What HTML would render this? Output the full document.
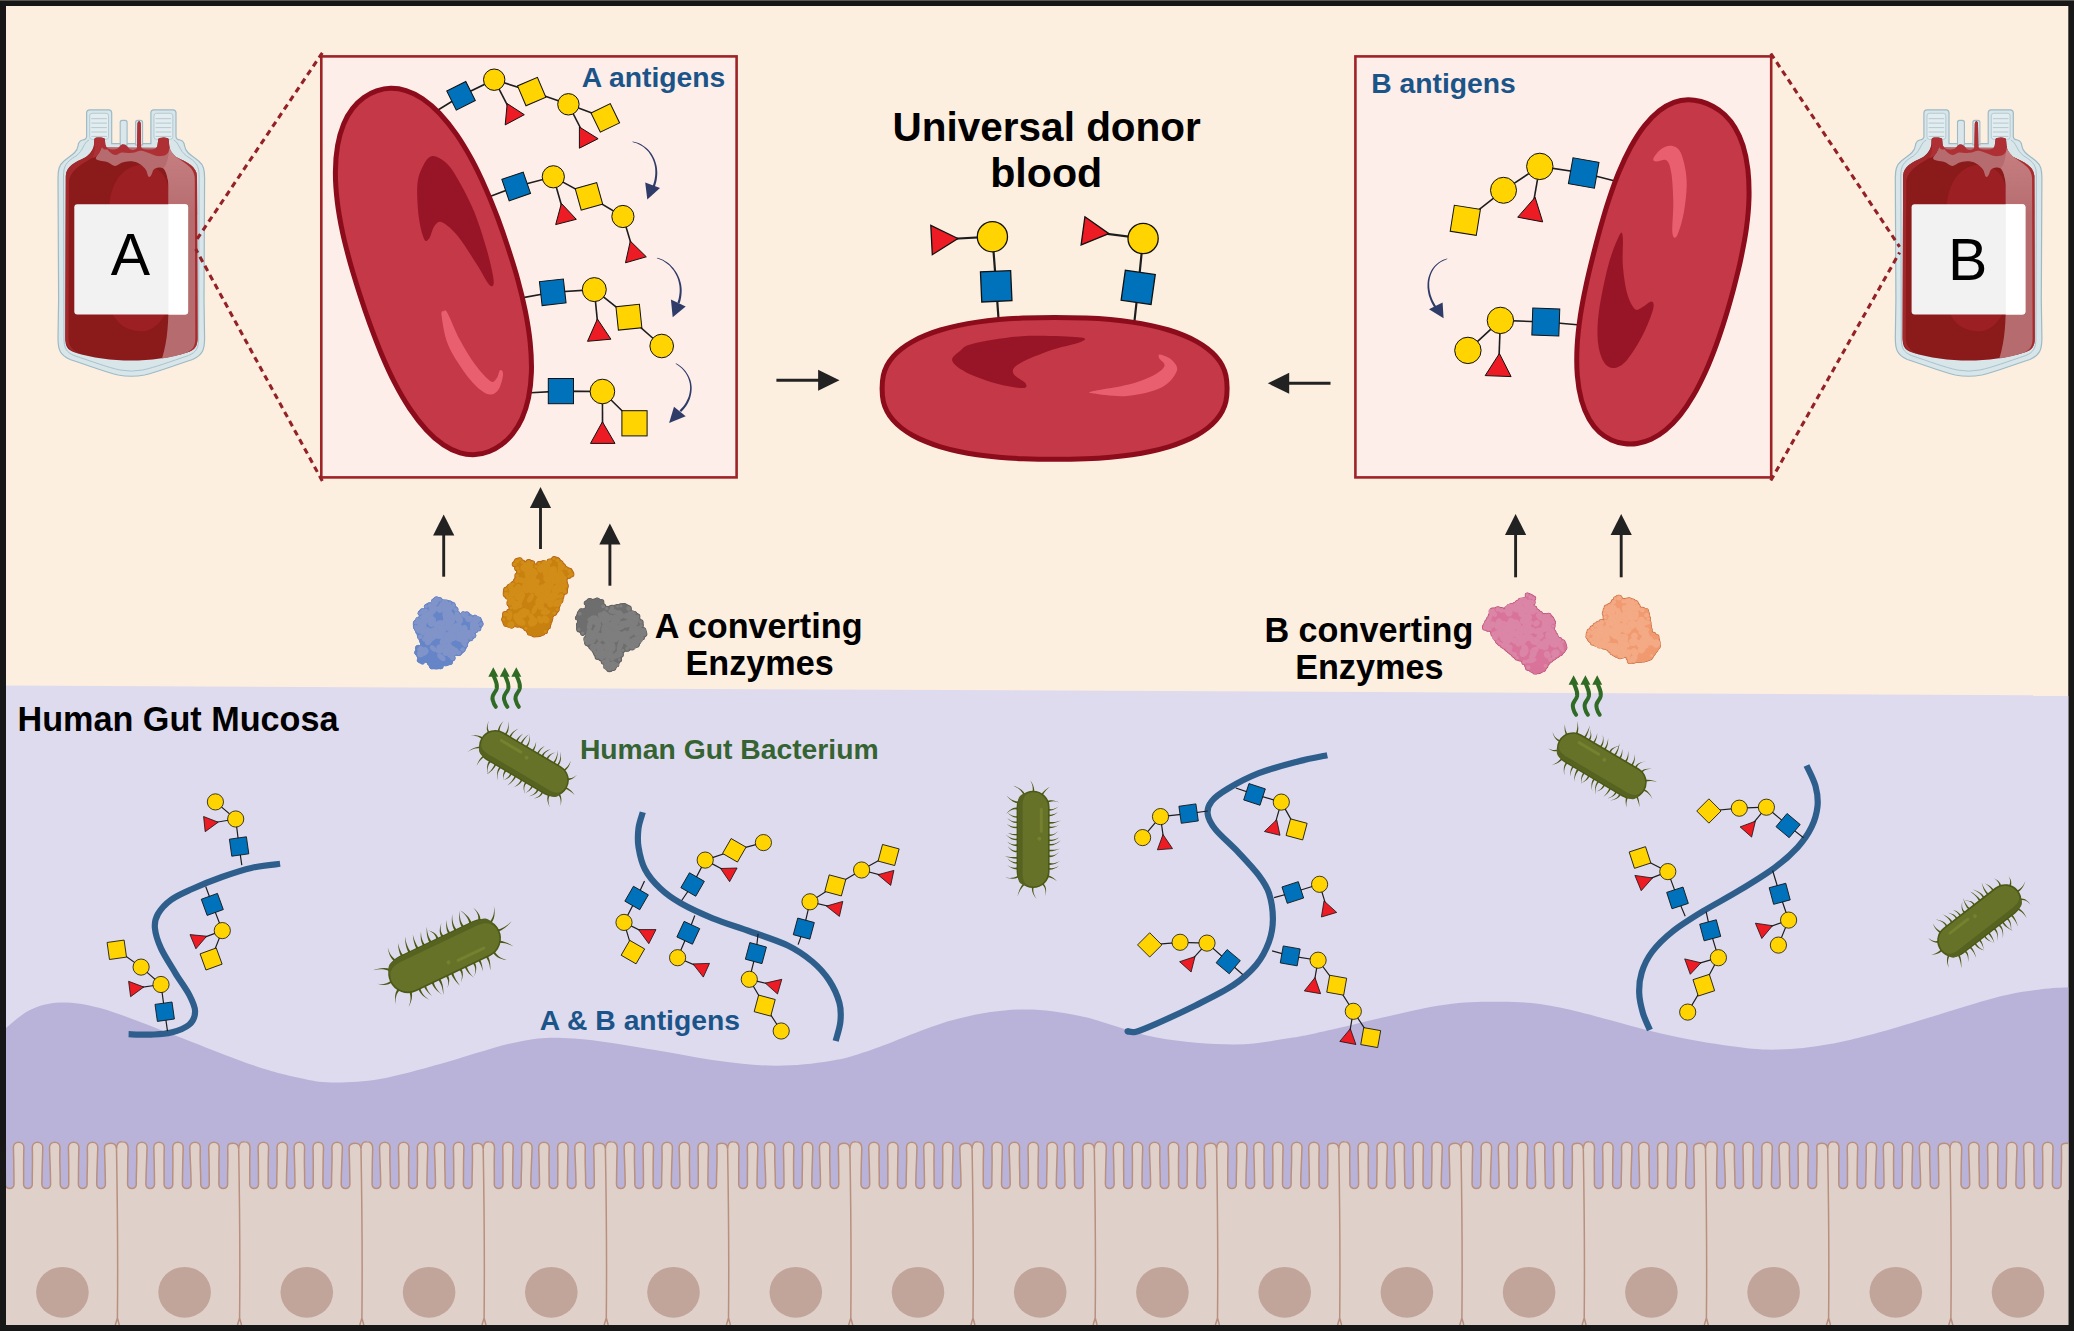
<!DOCTYPE html>
<html lang="en"><head><meta charset="utf-8"><title>Universal donor blood - gut enzymes</title>
<style>html,body{margin:0;padding:0;background:#171717}svg{display:block}text{font-family:"Liberation Sans",sans-serif}</style></head><body>
<svg width="2074" height="1331" viewBox="0 0 2074 1331">
<defs><linearGradient id="shg" gradientUnits="userSpaceOnUse" x1="0" y1="150" x2="0" y2="215"><stop offset="0" stop-color="#C67E80"/><stop offset="0.55" stop-color="#BE7577"/><stop offset="1" stop-color="#B66C6E"/></linearGradient><clipPath id="inner"><rect x="6" y="6" width="2062.3" height="1319"/></clipPath></defs>
<rect x="0" y="0" width="2074" height="1331" fill="#171717"/>
<rect x="0" y="0" width="2074" height="1" fill="#5a5651"/>
<rect x="6" y="6" width="2062.3" height="1319" fill="#FDEFDF"/>
<path d="M6 685.6 L2068.3 695.3 L2068.3 1200 L6 1200Z" fill="#DFDBEE"/>
<path d="M6 1028C10 1025 21 1014.2 30 1010C39 1005.8 48.3 1002.8 60 1002.5C71.7 1002.2 83.7 1003.6 100 1008C116.3 1012.4 132.4 1019.2 157.8 1028.7C183.2 1038.2 228.8 1056.8 252.5 1065C276.2 1073.2 286.9 1075.1 300 1078C313.1 1080.9 318.1 1082.2 331.4 1082.4C344.7 1082.6 361.6 1082.2 380 1079C398.4 1075.8 418.6 1069.8 441.9 1063.5C465.2 1057.2 498 1045.6 520 1041.4C542 1037.2 551.5 1037.1 574 1038.5C596.5 1039.9 630.7 1046.2 655 1050C679.3 1053.8 699.8 1058.4 720 1061C740.2 1063.6 758.2 1065.7 776.5 1065.7C794.8 1065.7 814.2 1063.6 830 1061C845.8 1058.4 850.7 1056.8 871 1050C891.3 1043.2 927.2 1027 952 1020.3C976.8 1013.5 998.2 1010.2 1019.5 1009.5C1040.8 1008.8 1057.2 1011.2 1080 1015.9C1102.8 1020.6 1131 1032.8 1156.6 1037.6C1182.1 1042.4 1211.1 1044.4 1233.3 1044.5C1255.5 1044.6 1273 1040.6 1290 1038C1307 1035.4 1310.9 1034.1 1335.5 1028.7C1360.1 1023.3 1409.9 1010.2 1437.6 1005.7C1465.3 1001.2 1481.1 1001.5 1501.5 1001.8C1521.9 1002.1 1533.2 1002.2 1560 1007.5C1586.8 1012.8 1633.9 1027.4 1662.2 1033.8C1690.5 1040.2 1710.8 1043.4 1730 1046C1749.2 1048.6 1760.4 1049.9 1777.1 1049.6C1793.8 1049.3 1810.8 1047.5 1830 1044C1849.2 1040.5 1864.7 1036.4 1892.1 1028.7C1919.5 1021 1969.6 1004.5 1994.3 998C2019 991.5 2027.7 991.3 2040 989.5C2052.3 987.7 2063.6 987.7 2068.3 987.3 L2068.3 1200 L6 1200Z" fill="#BAB3D9"/>
<g clip-path="url(#inner)">
<path d="M-5.7 1149.2 C-5.6 1143.7 -3.7 1141.6 -0.1 1141.8 C3.4 1141.8 5.4 1143.7 5.4 1148.2 C4.8 1166.2 5.6 1168.4 5.4 1184 C5.1 1189.9 14.3 1189.9 14 1184 C13.8 1168.4 14 1166.2 13.4 1147.6 C13.4 1140.5 23.9 1140.5 23.9 1147.6 C23.3 1166.2 23.8 1168.4 23.6 1184 C23.3 1189.9 32.6 1189.9 32.3 1184 C32.1 1168.4 32.9 1166.2 32.3 1147.6 C32.3 1140.5 42.8 1140.5 42.8 1147.6 C42.2 1166.2 42.1 1168.4 41.9 1184 C41.6 1189.9 50.9 1189.9 50.6 1184 C50.4 1168.4 50.1 1166.2 49.5 1147.6 C49.5 1140.5 60 1140.5 60 1147.6 C59.4 1166.2 60.4 1168.4 60.2 1184 C59.9 1189.9 69.1 1189.9 68.8 1184 C68.6 1168.4 69 1166.2 68.4 1147.6 C68.4 1140.5 78.9 1140.5 78.9 1147.6 C78.3 1166.2 78.6 1168.4 78.4 1184 C78.1 1189.9 87.4 1189.9 87.1 1184 C86.9 1168.4 87.9 1166.2 87.3 1147.6 C87.3 1140.5 97.8 1140.5 97.8 1147.6 C97.2 1166.2 96.9 1168.4 96.7 1184 C96.4 1189.9 105.7 1189.9 105.4 1184 C105.2 1168.4 105.1 1166.2 104.5 1147.6 C104.7 1144.4 106.7 1143.2 110.9 1143.2 C114.5 1143.2 116.4 1144.7 116.5 1149.2 C116.6 1143.7 118.5 1141.6 122.1 1141.8 C126.1 1141.8 128.1 1143.7 128.1 1148.2 C127.5 1166.2 127.8 1168.4 127.6 1184 C127.3 1189.9 136.6 1189.9 136.3 1184 C136.1 1168.4 137.2 1166.2 136.6 1147.6 C136.6 1140.5 147.1 1140.5 147.1 1147.6 C146.5 1166.2 146.1 1168.4 145.9 1184 C145.6 1189.9 154.8 1189.9 154.5 1184 C154.3 1168.4 154.4 1166.2 153.8 1147.6 C153.8 1140.5 164.3 1140.5 164.3 1147.6 C163.7 1166.2 164.3 1168.4 164.1 1184 C163.8 1189.9 173.1 1189.9 172.8 1184 C172.6 1168.4 173.3 1166.2 172.7 1147.6 C172.7 1140.5 183.2 1140.5 183.2 1147.6 C182.6 1166.2 182.6 1168.4 182.4 1184 C182.1 1189.9 191.4 1189.9 191.1 1184 C190.9 1168.4 190.4 1166.2 189.8 1147.6 C189.8 1140.5 200.3 1140.5 200.3 1147.6 C199.7 1166.2 200.9 1168.4 200.7 1184 C200.4 1189.9 209.6 1189.9 209.3 1184 C209.1 1168.4 209.3 1166.2 208.7 1147.6 C208.7 1140.5 219.2 1140.5 219.2 1147.6 C218.6 1166.2 219.1 1168.4 218.9 1184 C218.6 1189.9 227.9 1189.9 227.6 1184 C227.4 1168.4 228.2 1166.2 227.7 1147.6 C227.4 1144.4 229.4 1143.2 233.1 1143.2 C236.7 1143.2 238.6 1144.7 238.7 1149.2 C238.8 1143.7 240.7 1141.6 244.3 1141.8 C248 1141.8 250 1143.7 250 1148.2 C249.4 1166.2 250 1168.4 249.8 1184 C249.5 1189.9 258.8 1189.9 258.5 1184 C258.3 1168.4 258.7 1166.2 258.1 1147.6 C258.1 1140.5 268.6 1140.5 268.6 1147.6 C267.9 1166.2 268.3 1168.4 268.1 1184 C267.8 1189.9 277.1 1189.9 276.8 1184 C276.6 1168.4 277.6 1166.2 277 1147.6 C277 1140.5 287.5 1140.5 287.5 1147.6 C286.9 1166.2 286.6 1168.4 286.4 1184 C286.1 1189.9 295.3 1189.9 295 1184 C294.8 1168.4 294.7 1166.2 294.1 1147.6 C294.1 1140.5 304.6 1140.5 304.6 1147.6 C304 1166.2 304.8 1168.4 304.6 1184 C304.3 1189.9 313.6 1189.9 313.3 1184 C313.1 1168.4 313.6 1166.2 313 1147.6 C313 1140.5 323.5 1140.5 323.5 1147.6 C322.9 1166.2 323.1 1168.4 322.9 1184 C322.6 1189.9 331.9 1189.9 331.6 1184 C331.4 1168.4 332.5 1166.2 331.9 1147.6 C331.9 1140.5 342.4 1140.5 342.4 1147.6 C341.8 1166.2 341.4 1168.4 341.2 1184 C340.9 1189.9 350.2 1189.9 349.9 1184 C349.7 1168.4 349.7 1166.2 349.1 1147.6 C349.2 1144.4 351.2 1143.2 355.4 1143.2 C359 1143.2 360.9 1144.7 361 1149.2 C361.1 1143.7 363 1141.6 366.6 1141.8 C370.7 1141.8 372.7 1143.7 372.7 1148.2 C372.1 1166.2 372.3 1168.4 372.1 1184 C371.8 1189.9 381 1189.9 380.7 1184 C380.5 1168.4 380.1 1166.2 379.5 1147.6 C379.5 1140.5 390 1140.5 390 1147.6 C389.4 1166.2 390.5 1168.4 390.3 1184 C390 1189.9 399.3 1189.9 399 1184 C398.8 1168.4 399 1166.2 398.4 1147.6 C398.4 1140.5 408.9 1140.5 408.9 1147.6 C408.3 1166.2 408.8 1168.4 408.6 1184 C408.3 1189.9 417.6 1189.9 417.3 1184 C417.1 1168.4 417.9 1166.2 417.3 1147.6 C417.3 1140.5 427.8 1140.5 427.8 1147.6 C427.2 1166.2 427.1 1168.4 426.9 1184 C426.6 1189.9 435.8 1189.9 435.5 1184 C435.3 1168.4 435.1 1166.2 434.4 1147.6 C434.4 1140.5 444.9 1140.5 444.9 1147.6 C444.3 1166.2 445.3 1168.4 445.1 1184 C444.8 1189.9 454.1 1189.9 453.8 1184 C453.6 1168.4 454 1166.2 453.4 1147.6 C453.4 1140.5 463.9 1140.5 463.9 1147.6 C463.3 1166.2 463.6 1168.4 463.4 1184 C463.1 1189.9 472.4 1189.9 472.1 1184 C471.9 1168.4 472.9 1166.2 472.3 1147.6 C471.9 1144.4 473.9 1143.2 477.6 1143.2 C481.2 1143.2 483.1 1144.7 483.2 1149.2 C483.3 1143.7 485.2 1141.6 488.8 1141.8 C492.5 1141.8 494.5 1143.7 494.5 1148.2 C493.9 1166.2 494.5 1168.4 494.3 1184 C494 1189.9 503.3 1189.9 503 1184 C502.8 1168.4 503.3 1166.2 502.7 1147.6 C502.7 1140.5 513.2 1140.5 513.2 1147.6 C512.6 1166.2 512.8 1168.4 512.6 1184 C512.3 1189.9 521.5 1189.9 521.2 1184 C521 1168.4 522.2 1166.2 521.6 1147.6 C521.6 1140.5 532.1 1140.5 532.1 1147.6 C531.5 1166.2 531 1168.4 530.8 1184 C530.5 1189.9 539.8 1189.9 539.5 1184 C539.3 1168.4 539.3 1166.2 538.7 1147.6 C538.7 1140.5 549.2 1140.5 549.2 1147.6 C548.6 1166.2 549.3 1168.4 549.1 1184 C548.8 1189.9 558.1 1189.9 557.8 1184 C557.6 1168.4 558.2 1166.2 557.6 1147.6 C557.6 1140.5 568.1 1140.5 568.1 1147.6 C567.5 1166.2 567.6 1168.4 567.4 1184 C567.1 1189.9 576.3 1189.9 576 1184 C575.8 1168.4 575.4 1166.2 574.8 1147.6 C574.8 1140.5 585.3 1140.5 585.3 1147.6 C584.7 1166.2 585.8 1168.4 585.6 1184 C585.3 1189.9 594.6 1189.9 594.3 1184 C594.1 1168.4 594.3 1166.2 593.7 1147.6 C593.8 1144.4 595.8 1143.2 599.8 1143.2 C603.4 1143.2 605.3 1144.7 605.4 1149.2 C605.5 1143.7 607.4 1141.6 611 1141.8 C615.2 1141.8 617.2 1143.7 617.2 1148.2 C616.6 1166.2 616.7 1168.4 616.5 1184 C616.2 1189.9 625.5 1189.9 625.2 1184 C625 1168.4 624.7 1166.2 624.1 1147.6 C624.1 1140.5 634.6 1140.5 634.6 1147.6 C634 1166.2 635 1168.4 634.8 1184 C634.5 1189.9 643.8 1189.9 643.5 1184 C643.3 1168.4 643.6 1166.2 643 1147.6 C643 1140.5 653.5 1140.5 653.5 1147.6 C652.9 1166.2 653.3 1168.4 653.1 1184 C652.8 1189.9 662 1189.9 661.7 1184 C661.5 1168.4 662.5 1166.2 661.9 1147.6 C661.9 1140.5 672.4 1140.5 672.4 1147.6 C671.8 1166.2 671.5 1168.4 671.3 1184 C671 1189.9 680.3 1189.9 680 1184 C679.8 1168.4 679.7 1166.2 679.1 1147.6 C679.1 1140.5 689.6 1140.5 689.6 1147.6 C689 1166.2 689.8 1168.4 689.6 1184 C689.3 1189.9 698.6 1189.9 698.3 1184 C698.1 1168.4 698.6 1166.2 698 1147.6 C698 1140.5 708.5 1140.5 708.5 1147.6 C707.9 1166.2 708.1 1168.4 707.9 1184 C707.6 1189.9 716.8 1189.9 716.5 1184 C716.3 1168.4 717.5 1166.2 716.9 1147.6 C716.5 1144.4 718.5 1143.2 722 1143.2 C725.6 1143.2 727.5 1144.7 727.6 1149.2 C727.8 1143.7 729.6 1141.6 733.2 1141.8 C737 1141.8 739 1143.7 739 1148.2 C738.4 1166.2 738.9 1168.4 738.7 1184 C738.4 1189.9 747.7 1189.9 747.4 1184 C747.2 1168.4 747.9 1166.2 747.3 1147.6 C747.3 1140.5 757.8 1140.5 757.8 1147.6 C757.2 1166.2 757.2 1168.4 757 1184 C756.7 1189.9 766 1189.9 765.7 1184 C765.5 1168.4 765 1166.2 764.4 1147.6 C764.4 1140.5 774.9 1140.5 774.9 1147.6 C774.3 1166.2 775.5 1168.4 775.3 1184 C775 1189.9 784.3 1189.9 784 1184 C783.8 1168.4 784 1166.2 783.4 1147.6 C783.4 1140.5 793.9 1140.5 793.9 1147.6 C793.2 1166.2 793.8 1168.4 793.6 1184 C793.3 1189.9 802.5 1189.9 802.2 1184 C802 1168.4 802.9 1166.2 802.3 1147.6 C802.3 1140.5 812.8 1140.5 812.8 1147.6 C812.2 1166.2 812 1168.4 811.8 1184 C811.5 1189.9 820.8 1189.9 820.5 1184 C820.3 1168.4 820 1166.2 819.4 1147.6 C819.4 1140.5 829.9 1140.5 829.9 1147.6 C829.3 1166.2 830.3 1168.4 830.1 1184 C829.8 1189.9 839.1 1189.9 838.8 1184 C838.6 1168.4 838.9 1166.2 838.3 1147.6 C838.3 1144.4 840.3 1143.2 844.3 1143.2 C847.9 1143.2 849.8 1144.7 849.9 1149.2 C850 1143.7 851.9 1141.6 855.5 1141.8 C859.8 1141.8 861.8 1143.7 861.8 1148.2 C861.1 1166.2 861.2 1168.4 861 1184 C860.7 1189.9 870 1189.9 869.7 1184 C869.5 1168.4 869.3 1166.2 868.7 1147.6 C868.7 1140.5 879.2 1140.5 879.2 1147.6 C878.6 1166.2 879.5 1168.4 879.2 1184 C879 1189.9 888.2 1189.9 887.9 1184 C887.7 1168.4 888.2 1166.2 887.6 1147.6 C887.6 1140.5 898.1 1140.5 898.1 1147.6 C897.5 1166.2 897.7 1168.4 897.5 1184 C897.2 1189.9 906.5 1189.9 906.2 1184 C906 1168.4 907.1 1166.2 906.5 1147.6 C906.5 1140.5 917 1140.5 917 1147.6 C916.4 1166.2 916 1168.4 915.8 1184 C915.5 1189.9 924.8 1189.9 924.5 1184 C924.3 1168.4 924.3 1166.2 923.7 1147.6 C923.7 1140.5 934.2 1140.5 934.2 1147.6 C933.6 1166.2 934.3 1168.4 934.1 1184 C933.8 1189.9 943 1189.9 942.7 1184 C942.5 1168.4 943.2 1166.2 942.6 1147.6 C942.6 1140.5 953.1 1140.5 953.1 1147.6 C952.5 1166.2 952.5 1168.4 952.3 1184 C952 1189.9 961.3 1189.9 961 1184 C960.8 1168.4 960.4 1166.2 959.8 1147.6 C960.1 1144.4 962.1 1143.2 966.5 1143.2 C970.1 1143.2 972 1144.7 972.1 1149.2 C972.2 1143.7 974.1 1141.6 977.7 1141.8 C981.6 1141.8 983.6 1143.7 983.6 1148.2 C983 1166.2 983.4 1168.4 983.2 1184 C982.9 1189.9 992.2 1189.9 991.9 1184 C991.7 1168.4 992.5 1166.2 991.9 1147.6 C991.9 1140.5 1002.4 1140.5 1002.4 1147.6 C1001.8 1166.2 1001.7 1168.4 1001.5 1184 C1001.2 1189.9 1010.5 1189.9 1010.2 1184 C1010 1168.4 1009.7 1166.2 1009.1 1147.6 C1009.1 1140.5 1019.6 1140.5 1019.6 1147.6 C1019 1166.2 1020 1168.4 1019.8 1184 C1019.5 1189.9 1028.7 1189.9 1028.4 1184 C1028.2 1168.4 1028.6 1166.2 1028 1147.6 C1028 1140.5 1038.5 1140.5 1038.5 1147.6 C1037.9 1166.2 1038.2 1168.4 1038 1184 C1037.7 1189.9 1047 1189.9 1046.7 1184 C1046.5 1168.4 1047.5 1166.2 1046.9 1147.6 C1046.9 1140.5 1057.4 1140.5 1057.4 1147.6 C1056.8 1166.2 1056.5 1168.4 1056.3 1184 C1056 1189.9 1065.3 1189.9 1065 1184 C1064.8 1168.4 1064.6 1166.2 1064 1147.6 C1064 1140.5 1074.5 1140.5 1074.5 1147.6 C1073.9 1166.2 1074.8 1168.4 1074.6 1184 C1074.3 1189.9 1083.5 1189.9 1083.2 1184 C1083 1168.4 1083.5 1166.2 1082.9 1147.6 C1082.9 1144.4 1084.9 1143.2 1088.7 1143.2 C1092.3 1143.2 1094.2 1144.7 1094.3 1149.2 C1094.4 1143.7 1096.3 1141.6 1099.9 1141.8 C1104.3 1141.8 1106.3 1143.7 1106.3 1148.2 C1105.7 1166.2 1105.6 1168.4 1105.4 1184 C1105.1 1189.9 1114.4 1189.9 1114.1 1184 C1113.9 1168.4 1113.9 1166.2 1113.3 1147.6 C1113.3 1140.5 1123.8 1140.5 1123.8 1147.6 C1123.2 1166.2 1123.9 1168.4 1123.7 1184 C1123.4 1189.9 1132.7 1189.9 1132.4 1184 C1132.2 1168.4 1132.8 1166.2 1132.2 1147.6 C1132.2 1140.5 1142.7 1140.5 1142.7 1147.6 C1142.1 1166.2 1142.2 1168.4 1142 1184 C1141.7 1189.9 1150.9 1189.9 1150.6 1184 C1150.4 1168.4 1150 1166.2 1149.4 1147.6 C1149.4 1140.5 1159.9 1140.5 1159.9 1147.6 C1159.3 1166.2 1160.4 1168.4 1160.2 1184 C1159.9 1189.9 1169.2 1189.9 1168.9 1184 C1168.7 1168.4 1168.9 1166.2 1168.3 1147.6 C1168.3 1140.5 1178.8 1140.5 1178.8 1147.6 C1178.2 1166.2 1178.7 1168.4 1178.5 1184 C1178.2 1189.9 1187.5 1189.9 1187.2 1184 C1187 1168.4 1187.8 1166.2 1187.2 1147.6 C1187.2 1140.5 1197.7 1140.5 1197.7 1147.6 C1197.1 1166.2 1197 1168.4 1196.8 1184 C1196.5 1189.9 1205.8 1189.9 1205.5 1184 C1205.3 1168.4 1205 1166.2 1204.4 1147.6 C1204.7 1144.4 1206.7 1143.2 1211 1143.2 C1214.6 1143.2 1216.5 1144.7 1216.6 1149.2 C1216.7 1143.7 1218.6 1141.6 1222.2 1141.8 C1226.1 1141.8 1228.1 1143.7 1228.1 1148.2 C1227.5 1166.2 1227.9 1168.4 1227.7 1184 C1227.4 1189.9 1236.6 1189.9 1236.3 1184 C1236.1 1168.4 1237.1 1166.2 1236.5 1147.6 C1236.5 1140.5 1247 1140.5 1247 1147.6 C1246.4 1166.2 1246.1 1168.4 1245.9 1184 C1245.6 1189.9 1254.9 1189.9 1254.6 1184 C1254.4 1168.4 1254.3 1166.2 1253.7 1147.6 C1253.7 1140.5 1264.2 1140.5 1264.2 1147.6 C1263.6 1166.2 1264.4 1168.4 1264.2 1184 C1263.9 1189.9 1273.2 1189.9 1272.9 1184 C1272.7 1168.4 1273.2 1166.2 1272.6 1147.6 C1272.6 1140.5 1283.1 1140.5 1283.1 1147.6 C1282.5 1166.2 1282.7 1168.4 1282.5 1184 C1282.2 1189.9 1291.4 1189.9 1291.1 1184 C1290.9 1168.4 1292.1 1166.2 1291.5 1147.6 C1291.5 1140.5 1302 1140.5 1302 1147.6 C1301.4 1166.2 1300.9 1168.4 1300.7 1184 C1300.4 1189.9 1309.7 1189.9 1309.4 1184 C1309.2 1168.4 1309.2 1166.2 1308.7 1147.6 C1308.7 1140.5 1319.2 1140.5 1319.2 1147.6 C1318.6 1166.2 1319.2 1168.4 1319 1184 C1318.7 1189.9 1328 1189.9 1327.7 1184 C1327.5 1168.4 1328.2 1166.2 1327.6 1147.6 C1327.4 1144.4 1329.4 1143.2 1333.2 1143.2 C1336.8 1143.2 1338.7 1144.7 1338.8 1149.2 C1338.9 1143.7 1340.8 1141.6 1344.4 1141.8 C1347.9 1141.8 1349.9 1143.7 1349.9 1148.2 C1349.3 1166.2 1350.1 1168.4 1349.9 1184 C1349.6 1189.9 1358.9 1189.9 1358.6 1184 C1358.4 1168.4 1358.6 1166.2 1358 1147.6 C1358 1140.5 1368.5 1140.5 1368.5 1147.6 C1367.9 1166.2 1368.4 1168.4 1368.2 1184 C1367.9 1189.9 1377.1 1189.9 1376.8 1184 C1376.6 1168.4 1377.5 1166.2 1376.9 1147.6 C1376.9 1140.5 1387.4 1140.5 1387.4 1147.6 C1386.8 1166.2 1386.6 1168.4 1386.4 1184 C1386.1 1189.9 1395.4 1189.9 1395.1 1184 C1394.9 1168.4 1394.6 1166.2 1394 1147.6 C1394 1140.5 1404.5 1140.5 1404.5 1147.6 C1403.9 1166.2 1404.9 1168.4 1404.7 1184 C1404.4 1189.9 1413.7 1189.9 1413.4 1184 C1413.2 1168.4 1413.5 1166.2 1412.9 1147.6 C1412.9 1140.5 1423.4 1140.5 1423.4 1147.6 C1422.8 1166.2 1423.2 1168.4 1423 1184 C1422.7 1189.9 1432 1189.9 1431.7 1184 C1431.5 1168.4 1432.4 1166.2 1431.8 1147.6 C1431.8 1140.5 1442.3 1140.5 1442.3 1147.6 C1441.7 1166.2 1441.5 1168.4 1441.2 1184 C1441 1189.9 1450.2 1189.9 1449.9 1184 C1449.7 1168.4 1449.6 1166.2 1449 1147.6 C1449.2 1144.4 1451.2 1143.2 1455.4 1143.2 C1459 1143.2 1460.9 1144.7 1461 1149.2 C1461.1 1143.7 1463 1141.6 1466.6 1141.8 C1470.7 1141.8 1472.7 1143.7 1472.7 1148.2 C1472.1 1166.2 1472.3 1168.4 1472.1 1184 C1471.8 1189.9 1481.1 1189.9 1480.8 1184 C1480.6 1168.4 1481.7 1166.2 1481.1 1147.6 C1481.1 1140.5 1491.6 1140.5 1491.6 1147.6 C1491 1166.2 1490.6 1168.4 1490.4 1184 C1490.1 1189.9 1499.4 1189.9 1499.1 1184 C1498.9 1168.4 1498.9 1166.2 1498.3 1147.6 C1498.3 1140.5 1508.8 1140.5 1508.8 1147.6 C1508.2 1166.2 1508.9 1168.4 1508.7 1184 C1508.4 1189.9 1517.6 1189.9 1517.3 1184 C1517.1 1168.4 1517.8 1166.2 1517.2 1147.6 C1517.2 1140.5 1527.7 1140.5 1527.7 1147.6 C1527.1 1166.2 1527.1 1168.4 1526.9 1184 C1526.6 1189.9 1535.9 1189.9 1535.6 1184 C1535.4 1168.4 1535 1166.2 1534.4 1147.6 C1534.4 1140.5 1544.9 1140.5 1544.9 1147.6 C1544.3 1166.2 1545.4 1168.4 1545.2 1184 C1544.9 1189.9 1554.2 1189.9 1553.9 1184 C1553.7 1168.4 1553.9 1166.2 1553.3 1147.6 C1553.3 1140.5 1563.8 1140.5 1563.8 1147.6 C1563.2 1166.2 1563.7 1168.4 1563.5 1184 C1563.2 1189.9 1572.5 1189.9 1572.2 1184 C1572 1168.4 1572.8 1166.2 1572.2 1147.6 C1571.9 1144.4 1573.9 1143.2 1577.7 1143.2 C1581.3 1143.2 1583.2 1144.7 1583.3 1149.2 C1583.4 1143.7 1585.3 1141.6 1588.9 1141.8 C1592.5 1141.8 1594.5 1143.7 1594.5 1148.2 C1593.9 1166.2 1594.6 1168.4 1594.4 1184 C1594.1 1189.9 1603.3 1189.9 1603 1184 C1602.8 1168.4 1603.2 1166.2 1602.6 1147.6 C1602.6 1140.5 1613.1 1140.5 1613.1 1147.6 C1612.5 1166.2 1612.8 1168.4 1612.6 1184 C1612.3 1189.9 1621.6 1189.9 1621.3 1184 C1621.1 1168.4 1622.1 1166.2 1621.5 1147.6 C1621.5 1140.5 1632 1140.5 1632 1147.6 C1631.4 1166.2 1631.1 1168.4 1630.9 1184 C1630.6 1189.9 1639.9 1189.9 1639.6 1184 C1639.4 1168.4 1639.2 1166.2 1638.6 1147.6 C1638.6 1140.5 1649.1 1140.5 1649.1 1147.6 C1648.5 1166.2 1649.4 1168.4 1649.2 1184 C1648.9 1189.9 1658.1 1189.9 1657.8 1184 C1657.6 1168.4 1658.1 1166.2 1657.5 1147.6 C1657.5 1140.5 1668 1140.5 1668 1147.6 C1667.5 1166.2 1667.6 1168.4 1667.4 1184 C1667.1 1189.9 1676.4 1189.9 1676.1 1184 C1675.9 1168.4 1677.1 1166.2 1676.5 1147.6 C1676.5 1140.5 1687 1140.5 1687 1147.6 C1686.4 1166.2 1685.9 1168.4 1685.7 1184 C1685.4 1189.9 1694.7 1189.9 1694.4 1184 C1694.2 1168.4 1694.2 1166.2 1693.6 1147.6 C1693.8 1144.4 1695.8 1143.2 1699.9 1143.2 C1703.5 1143.2 1705.4 1144.7 1705.5 1149.2 C1705.6 1143.7 1707.5 1141.6 1711.1 1141.8 C1715.2 1141.8 1717.2 1143.7 1717.2 1148.2 C1716.6 1166.2 1716.8 1168.4 1716.6 1184 C1716.3 1189.9 1725.6 1189.9 1725.3 1184 C1725.1 1168.4 1724.6 1166.2 1724 1147.6 C1724 1140.5 1734.5 1140.5 1734.5 1147.6 C1733.9 1166.2 1735.1 1168.4 1734.9 1184 C1734.6 1189.9 1743.8 1189.9 1743.5 1184 C1743.3 1168.4 1743.5 1166.2 1742.9 1147.6 C1742.9 1140.5 1753.4 1140.5 1753.4 1147.6 C1752.8 1166.2 1753.3 1168.4 1753.1 1184 C1752.8 1189.9 1762.1 1189.9 1761.8 1184 C1761.6 1168.4 1762.4 1166.2 1761.8 1147.6 C1761.8 1140.5 1772.3 1140.5 1772.3 1147.6 C1771.7 1166.2 1771.6 1168.4 1771.4 1184 C1771.1 1189.9 1780.4 1189.9 1780.1 1184 C1779.9 1168.4 1779.6 1166.2 1779 1147.6 C1779 1140.5 1789.5 1140.5 1789.5 1147.6 C1788.9 1166.2 1789.9 1168.4 1789.7 1184 C1789.4 1189.9 1798.6 1189.9 1798.3 1184 C1798.1 1168.4 1798.5 1166.2 1797.9 1147.6 C1797.9 1140.5 1808.4 1140.5 1808.4 1147.6 C1807.8 1166.2 1808.1 1168.4 1807.9 1184 C1807.6 1189.9 1816.9 1189.9 1816.6 1184 C1816.4 1168.4 1817.4 1166.2 1816.8 1147.6 C1816.5 1144.4 1818.5 1143.2 1822.1 1143.2 C1825.7 1143.2 1827.6 1144.7 1827.7 1149.2 C1827.8 1143.7 1829.7 1141.6 1833.3 1141.8 C1837 1141.8 1839 1143.7 1839 1148.2 C1838.4 1166.2 1839 1168.4 1838.8 1184 C1838.5 1189.9 1847.8 1189.9 1847.5 1184 C1847.3 1168.4 1847.8 1166.2 1847.2 1147.6 C1847.2 1140.5 1857.7 1140.5 1857.7 1147.6 C1857.1 1166.2 1857.3 1168.4 1857.1 1184 C1856.8 1189.9 1866.1 1189.9 1865.8 1184 C1865.6 1168.4 1866.7 1166.2 1866.1 1147.6 C1866.1 1140.5 1876.6 1140.5 1876.6 1147.6 C1876 1166.2 1875.6 1168.4 1875.4 1184 C1875.1 1189.9 1884.3 1189.9 1884 1184 C1883.8 1168.4 1883.9 1166.2 1883.3 1147.6 C1883.3 1140.5 1893.8 1140.5 1893.8 1147.6 C1893.2 1166.2 1893.8 1168.4 1893.6 1184 C1893.3 1189.9 1902.6 1189.9 1902.3 1184 C1902.1 1168.4 1902.8 1166.2 1902.2 1147.6 C1902.2 1140.5 1912.7 1140.5 1912.7 1147.6 C1912.1 1166.2 1912.1 1168.4 1911.9 1184 C1911.6 1189.9 1920.9 1189.9 1920.6 1184 C1920.4 1168.4 1919.9 1166.2 1919.3 1147.6 C1919.3 1140.5 1929.8 1140.5 1929.8 1147.6 C1929.2 1166.2 1930.4 1168.4 1930.2 1184 C1929.9 1189.9 1939.1 1189.9 1938.8 1184 C1938.6 1168.4 1938.8 1166.2 1938.2 1147.6 C1938.3 1144.4 1940.3 1143.2 1944.4 1143.2 C1948 1143.2 1949.9 1144.7 1950 1149.2 C1950 1143.7 1952 1141.6 1955.5 1141.8 C1959.7 1141.8 1961.7 1143.7 1961.7 1148.2 C1961.1 1166.2 1961.2 1168.4 1961 1184 C1960.8 1189.9 1970 1189.9 1969.7 1184 C1969.5 1168.4 1969.2 1166.2 1968.6 1147.6 C1968.6 1140.5 1979.1 1140.5 1979.1 1147.6 C1978.5 1166.2 1979.5 1168.4 1979.3 1184 C1979 1189.9 1988.3 1189.9 1988 1184 C1987.8 1168.4 1988.1 1166.2 1987.5 1147.6 C1987.5 1140.5 1998 1140.5 1998 1147.6 C1997.4 1166.2 1997.8 1168.4 1997.6 1184 C1997.3 1189.9 2006.6 1189.9 2006.3 1184 C2006.1 1168.4 2007 1166.2 2006.5 1147.6 C2006.5 1140.5 2017 1140.5 2017 1147.6 C2016.4 1166.2 2016.1 1168.4 2015.9 1184 C2015.6 1189.9 2024.8 1189.9 2024.5 1184 C2024.3 1168.4 2024.2 1166.2 2023.6 1147.6 C2023.6 1140.5 2034.1 1140.5 2034.1 1147.6 C2033.5 1166.2 2034.3 1168.4 2034.1 1184 C2033.8 1189.9 2043.1 1189.9 2042.8 1184 C2042.6 1168.4 2043.1 1166.2 2042.5 1147.6 C2042.5 1140.5 2053 1140.5 2053 1147.6 C2052.4 1166.2 2052.6 1168.4 2052.4 1184 C2052.1 1189.9 2061.4 1189.9 2061.1 1184 C2060.9 1168.4 2062 1166.2 2061.4 1147.6 C2061 1144.4 2063 1143.2 2066.6 1143.2 C2070.2 1143.2 2072.1 1144.7 2072.2 1149.2 C2072.3 1143.7 2074.2 1141.6 2077.8 1141.8 C2081.6 1141.8 2083.6 1143.7 2083.6 1148.2 C2083 1166.2 2083.5 1168.4 2083.3 1184 C2083 1189.9 2092.2 1189.9 2091.9 1184 C2091.8 1168.4 2092.4 1166.2 2091.8 1147.6 C2091.8 1140.5 2102.3 1140.5 2102.3 1147.6 C2101.7 1166.2 2101.8 1168.4 2101.6 1184 C2101.2 1189.9 2110.5 1189.9 2110.2 1184 C2110 1168.4 2109.6 1166.2 2109 1147.6 C2109 1140.5 2119.5 1140.5 2119.5 1147.6 C2118.9 1166.2 2120 1168.4 2119.8 1184 C2119.5 1189.9 2128.8 1189.9 2128.5 1184 C2128.3 1168.4 2128.5 1166.2 2127.9 1147.6 C2127.9 1140.5 2138.4 1140.5 2138.4 1147.6 C2137.8 1166.2 2138.3 1168.4 2138.1 1184 C2137.8 1189.9 2147.1 1189.9 2146.8 1184 C2146.6 1168.4 2147.4 1166.2 2146.8 1147.6 C2146.8 1140.5 2157.3 1140.5 2157.3 1147.6 C2156.7 1166.2 2156.6 1168.4 2156.4 1184 C2156.1 1189.9 2165.3 1189.9 2165 1184 C2164.8 1168.4 2164.5 1166.2 2163.9 1147.6 C2163.9 1140.5 2174.4 1140.5 2174.4 1147.6 C2173.8 1166.2 2174.8 1168.4 2174.6 1184 C2174.3 1189.9 2183.6 1189.9 2183.3 1184 C2183.1 1168.4 2183.4 1166.2 2182.8 1147.6 C2182.8 1144.4 2184.8 1143.2 2188.8 1143.2 C2192.4 1143.2 2194.3 1144.7 2194.4 1149.2 L2194.4 1326 L-5.7 1326Z" fill="#DFD1CA"/>
<path d="M-5.7 1149.2 C-5.6 1143.7 -3.7 1141.6 -0.1 1141.8 C3.4 1141.8 5.4 1143.7 5.4 1148.2 C4.8 1166.2 5.6 1168.4 5.4 1184 C5.1 1189.9 14.3 1189.9 14 1184 C13.8 1168.4 14 1166.2 13.4 1147.6 C13.4 1140.5 23.9 1140.5 23.9 1147.6 C23.3 1166.2 23.8 1168.4 23.6 1184 C23.3 1189.9 32.6 1189.9 32.3 1184 C32.1 1168.4 32.9 1166.2 32.3 1147.6 C32.3 1140.5 42.8 1140.5 42.8 1147.6 C42.2 1166.2 42.1 1168.4 41.9 1184 C41.6 1189.9 50.9 1189.9 50.6 1184 C50.4 1168.4 50.1 1166.2 49.5 1147.6 C49.5 1140.5 60 1140.5 60 1147.6 C59.4 1166.2 60.4 1168.4 60.2 1184 C59.9 1189.9 69.1 1189.9 68.8 1184 C68.6 1168.4 69 1166.2 68.4 1147.6 C68.4 1140.5 78.9 1140.5 78.9 1147.6 C78.3 1166.2 78.6 1168.4 78.4 1184 C78.1 1189.9 87.4 1189.9 87.1 1184 C86.9 1168.4 87.9 1166.2 87.3 1147.6 C87.3 1140.5 97.8 1140.5 97.8 1147.6 C97.2 1166.2 96.9 1168.4 96.7 1184 C96.4 1189.9 105.7 1189.9 105.4 1184 C105.2 1168.4 105.1 1166.2 104.5 1147.6 C104.7 1144.4 106.7 1143.2 110.9 1143.2 C114.5 1143.2 116.4 1144.7 116.5 1149.2 C116.6 1143.7 118.5 1141.6 122.1 1141.8 C126.1 1141.8 128.1 1143.7 128.1 1148.2 C127.5 1166.2 127.8 1168.4 127.6 1184 C127.3 1189.9 136.6 1189.9 136.3 1184 C136.1 1168.4 137.2 1166.2 136.6 1147.6 C136.6 1140.5 147.1 1140.5 147.1 1147.6 C146.5 1166.2 146.1 1168.4 145.9 1184 C145.6 1189.9 154.8 1189.9 154.5 1184 C154.3 1168.4 154.4 1166.2 153.8 1147.6 C153.8 1140.5 164.3 1140.5 164.3 1147.6 C163.7 1166.2 164.3 1168.4 164.1 1184 C163.8 1189.9 173.1 1189.9 172.8 1184 C172.6 1168.4 173.3 1166.2 172.7 1147.6 C172.7 1140.5 183.2 1140.5 183.2 1147.6 C182.6 1166.2 182.6 1168.4 182.4 1184 C182.1 1189.9 191.4 1189.9 191.1 1184 C190.9 1168.4 190.4 1166.2 189.8 1147.6 C189.8 1140.5 200.3 1140.5 200.3 1147.6 C199.7 1166.2 200.9 1168.4 200.7 1184 C200.4 1189.9 209.6 1189.9 209.3 1184 C209.1 1168.4 209.3 1166.2 208.7 1147.6 C208.7 1140.5 219.2 1140.5 219.2 1147.6 C218.6 1166.2 219.1 1168.4 218.9 1184 C218.6 1189.9 227.9 1189.9 227.6 1184 C227.4 1168.4 228.2 1166.2 227.7 1147.6 C227.4 1144.4 229.4 1143.2 233.1 1143.2 C236.7 1143.2 238.6 1144.7 238.7 1149.2 C238.8 1143.7 240.7 1141.6 244.3 1141.8 C248 1141.8 250 1143.7 250 1148.2 C249.4 1166.2 250 1168.4 249.8 1184 C249.5 1189.9 258.8 1189.9 258.5 1184 C258.3 1168.4 258.7 1166.2 258.1 1147.6 C258.1 1140.5 268.6 1140.5 268.6 1147.6 C267.9 1166.2 268.3 1168.4 268.1 1184 C267.8 1189.9 277.1 1189.9 276.8 1184 C276.6 1168.4 277.6 1166.2 277 1147.6 C277 1140.5 287.5 1140.5 287.5 1147.6 C286.9 1166.2 286.6 1168.4 286.4 1184 C286.1 1189.9 295.3 1189.9 295 1184 C294.8 1168.4 294.7 1166.2 294.1 1147.6 C294.1 1140.5 304.6 1140.5 304.6 1147.6 C304 1166.2 304.8 1168.4 304.6 1184 C304.3 1189.9 313.6 1189.9 313.3 1184 C313.1 1168.4 313.6 1166.2 313 1147.6 C313 1140.5 323.5 1140.5 323.5 1147.6 C322.9 1166.2 323.1 1168.4 322.9 1184 C322.6 1189.9 331.9 1189.9 331.6 1184 C331.4 1168.4 332.5 1166.2 331.9 1147.6 C331.9 1140.5 342.4 1140.5 342.4 1147.6 C341.8 1166.2 341.4 1168.4 341.2 1184 C340.9 1189.9 350.2 1189.9 349.9 1184 C349.7 1168.4 349.7 1166.2 349.1 1147.6 C349.2 1144.4 351.2 1143.2 355.4 1143.2 C359 1143.2 360.9 1144.7 361 1149.2 C361.1 1143.7 363 1141.6 366.6 1141.8 C370.7 1141.8 372.7 1143.7 372.7 1148.2 C372.1 1166.2 372.3 1168.4 372.1 1184 C371.8 1189.9 381 1189.9 380.7 1184 C380.5 1168.4 380.1 1166.2 379.5 1147.6 C379.5 1140.5 390 1140.5 390 1147.6 C389.4 1166.2 390.5 1168.4 390.3 1184 C390 1189.9 399.3 1189.9 399 1184 C398.8 1168.4 399 1166.2 398.4 1147.6 C398.4 1140.5 408.9 1140.5 408.9 1147.6 C408.3 1166.2 408.8 1168.4 408.6 1184 C408.3 1189.9 417.6 1189.9 417.3 1184 C417.1 1168.4 417.9 1166.2 417.3 1147.6 C417.3 1140.5 427.8 1140.5 427.8 1147.6 C427.2 1166.2 427.1 1168.4 426.9 1184 C426.6 1189.9 435.8 1189.9 435.5 1184 C435.3 1168.4 435.1 1166.2 434.4 1147.6 C434.4 1140.5 444.9 1140.5 444.9 1147.6 C444.3 1166.2 445.3 1168.4 445.1 1184 C444.8 1189.9 454.1 1189.9 453.8 1184 C453.6 1168.4 454 1166.2 453.4 1147.6 C453.4 1140.5 463.9 1140.5 463.9 1147.6 C463.3 1166.2 463.6 1168.4 463.4 1184 C463.1 1189.9 472.4 1189.9 472.1 1184 C471.9 1168.4 472.9 1166.2 472.3 1147.6 C471.9 1144.4 473.9 1143.2 477.6 1143.2 C481.2 1143.2 483.1 1144.7 483.2 1149.2 C483.3 1143.7 485.2 1141.6 488.8 1141.8 C492.5 1141.8 494.5 1143.7 494.5 1148.2 C493.9 1166.2 494.5 1168.4 494.3 1184 C494 1189.9 503.3 1189.9 503 1184 C502.8 1168.4 503.3 1166.2 502.7 1147.6 C502.7 1140.5 513.2 1140.5 513.2 1147.6 C512.6 1166.2 512.8 1168.4 512.6 1184 C512.3 1189.9 521.5 1189.9 521.2 1184 C521 1168.4 522.2 1166.2 521.6 1147.6 C521.6 1140.5 532.1 1140.5 532.1 1147.6 C531.5 1166.2 531 1168.4 530.8 1184 C530.5 1189.9 539.8 1189.9 539.5 1184 C539.3 1168.4 539.3 1166.2 538.7 1147.6 C538.7 1140.5 549.2 1140.5 549.2 1147.6 C548.6 1166.2 549.3 1168.4 549.1 1184 C548.8 1189.9 558.1 1189.9 557.8 1184 C557.6 1168.4 558.2 1166.2 557.6 1147.6 C557.6 1140.5 568.1 1140.5 568.1 1147.6 C567.5 1166.2 567.6 1168.4 567.4 1184 C567.1 1189.9 576.3 1189.9 576 1184 C575.8 1168.4 575.4 1166.2 574.8 1147.6 C574.8 1140.5 585.3 1140.5 585.3 1147.6 C584.7 1166.2 585.8 1168.4 585.6 1184 C585.3 1189.9 594.6 1189.9 594.3 1184 C594.1 1168.4 594.3 1166.2 593.7 1147.6 C593.8 1144.4 595.8 1143.2 599.8 1143.2 C603.4 1143.2 605.3 1144.7 605.4 1149.2 C605.5 1143.7 607.4 1141.6 611 1141.8 C615.2 1141.8 617.2 1143.7 617.2 1148.2 C616.6 1166.2 616.7 1168.4 616.5 1184 C616.2 1189.9 625.5 1189.9 625.2 1184 C625 1168.4 624.7 1166.2 624.1 1147.6 C624.1 1140.5 634.6 1140.5 634.6 1147.6 C634 1166.2 635 1168.4 634.8 1184 C634.5 1189.9 643.8 1189.9 643.5 1184 C643.3 1168.4 643.6 1166.2 643 1147.6 C643 1140.5 653.5 1140.5 653.5 1147.6 C652.9 1166.2 653.3 1168.4 653.1 1184 C652.8 1189.9 662 1189.9 661.7 1184 C661.5 1168.4 662.5 1166.2 661.9 1147.6 C661.9 1140.5 672.4 1140.5 672.4 1147.6 C671.8 1166.2 671.5 1168.4 671.3 1184 C671 1189.9 680.3 1189.9 680 1184 C679.8 1168.4 679.7 1166.2 679.1 1147.6 C679.1 1140.5 689.6 1140.5 689.6 1147.6 C689 1166.2 689.8 1168.4 689.6 1184 C689.3 1189.9 698.6 1189.9 698.3 1184 C698.1 1168.4 698.6 1166.2 698 1147.6 C698 1140.5 708.5 1140.5 708.5 1147.6 C707.9 1166.2 708.1 1168.4 707.9 1184 C707.6 1189.9 716.8 1189.9 716.5 1184 C716.3 1168.4 717.5 1166.2 716.9 1147.6 C716.5 1144.4 718.5 1143.2 722 1143.2 C725.6 1143.2 727.5 1144.7 727.6 1149.2 C727.8 1143.7 729.6 1141.6 733.2 1141.8 C737 1141.8 739 1143.7 739 1148.2 C738.4 1166.2 738.9 1168.4 738.7 1184 C738.4 1189.9 747.7 1189.9 747.4 1184 C747.2 1168.4 747.9 1166.2 747.3 1147.6 C747.3 1140.5 757.8 1140.5 757.8 1147.6 C757.2 1166.2 757.2 1168.4 757 1184 C756.7 1189.9 766 1189.9 765.7 1184 C765.5 1168.4 765 1166.2 764.4 1147.6 C764.4 1140.5 774.9 1140.5 774.9 1147.6 C774.3 1166.2 775.5 1168.4 775.3 1184 C775 1189.9 784.3 1189.9 784 1184 C783.8 1168.4 784 1166.2 783.4 1147.6 C783.4 1140.5 793.9 1140.5 793.9 1147.6 C793.2 1166.2 793.8 1168.4 793.6 1184 C793.3 1189.9 802.5 1189.9 802.2 1184 C802 1168.4 802.9 1166.2 802.3 1147.6 C802.3 1140.5 812.8 1140.5 812.8 1147.6 C812.2 1166.2 812 1168.4 811.8 1184 C811.5 1189.9 820.8 1189.9 820.5 1184 C820.3 1168.4 820 1166.2 819.4 1147.6 C819.4 1140.5 829.9 1140.5 829.9 1147.6 C829.3 1166.2 830.3 1168.4 830.1 1184 C829.8 1189.9 839.1 1189.9 838.8 1184 C838.6 1168.4 838.9 1166.2 838.3 1147.6 C838.3 1144.4 840.3 1143.2 844.3 1143.2 C847.9 1143.2 849.8 1144.7 849.9 1149.2 C850 1143.7 851.9 1141.6 855.5 1141.8 C859.8 1141.8 861.8 1143.7 861.8 1148.2 C861.1 1166.2 861.2 1168.4 861 1184 C860.7 1189.9 870 1189.9 869.7 1184 C869.5 1168.4 869.3 1166.2 868.7 1147.6 C868.7 1140.5 879.2 1140.5 879.2 1147.6 C878.6 1166.2 879.5 1168.4 879.2 1184 C879 1189.9 888.2 1189.9 887.9 1184 C887.7 1168.4 888.2 1166.2 887.6 1147.6 C887.6 1140.5 898.1 1140.5 898.1 1147.6 C897.5 1166.2 897.7 1168.4 897.5 1184 C897.2 1189.9 906.5 1189.9 906.2 1184 C906 1168.4 907.1 1166.2 906.5 1147.6 C906.5 1140.5 917 1140.5 917 1147.6 C916.4 1166.2 916 1168.4 915.8 1184 C915.5 1189.9 924.8 1189.9 924.5 1184 C924.3 1168.4 924.3 1166.2 923.7 1147.6 C923.7 1140.5 934.2 1140.5 934.2 1147.6 C933.6 1166.2 934.3 1168.4 934.1 1184 C933.8 1189.9 943 1189.9 942.7 1184 C942.5 1168.4 943.2 1166.2 942.6 1147.6 C942.6 1140.5 953.1 1140.5 953.1 1147.6 C952.5 1166.2 952.5 1168.4 952.3 1184 C952 1189.9 961.3 1189.9 961 1184 C960.8 1168.4 960.4 1166.2 959.8 1147.6 C960.1 1144.4 962.1 1143.2 966.5 1143.2 C970.1 1143.2 972 1144.7 972.1 1149.2 C972.2 1143.7 974.1 1141.6 977.7 1141.8 C981.6 1141.8 983.6 1143.7 983.6 1148.2 C983 1166.2 983.4 1168.4 983.2 1184 C982.9 1189.9 992.2 1189.9 991.9 1184 C991.7 1168.4 992.5 1166.2 991.9 1147.6 C991.9 1140.5 1002.4 1140.5 1002.4 1147.6 C1001.8 1166.2 1001.7 1168.4 1001.5 1184 C1001.2 1189.9 1010.5 1189.9 1010.2 1184 C1010 1168.4 1009.7 1166.2 1009.1 1147.6 C1009.1 1140.5 1019.6 1140.5 1019.6 1147.6 C1019 1166.2 1020 1168.4 1019.8 1184 C1019.5 1189.9 1028.7 1189.9 1028.4 1184 C1028.2 1168.4 1028.6 1166.2 1028 1147.6 C1028 1140.5 1038.5 1140.5 1038.5 1147.6 C1037.9 1166.2 1038.2 1168.4 1038 1184 C1037.7 1189.9 1047 1189.9 1046.7 1184 C1046.5 1168.4 1047.5 1166.2 1046.9 1147.6 C1046.9 1140.5 1057.4 1140.5 1057.4 1147.6 C1056.8 1166.2 1056.5 1168.4 1056.3 1184 C1056 1189.9 1065.3 1189.9 1065 1184 C1064.8 1168.4 1064.6 1166.2 1064 1147.6 C1064 1140.5 1074.5 1140.5 1074.5 1147.6 C1073.9 1166.2 1074.8 1168.4 1074.6 1184 C1074.3 1189.9 1083.5 1189.9 1083.2 1184 C1083 1168.4 1083.5 1166.2 1082.9 1147.6 C1082.9 1144.4 1084.9 1143.2 1088.7 1143.2 C1092.3 1143.2 1094.2 1144.7 1094.3 1149.2 C1094.4 1143.7 1096.3 1141.6 1099.9 1141.8 C1104.3 1141.8 1106.3 1143.7 1106.3 1148.2 C1105.7 1166.2 1105.6 1168.4 1105.4 1184 C1105.1 1189.9 1114.4 1189.9 1114.1 1184 C1113.9 1168.4 1113.9 1166.2 1113.3 1147.6 C1113.3 1140.5 1123.8 1140.5 1123.8 1147.6 C1123.2 1166.2 1123.9 1168.4 1123.7 1184 C1123.4 1189.9 1132.7 1189.9 1132.4 1184 C1132.2 1168.4 1132.8 1166.2 1132.2 1147.6 C1132.2 1140.5 1142.7 1140.5 1142.7 1147.6 C1142.1 1166.2 1142.2 1168.4 1142 1184 C1141.7 1189.9 1150.9 1189.9 1150.6 1184 C1150.4 1168.4 1150 1166.2 1149.4 1147.6 C1149.4 1140.5 1159.9 1140.5 1159.9 1147.6 C1159.3 1166.2 1160.4 1168.4 1160.2 1184 C1159.9 1189.9 1169.2 1189.9 1168.9 1184 C1168.7 1168.4 1168.9 1166.2 1168.3 1147.6 C1168.3 1140.5 1178.8 1140.5 1178.8 1147.6 C1178.2 1166.2 1178.7 1168.4 1178.5 1184 C1178.2 1189.9 1187.5 1189.9 1187.2 1184 C1187 1168.4 1187.8 1166.2 1187.2 1147.6 C1187.2 1140.5 1197.7 1140.5 1197.7 1147.6 C1197.1 1166.2 1197 1168.4 1196.8 1184 C1196.5 1189.9 1205.8 1189.9 1205.5 1184 C1205.3 1168.4 1205 1166.2 1204.4 1147.6 C1204.7 1144.4 1206.7 1143.2 1211 1143.2 C1214.6 1143.2 1216.5 1144.7 1216.6 1149.2 C1216.7 1143.7 1218.6 1141.6 1222.2 1141.8 C1226.1 1141.8 1228.1 1143.7 1228.1 1148.2 C1227.5 1166.2 1227.9 1168.4 1227.7 1184 C1227.4 1189.9 1236.6 1189.9 1236.3 1184 C1236.1 1168.4 1237.1 1166.2 1236.5 1147.6 C1236.5 1140.5 1247 1140.5 1247 1147.6 C1246.4 1166.2 1246.1 1168.4 1245.9 1184 C1245.6 1189.9 1254.9 1189.9 1254.6 1184 C1254.4 1168.4 1254.3 1166.2 1253.7 1147.6 C1253.7 1140.5 1264.2 1140.5 1264.2 1147.6 C1263.6 1166.2 1264.4 1168.4 1264.2 1184 C1263.9 1189.9 1273.2 1189.9 1272.9 1184 C1272.7 1168.4 1273.2 1166.2 1272.6 1147.6 C1272.6 1140.5 1283.1 1140.5 1283.1 1147.6 C1282.5 1166.2 1282.7 1168.4 1282.5 1184 C1282.2 1189.9 1291.4 1189.9 1291.1 1184 C1290.9 1168.4 1292.1 1166.2 1291.5 1147.6 C1291.5 1140.5 1302 1140.5 1302 1147.6 C1301.4 1166.2 1300.9 1168.4 1300.7 1184 C1300.4 1189.9 1309.7 1189.9 1309.4 1184 C1309.2 1168.4 1309.2 1166.2 1308.7 1147.6 C1308.7 1140.5 1319.2 1140.5 1319.2 1147.6 C1318.6 1166.2 1319.2 1168.4 1319 1184 C1318.7 1189.9 1328 1189.9 1327.7 1184 C1327.5 1168.4 1328.2 1166.2 1327.6 1147.6 C1327.4 1144.4 1329.4 1143.2 1333.2 1143.2 C1336.8 1143.2 1338.7 1144.7 1338.8 1149.2 C1338.9 1143.7 1340.8 1141.6 1344.4 1141.8 C1347.9 1141.8 1349.9 1143.7 1349.9 1148.2 C1349.3 1166.2 1350.1 1168.4 1349.9 1184 C1349.6 1189.9 1358.9 1189.9 1358.6 1184 C1358.4 1168.4 1358.6 1166.2 1358 1147.6 C1358 1140.5 1368.5 1140.5 1368.5 1147.6 C1367.9 1166.2 1368.4 1168.4 1368.2 1184 C1367.9 1189.9 1377.1 1189.9 1376.8 1184 C1376.6 1168.4 1377.5 1166.2 1376.9 1147.6 C1376.9 1140.5 1387.4 1140.5 1387.4 1147.6 C1386.8 1166.2 1386.6 1168.4 1386.4 1184 C1386.1 1189.9 1395.4 1189.9 1395.1 1184 C1394.9 1168.4 1394.6 1166.2 1394 1147.6 C1394 1140.5 1404.5 1140.5 1404.5 1147.6 C1403.9 1166.2 1404.9 1168.4 1404.7 1184 C1404.4 1189.9 1413.7 1189.9 1413.4 1184 C1413.2 1168.4 1413.5 1166.2 1412.9 1147.6 C1412.9 1140.5 1423.4 1140.5 1423.4 1147.6 C1422.8 1166.2 1423.2 1168.4 1423 1184 C1422.7 1189.9 1432 1189.9 1431.7 1184 C1431.5 1168.4 1432.4 1166.2 1431.8 1147.6 C1431.8 1140.5 1442.3 1140.5 1442.3 1147.6 C1441.7 1166.2 1441.5 1168.4 1441.2 1184 C1441 1189.9 1450.2 1189.9 1449.9 1184 C1449.7 1168.4 1449.6 1166.2 1449 1147.6 C1449.2 1144.4 1451.2 1143.2 1455.4 1143.2 C1459 1143.2 1460.9 1144.7 1461 1149.2 C1461.1 1143.7 1463 1141.6 1466.6 1141.8 C1470.7 1141.8 1472.7 1143.7 1472.7 1148.2 C1472.1 1166.2 1472.3 1168.4 1472.1 1184 C1471.8 1189.9 1481.1 1189.9 1480.8 1184 C1480.6 1168.4 1481.7 1166.2 1481.1 1147.6 C1481.1 1140.5 1491.6 1140.5 1491.6 1147.6 C1491 1166.2 1490.6 1168.4 1490.4 1184 C1490.1 1189.9 1499.4 1189.9 1499.1 1184 C1498.9 1168.4 1498.9 1166.2 1498.3 1147.6 C1498.3 1140.5 1508.8 1140.5 1508.8 1147.6 C1508.2 1166.2 1508.9 1168.4 1508.7 1184 C1508.4 1189.9 1517.6 1189.9 1517.3 1184 C1517.1 1168.4 1517.8 1166.2 1517.2 1147.6 C1517.2 1140.5 1527.7 1140.5 1527.7 1147.6 C1527.1 1166.2 1527.1 1168.4 1526.9 1184 C1526.6 1189.9 1535.9 1189.9 1535.6 1184 C1535.4 1168.4 1535 1166.2 1534.4 1147.6 C1534.4 1140.5 1544.9 1140.5 1544.9 1147.6 C1544.3 1166.2 1545.4 1168.4 1545.2 1184 C1544.9 1189.9 1554.2 1189.9 1553.9 1184 C1553.7 1168.4 1553.9 1166.2 1553.3 1147.6 C1553.3 1140.5 1563.8 1140.5 1563.8 1147.6 C1563.2 1166.2 1563.7 1168.4 1563.5 1184 C1563.2 1189.9 1572.5 1189.9 1572.2 1184 C1572 1168.4 1572.8 1166.2 1572.2 1147.6 C1571.9 1144.4 1573.9 1143.2 1577.7 1143.2 C1581.3 1143.2 1583.2 1144.7 1583.3 1149.2 C1583.4 1143.7 1585.3 1141.6 1588.9 1141.8 C1592.5 1141.8 1594.5 1143.7 1594.5 1148.2 C1593.9 1166.2 1594.6 1168.4 1594.4 1184 C1594.1 1189.9 1603.3 1189.9 1603 1184 C1602.8 1168.4 1603.2 1166.2 1602.6 1147.6 C1602.6 1140.5 1613.1 1140.5 1613.1 1147.6 C1612.5 1166.2 1612.8 1168.4 1612.6 1184 C1612.3 1189.9 1621.6 1189.9 1621.3 1184 C1621.1 1168.4 1622.1 1166.2 1621.5 1147.6 C1621.5 1140.5 1632 1140.5 1632 1147.6 C1631.4 1166.2 1631.1 1168.4 1630.9 1184 C1630.6 1189.9 1639.9 1189.9 1639.6 1184 C1639.4 1168.4 1639.2 1166.2 1638.6 1147.6 C1638.6 1140.5 1649.1 1140.5 1649.1 1147.6 C1648.5 1166.2 1649.4 1168.4 1649.2 1184 C1648.9 1189.9 1658.1 1189.9 1657.8 1184 C1657.6 1168.4 1658.1 1166.2 1657.5 1147.6 C1657.5 1140.5 1668 1140.5 1668 1147.6 C1667.5 1166.2 1667.6 1168.4 1667.4 1184 C1667.1 1189.9 1676.4 1189.9 1676.1 1184 C1675.9 1168.4 1677.1 1166.2 1676.5 1147.6 C1676.5 1140.5 1687 1140.5 1687 1147.6 C1686.4 1166.2 1685.9 1168.4 1685.7 1184 C1685.4 1189.9 1694.7 1189.9 1694.4 1184 C1694.2 1168.4 1694.2 1166.2 1693.6 1147.6 C1693.8 1144.4 1695.8 1143.2 1699.9 1143.2 C1703.5 1143.2 1705.4 1144.7 1705.5 1149.2 C1705.6 1143.7 1707.5 1141.6 1711.1 1141.8 C1715.2 1141.8 1717.2 1143.7 1717.2 1148.2 C1716.6 1166.2 1716.8 1168.4 1716.6 1184 C1716.3 1189.9 1725.6 1189.9 1725.3 1184 C1725.1 1168.4 1724.6 1166.2 1724 1147.6 C1724 1140.5 1734.5 1140.5 1734.5 1147.6 C1733.9 1166.2 1735.1 1168.4 1734.9 1184 C1734.6 1189.9 1743.8 1189.9 1743.5 1184 C1743.3 1168.4 1743.5 1166.2 1742.9 1147.6 C1742.9 1140.5 1753.4 1140.5 1753.4 1147.6 C1752.8 1166.2 1753.3 1168.4 1753.1 1184 C1752.8 1189.9 1762.1 1189.9 1761.8 1184 C1761.6 1168.4 1762.4 1166.2 1761.8 1147.6 C1761.8 1140.5 1772.3 1140.5 1772.3 1147.6 C1771.7 1166.2 1771.6 1168.4 1771.4 1184 C1771.1 1189.9 1780.4 1189.9 1780.1 1184 C1779.9 1168.4 1779.6 1166.2 1779 1147.6 C1779 1140.5 1789.5 1140.5 1789.5 1147.6 C1788.9 1166.2 1789.9 1168.4 1789.7 1184 C1789.4 1189.9 1798.6 1189.9 1798.3 1184 C1798.1 1168.4 1798.5 1166.2 1797.9 1147.6 C1797.9 1140.5 1808.4 1140.5 1808.4 1147.6 C1807.8 1166.2 1808.1 1168.4 1807.9 1184 C1807.6 1189.9 1816.9 1189.9 1816.6 1184 C1816.4 1168.4 1817.4 1166.2 1816.8 1147.6 C1816.5 1144.4 1818.5 1143.2 1822.1 1143.2 C1825.7 1143.2 1827.6 1144.7 1827.7 1149.2 C1827.8 1143.7 1829.7 1141.6 1833.3 1141.8 C1837 1141.8 1839 1143.7 1839 1148.2 C1838.4 1166.2 1839 1168.4 1838.8 1184 C1838.5 1189.9 1847.8 1189.9 1847.5 1184 C1847.3 1168.4 1847.8 1166.2 1847.2 1147.6 C1847.2 1140.5 1857.7 1140.5 1857.7 1147.6 C1857.1 1166.2 1857.3 1168.4 1857.1 1184 C1856.8 1189.9 1866.1 1189.9 1865.8 1184 C1865.6 1168.4 1866.7 1166.2 1866.1 1147.6 C1866.1 1140.5 1876.6 1140.5 1876.6 1147.6 C1876 1166.2 1875.6 1168.4 1875.4 1184 C1875.1 1189.9 1884.3 1189.9 1884 1184 C1883.8 1168.4 1883.9 1166.2 1883.3 1147.6 C1883.3 1140.5 1893.8 1140.5 1893.8 1147.6 C1893.2 1166.2 1893.8 1168.4 1893.6 1184 C1893.3 1189.9 1902.6 1189.9 1902.3 1184 C1902.1 1168.4 1902.8 1166.2 1902.2 1147.6 C1902.2 1140.5 1912.7 1140.5 1912.7 1147.6 C1912.1 1166.2 1912.1 1168.4 1911.9 1184 C1911.6 1189.9 1920.9 1189.9 1920.6 1184 C1920.4 1168.4 1919.9 1166.2 1919.3 1147.6 C1919.3 1140.5 1929.8 1140.5 1929.8 1147.6 C1929.2 1166.2 1930.4 1168.4 1930.2 1184 C1929.9 1189.9 1939.1 1189.9 1938.8 1184 C1938.6 1168.4 1938.8 1166.2 1938.2 1147.6 C1938.3 1144.4 1940.3 1143.2 1944.4 1143.2 C1948 1143.2 1949.9 1144.7 1950 1149.2 C1950 1143.7 1952 1141.6 1955.5 1141.8 C1959.7 1141.8 1961.7 1143.7 1961.7 1148.2 C1961.1 1166.2 1961.2 1168.4 1961 1184 C1960.8 1189.9 1970 1189.9 1969.7 1184 C1969.5 1168.4 1969.2 1166.2 1968.6 1147.6 C1968.6 1140.5 1979.1 1140.5 1979.1 1147.6 C1978.5 1166.2 1979.5 1168.4 1979.3 1184 C1979 1189.9 1988.3 1189.9 1988 1184 C1987.8 1168.4 1988.1 1166.2 1987.5 1147.6 C1987.5 1140.5 1998 1140.5 1998 1147.6 C1997.4 1166.2 1997.8 1168.4 1997.6 1184 C1997.3 1189.9 2006.6 1189.9 2006.3 1184 C2006.1 1168.4 2007 1166.2 2006.5 1147.6 C2006.5 1140.5 2017 1140.5 2017 1147.6 C2016.4 1166.2 2016.1 1168.4 2015.9 1184 C2015.6 1189.9 2024.8 1189.9 2024.5 1184 C2024.3 1168.4 2024.2 1166.2 2023.6 1147.6 C2023.6 1140.5 2034.1 1140.5 2034.1 1147.6 C2033.5 1166.2 2034.3 1168.4 2034.1 1184 C2033.8 1189.9 2043.1 1189.9 2042.8 1184 C2042.6 1168.4 2043.1 1166.2 2042.5 1147.6 C2042.5 1140.5 2053 1140.5 2053 1147.6 C2052.4 1166.2 2052.6 1168.4 2052.4 1184 C2052.1 1189.9 2061.4 1189.9 2061.1 1184 C2060.9 1168.4 2062 1166.2 2061.4 1147.6 C2061 1144.4 2063 1143.2 2066.6 1143.2 C2070.2 1143.2 2072.1 1144.7 2072.2 1149.2 C2072.3 1143.7 2074.2 1141.6 2077.8 1141.8 C2081.6 1141.8 2083.6 1143.7 2083.6 1148.2 C2083 1166.2 2083.5 1168.4 2083.3 1184 C2083 1189.9 2092.2 1189.9 2091.9 1184 C2091.8 1168.4 2092.4 1166.2 2091.8 1147.6 C2091.8 1140.5 2102.3 1140.5 2102.3 1147.6 C2101.7 1166.2 2101.8 1168.4 2101.6 1184 C2101.2 1189.9 2110.5 1189.9 2110.2 1184 C2110 1168.4 2109.6 1166.2 2109 1147.6 C2109 1140.5 2119.5 1140.5 2119.5 1147.6 C2118.9 1166.2 2120 1168.4 2119.8 1184 C2119.5 1189.9 2128.8 1189.9 2128.5 1184 C2128.3 1168.4 2128.5 1166.2 2127.9 1147.6 C2127.9 1140.5 2138.4 1140.5 2138.4 1147.6 C2137.8 1166.2 2138.3 1168.4 2138.1 1184 C2137.8 1189.9 2147.1 1189.9 2146.8 1184 C2146.6 1168.4 2147.4 1166.2 2146.8 1147.6 C2146.8 1140.5 2157.3 1140.5 2157.3 1147.6 C2156.7 1166.2 2156.6 1168.4 2156.4 1184 C2156.1 1189.9 2165.3 1189.9 2165 1184 C2164.8 1168.4 2164.5 1166.2 2163.9 1147.6 C2163.9 1140.5 2174.4 1140.5 2174.4 1147.6 C2173.8 1166.2 2174.8 1168.4 2174.6 1184 C2174.3 1189.9 2183.6 1189.9 2183.3 1184 C2183.1 1168.4 2183.4 1166.2 2182.8 1147.6 C2182.8 1144.4 2184.8 1143.2 2188.8 1143.2 C2192.4 1143.2 2194.3 1144.7 2194.4 1149.2" fill="none" stroke="#B98F7E" stroke-width="1.5"/>
<path d="M116.5 1149.2 C117.4 1200 118 1260 117.4 1318 L115.3 1325 M117.4 1318 L119.3 1325" fill="none" stroke="#B98F7E" stroke-width="1.5"/>
<path d="M238.7 1149.2 C239.6 1200 240.2 1260 239.6 1318 L237.5 1325 M239.6 1318 L241.5 1325" fill="none" stroke="#B98F7E" stroke-width="1.5"/>
<path d="M361 1149.2 C361.9 1200 362.5 1260 361.9 1318 L359.8 1325 M361.9 1318 L363.8 1325" fill="none" stroke="#B98F7E" stroke-width="1.5"/>
<path d="M483.2 1149.2 C484.1 1200 484.7 1260 484.1 1318 L482 1325 M484.1 1318 L486 1325" fill="none" stroke="#B98F7E" stroke-width="1.5"/>
<path d="M605.4 1149.2 C606.3 1200 606.9 1260 606.3 1318 L604.2 1325 M606.3 1318 L608.2 1325" fill="none" stroke="#B98F7E" stroke-width="1.5"/>
<path d="M727.6 1149.2 C728.5 1200 729.1 1260 728.5 1318 L726.4 1325 M728.5 1318 L730.4 1325" fill="none" stroke="#B98F7E" stroke-width="1.5"/>
<path d="M849.9 1149.2 C850.8 1200 851.4 1260 850.8 1318 L848.7 1325 M850.8 1318 L852.7 1325" fill="none" stroke="#B98F7E" stroke-width="1.5"/>
<path d="M972.1 1149.2 C973 1200 973.6 1260 973 1318 L970.9 1325 M973 1318 L974.9 1325" fill="none" stroke="#B98F7E" stroke-width="1.5"/>
<path d="M1094.3 1149.2 C1095.2 1200 1095.8 1260 1095.2 1318 L1093.1 1325 M1095.2 1318 L1097.1 1325" fill="none" stroke="#B98F7E" stroke-width="1.5"/>
<path d="M1216.6 1149.2 C1217.5 1200 1218.1 1260 1217.5 1318 L1215.4 1325 M1217.5 1318 L1219.4 1325" fill="none" stroke="#B98F7E" stroke-width="1.5"/>
<path d="M1338.8 1149.2 C1339.7 1200 1340.3 1260 1339.7 1318 L1337.6 1325 M1339.7 1318 L1341.6 1325" fill="none" stroke="#B98F7E" stroke-width="1.5"/>
<path d="M1461 1149.2 C1461.9 1200 1462.5 1260 1461.9 1318 L1459.8 1325 M1461.9 1318 L1463.8 1325" fill="none" stroke="#B98F7E" stroke-width="1.5"/>
<path d="M1583.3 1149.2 C1584.2 1200 1584.8 1260 1584.2 1318 L1582.1 1325 M1584.2 1318 L1586.1 1325" fill="none" stroke="#B98F7E" stroke-width="1.5"/>
<path d="M1705.5 1149.2 C1706.4 1200 1707 1260 1706.4 1318 L1704.3 1325 M1706.4 1318 L1708.3 1325" fill="none" stroke="#B98F7E" stroke-width="1.5"/>
<path d="M1827.7 1149.2 C1828.6 1200 1829.2 1260 1828.6 1318 L1826.5 1325 M1828.6 1318 L1830.5 1325" fill="none" stroke="#B98F7E" stroke-width="1.5"/>
<path d="M1950 1149.2 C1950.9 1200 1951.5 1260 1950.9 1318 L1948.8 1325 M1950.9 1318 L1952.8 1325" fill="none" stroke="#B98F7E" stroke-width="1.5"/>
<path d="M2072.2 1149.2 C2073.1 1200 2073.7 1260 2073.1 1318 L2071 1325 M2073.1 1318 L2075 1325" fill="none" stroke="#B98F7E" stroke-width="1.5"/>
<ellipse cx="62.4" cy="1292.3" rx="26.3" ry="25.4" fill="#C2A59A"/>
<ellipse cx="184.6" cy="1292.3" rx="26.3" ry="25.4" fill="#C2A59A"/>
<ellipse cx="306.8" cy="1292.3" rx="26.3" ry="25.4" fill="#C2A59A"/>
<ellipse cx="429.1" cy="1292.3" rx="26.3" ry="25.4" fill="#C2A59A"/>
<ellipse cx="551.3" cy="1292.3" rx="26.3" ry="25.4" fill="#C2A59A"/>
<ellipse cx="673.5" cy="1292.3" rx="26.3" ry="25.4" fill="#C2A59A"/>
<ellipse cx="795.8" cy="1292.3" rx="26.3" ry="25.4" fill="#C2A59A"/>
<ellipse cx="918" cy="1292.3" rx="26.3" ry="25.4" fill="#C2A59A"/>
<ellipse cx="1040.2" cy="1292.3" rx="26.3" ry="25.4" fill="#C2A59A"/>
<ellipse cx="1162.4" cy="1292.3" rx="26.3" ry="25.4" fill="#C2A59A"/>
<ellipse cx="1284.7" cy="1292.3" rx="26.3" ry="25.4" fill="#C2A59A"/>
<ellipse cx="1406.9" cy="1292.3" rx="26.3" ry="25.4" fill="#C2A59A"/>
<ellipse cx="1529.1" cy="1292.3" rx="26.3" ry="25.4" fill="#C2A59A"/>
<ellipse cx="1651.4" cy="1292.3" rx="26.3" ry="25.4" fill="#C2A59A"/>
<ellipse cx="1773.6" cy="1292.3" rx="26.3" ry="25.4" fill="#C2A59A"/>
<ellipse cx="1895.8" cy="1292.3" rx="26.3" ry="25.4" fill="#C2A59A"/>
<ellipse cx="2018" cy="1292.3" rx="26.3" ry="25.4" fill="#C2A59A"/>
<ellipse cx="2140.3" cy="1292.3" rx="26.3" ry="25.4" fill="#C2A59A"/>
</g>
<rect x="321.3" y="56.4" width="415.3" height="421" fill="#FDEEE9" stroke="#9E2327" stroke-width="2.6"/>
<rect x="1355.4" y="56.4" width="415.8" height="421" fill="#FDEEE9" stroke="#9E2327" stroke-width="2.6"/>
<g transform="translate(0 0)">
<path d="M131.3 143.6 L111.7 143.6 L111.7 113 Q111.7 109.8 108.7 109.8 L89.8 109.8 Q86.6 109.8 86.6 113 L86.6 136.5 Q86.6 139.5 82.5 140 Q78.5 141 78 146 C77 153 70 156 64 161 C59 165 58 170 58 178 L58.6 300 L58 338 C58 350 60 355 70 359.5 C90 366 105 372 118 375 Q131.3 377.5 144.6 375 C157.6 372 172.6 366 192.6 359.5 C202.6 355 204.6 350 204.6 338 L204 300 L204.6 178 C204.6 170 203.6 165 198.6 161 C192.6 156 185.6 153 184.6 146 Q184.1 141 180.1 140 Q176 139.5 176 136.5 L176 113 Q176 109.8 172.8 109.8 L153.9 109.8 Q150.9 109.8 150.9 113 L150.9 143.6 Z" fill="#D8E5E9" stroke="#9DBAC6" stroke-width="1.2"/>
<path d="M89 140 C83 143 84 150 76 156 C66 162 63.5 166 63.5 176 L64 338 C64 348 66 352 74 355.5 C92 361.5 108 367.5 120 370 Q131.3 372.3 142.6 370 C154.6 367.5 170.6 361.5 188.6 355.5 C196.6 352 198.6 348 198.6 338 L199.1 176 C199.1 166 196.6 162 186.6 156 C178.6 150 179.6 143 173.6 140" fill="none" stroke="#A9C3CD" stroke-width="1"/>
<path d="M120.2 145 L120.2 122.5 Q120.2 120.4 122.2 120.4 L125.1 120.4 Q127.1 120.4 127.1 122.5 L127.1 145Z" fill="#D9E6EA" stroke="#9DBAC6" stroke-width="1.1"/>
<path d="M135.6 145 L135.6 122.5 Q135.6 120.4 137.6 120.4 L140.6 120.4 Q142.6 120.4 142.6 122.5 L142.6 145Z" fill="#D9E6EA" stroke="#9DBAC6" stroke-width="1.1"/>
<rect x="89.7" y="113.3" width="18.8" height="26" rx="2.5" fill="#E3EDF0" stroke="#A9C3CD" stroke-width="0.8"/>
<line x1="91.3" y1="118.7" x2="106.9" y2="118.7" stroke="#B3C9D1" stroke-width="1"/>
<line x1="91.3" y1="123.1" x2="106.9" y2="123.1" stroke="#B3C9D1" stroke-width="1"/>
<line x1="91.3" y1="127.6" x2="106.9" y2="127.6" stroke="#B3C9D1" stroke-width="1"/>
<line x1="91.3" y1="132" x2="106.9" y2="132" stroke="#B3C9D1" stroke-width="1"/>
<line x1="91.3" y1="136.4" x2="106.9" y2="136.4" stroke="#B3C9D1" stroke-width="1"/>
<rect x="154" y="113.3" width="18.8" height="26" rx="2.5" fill="#E3EDF0" stroke="#A9C3CD" stroke-width="0.8"/>
<line x1="155.6" y1="118.7" x2="171.2" y2="118.7" stroke="#B3C9D1" stroke-width="1"/>
<line x1="155.6" y1="123.1" x2="171.2" y2="123.1" stroke="#B3C9D1" stroke-width="1"/>
<line x1="155.6" y1="127.6" x2="171.2" y2="127.6" stroke="#B3C9D1" stroke-width="1"/>
<line x1="155.6" y1="132" x2="171.2" y2="132" stroke="#B3C9D1" stroke-width="1"/>
<line x1="155.6" y1="136.4" x2="171.2" y2="136.4" stroke="#B3C9D1" stroke-width="1"/>
<path d="M94.2 141 C94.2 138.5 95 138 95.8 137.8 C97 137.3 100 137.2 103.3 137.9 C104.6 138.2 104.9 139 104.9 139.8 L105.3 144.6 C105.8 146.5 106.8 147.8 108.1 148.5 C109.5 149.3 111 149.6 112.8 149.5 C114.5 149.4 116.3 149.2 117.6 148.5 C119.3 147.5 120.3 145 122 144.7 C123.5 144.4 125 145 126.4 145.7 C128 146.7 128.8 148.8 130.4 149.5 C131.6 150 133 150 134.3 149.7 C135.8 149.2 137 148.3 137.1 146.9 L137.5 124 C137.6 122.2 138.3 121.3 139.1 121.3 C139.9 121.3 140.6 122.2 140.7 124 L141.1 146.9 C141.3 148.3 143 148.9 144.7 149.2 C147.5 149.6 150.5 149.6 153.4 149.3 C155.2 149 156.8 147.8 157.4 146.1 L158.2 139.8 C158.2 139 158.6 138.3 159.8 138 C162.5 137.2 165.5 137.3 167.7 138.2 C168.5 138.5 168.8 139.5 168.9 141.4 C169.5 149 170 151.5 176 157 C188 163 196 166 197 176 L197.5 338 C197.5 346 195 350 187 352.5 C170 358 150 360.5 131.3 360.5 C112 360.5 92 358 75 352.5 C67 350 65.3 346 65.3 338 L65.8 176 C66.5 166 74 163 86 157 C92 152 94.2 148 94.2 141Z" fill="#8B1A1A"/>
<path d="M109.5 300 L109.5 215 C108 190 118 170 136 165.5 C152 163 166 170 169 190 L169.5 300 C166 322 150 334 138 331 C122 330 110.5 318 109.5 300Z" fill="#9B1F23"/>
<path d="M101.7 146.9 L169.3 147.7 C170.5 151 172 152.5 176 157 C188 163 196 166 197 176 L197.5 338 C197.5 346 195 350 187 352.5 C178 355.5 170 357.5 162 358.5 C168 340 168.5 320 168.5 300 L168.5 186 C168.5 183 168.2 181 167.7 179.6 C166.8 175 166 172 164.6 170 C163 167.8 161 167.2 159 167.6 C156.5 168 154.6 168.6 153.4 170 C152.3 172 151.8 174.5 151 175.6 C150.3 177 149.2 177.2 148.6 176.8 C147.6 175.6 147.2 173.5 146.7 171.6 C146 169.8 145 168.5 143.9 167.6 C142 165.5 140 164 137.5 162.8 C135 161.7 132.5 161.2 129.6 161.3 C126.5 161.5 124 162 121.6 162.8 C119 163.8 117.3 165.8 115.2 166 C113 166.2 111 164 108.9 162.8 C106.5 161.5 104 161.2 101.7 160.9 C100 160.6 98.5 160.3 96.9 159.7 C95.5 159 95.6 158 96.1 157.3 C97 155.5 98.2 154 99.3 152.5 C100.3 150.8 101.2 148.8 101.7 146.9Z" fill="#B66C6E"/>
<path d="M169.3 147.7 C170.5 151 172 152.5 176 157 C188 163 196 166 197 176 L197.2 215 L168.5 215 L168.5 186 C168.5 178 166.5 172 163.5 168 C166 166 168.5 160 169.3 147.7Z" fill="url(#shg)"/>
<path d="M94.2 141 C94.2 138.5 95 138 95.8 137.8 C97 137.3 100 137.2 103.3 137.9 C104.6 138.2 104.9 139 104.9 139.8 L105.3 144.6 C105.8 146.5 106.8 147.8 108.1 148.5 C109.5 149.3 111 149.6 112.8 149.5 C114.5 149.4 116.3 149.2 117.6 148.5 C119.3 147.5 120.3 145 122 144.7 C123.5 144.4 125 145 126.4 145.7 C128 146.7 128.8 148.8 130.4 149.5 C131.6 150 133 150 134.3 149.7 C135.8 149.2 137 148.3 137.1 146.9 L137.5 124 C137.6 122.2 138.3 121.3 139.1 121.3 C139.9 121.3 140.6 122.2 140.7 124 L141.1 146.9 C141.3 148.3 143 148.9 144.7 149.2 C147.5 149.6 150.5 149.6 153.4 149.3 C155.2 149 156.8 147.8 157.4 146.1 L158.2 139.8 C158.2 139 158.6 138.3 159.8 138 C162.5 137.2 165.5 137.3 167.7 138.2 C168.5 138.5 168.8 139.5 168.9 141.4 L169.3 147.7 C169.2 150.5 168.5 152.8 166.9 154.1 C165.3 155.5 163.5 156 161.4 156.1 C159.5 156.2 157.5 156.2 155.8 155.7 C153.5 155 151.5 154 149.4 153.3 C147.5 152.6 145.8 151.8 143.9 151.3 C142.3 150.9 140.7 150.8 139.1 150.9 C137.4 151 135.9 152 134.3 152.5 C132.2 153 130 153 128 152.9 C125.8 152.8 123.7 152.2 121.6 152.5 C119.6 152.8 118 154.6 116 154.9 C114.3 155 112.7 154.3 111.3 153.3 C109.7 152.2 108.4 150.8 107.3 149.3 C105 150 103 149 101.7 146.9 C101.2 148.8 100.3 150.8 99.3 152.5 C97.5 155.5 95 158 92 158 C95 152 94.2 146 94.2 141Z" fill="#AE3034"/>
<path d="M92 158 C86 162 72 168 69 180 L68.5 338 C68.5 346 72 350 80 354 C70 351 65.3 346 65.3 338 L65.8 176 C66.5 166 74 163 86 157 C90 154 92.5 152 94.2 146 C95 152 94 155 92 158Z" fill="#A3282B"/>
<path d="M176 157 C188 163 196 166 197 176 L197.5 338 C197.5 346 195 350 187 352.5 C193 349.5 195.3 346 195.3 338 L194.8 178 C194 168 188 165 176 157Z" fill="#A82B2E"/>
<rect x="74.3" y="204.3" width="113.8" height="110.1" rx="3" fill="#F1F2F1"/>
<path d="M168.5 204.3 L185.1 204.3 Q188.1 204.3 188.1 207.3 L188.1 311.4 Q188.1 314.4 185.1 314.4 L168.5 314.4Z" fill="#FFFFFF"/>
<text x="130.4" y="275.3" font-size="59" text-anchor="middle" fill="#000">A</text>
</g>
<g transform="translate(1837.3 0)">
<path d="M131.3 143.6 L111.7 143.6 L111.7 113 Q111.7 109.8 108.7 109.8 L89.8 109.8 Q86.6 109.8 86.6 113 L86.6 136.5 Q86.6 139.5 82.5 140 Q78.5 141 78 146 C77 153 70 156 64 161 C59 165 58 170 58 178 L58.6 300 L58 338 C58 350 60 355 70 359.5 C90 366 105 372 118 375 Q131.3 377.5 144.6 375 C157.6 372 172.6 366 192.6 359.5 C202.6 355 204.6 350 204.6 338 L204 300 L204.6 178 C204.6 170 203.6 165 198.6 161 C192.6 156 185.6 153 184.6 146 Q184.1 141 180.1 140 Q176 139.5 176 136.5 L176 113 Q176 109.8 172.8 109.8 L153.9 109.8 Q150.9 109.8 150.9 113 L150.9 143.6 Z" fill="#D8E5E9" stroke="#9DBAC6" stroke-width="1.2"/>
<path d="M89 140 C83 143 84 150 76 156 C66 162 63.5 166 63.5 176 L64 338 C64 348 66 352 74 355.5 C92 361.5 108 367.5 120 370 Q131.3 372.3 142.6 370 C154.6 367.5 170.6 361.5 188.6 355.5 C196.6 352 198.6 348 198.6 338 L199.1 176 C199.1 166 196.6 162 186.6 156 C178.6 150 179.6 143 173.6 140" fill="none" stroke="#A9C3CD" stroke-width="1"/>
<path d="M120.2 145 L120.2 122.5 Q120.2 120.4 122.2 120.4 L125.1 120.4 Q127.1 120.4 127.1 122.5 L127.1 145Z" fill="#D9E6EA" stroke="#9DBAC6" stroke-width="1.1"/>
<path d="M135.6 145 L135.6 122.5 Q135.6 120.4 137.6 120.4 L140.6 120.4 Q142.6 120.4 142.6 122.5 L142.6 145Z" fill="#D9E6EA" stroke="#9DBAC6" stroke-width="1.1"/>
<rect x="89.7" y="113.3" width="18.8" height="26" rx="2.5" fill="#E3EDF0" stroke="#A9C3CD" stroke-width="0.8"/>
<line x1="91.3" y1="118.7" x2="106.9" y2="118.7" stroke="#B3C9D1" stroke-width="1"/>
<line x1="91.3" y1="123.1" x2="106.9" y2="123.1" stroke="#B3C9D1" stroke-width="1"/>
<line x1="91.3" y1="127.6" x2="106.9" y2="127.6" stroke="#B3C9D1" stroke-width="1"/>
<line x1="91.3" y1="132" x2="106.9" y2="132" stroke="#B3C9D1" stroke-width="1"/>
<line x1="91.3" y1="136.4" x2="106.9" y2="136.4" stroke="#B3C9D1" stroke-width="1"/>
<rect x="154" y="113.3" width="18.8" height="26" rx="2.5" fill="#E3EDF0" stroke="#A9C3CD" stroke-width="0.8"/>
<line x1="155.6" y1="118.7" x2="171.2" y2="118.7" stroke="#B3C9D1" stroke-width="1"/>
<line x1="155.6" y1="123.1" x2="171.2" y2="123.1" stroke="#B3C9D1" stroke-width="1"/>
<line x1="155.6" y1="127.6" x2="171.2" y2="127.6" stroke="#B3C9D1" stroke-width="1"/>
<line x1="155.6" y1="132" x2="171.2" y2="132" stroke="#B3C9D1" stroke-width="1"/>
<line x1="155.6" y1="136.4" x2="171.2" y2="136.4" stroke="#B3C9D1" stroke-width="1"/>
<path d="M94.2 141 C94.2 138.5 95 138 95.8 137.8 C97 137.3 100 137.2 103.3 137.9 C104.6 138.2 104.9 139 104.9 139.8 L105.3 144.6 C105.8 146.5 106.8 147.8 108.1 148.5 C109.5 149.3 111 149.6 112.8 149.5 C114.5 149.4 116.3 149.2 117.6 148.5 C119.3 147.5 120.3 145 122 144.7 C123.5 144.4 125 145 126.4 145.7 C128 146.7 128.8 148.8 130.4 149.5 C131.6 150 133 150 134.3 149.7 C135.8 149.2 137 148.3 137.1 146.9 L137.5 124 C137.6 122.2 138.3 121.3 139.1 121.3 C139.9 121.3 140.6 122.2 140.7 124 L141.1 146.9 C141.3 148.3 143 148.9 144.7 149.2 C147.5 149.6 150.5 149.6 153.4 149.3 C155.2 149 156.8 147.8 157.4 146.1 L158.2 139.8 C158.2 139 158.6 138.3 159.8 138 C162.5 137.2 165.5 137.3 167.7 138.2 C168.5 138.5 168.8 139.5 168.9 141.4 C169.5 149 170 151.5 176 157 C188 163 196 166 197 176 L197.5 338 C197.5 346 195 350 187 352.5 C170 358 150 360.5 131.3 360.5 C112 360.5 92 358 75 352.5 C67 350 65.3 346 65.3 338 L65.8 176 C66.5 166 74 163 86 157 C92 152 94.2 148 94.2 141Z" fill="#8B1A1A"/>
<path d="M109.5 300 L109.5 215 C108 190 118 170 136 165.5 C152 163 166 170 169 190 L169.5 300 C166 322 150 334 138 331 C122 330 110.5 318 109.5 300Z" fill="#9B1F23"/>
<path d="M101.7 146.9 L169.3 147.7 C170.5 151 172 152.5 176 157 C188 163 196 166 197 176 L197.5 338 C197.5 346 195 350 187 352.5 C178 355.5 170 357.5 162 358.5 C168 340 168.5 320 168.5 300 L168.5 186 C168.5 183 168.2 181 167.7 179.6 C166.8 175 166 172 164.6 170 C163 167.8 161 167.2 159 167.6 C156.5 168 154.6 168.6 153.4 170 C152.3 172 151.8 174.5 151 175.6 C150.3 177 149.2 177.2 148.6 176.8 C147.6 175.6 147.2 173.5 146.7 171.6 C146 169.8 145 168.5 143.9 167.6 C142 165.5 140 164 137.5 162.8 C135 161.7 132.5 161.2 129.6 161.3 C126.5 161.5 124 162 121.6 162.8 C119 163.8 117.3 165.8 115.2 166 C113 166.2 111 164 108.9 162.8 C106.5 161.5 104 161.2 101.7 160.9 C100 160.6 98.5 160.3 96.9 159.7 C95.5 159 95.6 158 96.1 157.3 C97 155.5 98.2 154 99.3 152.5 C100.3 150.8 101.2 148.8 101.7 146.9Z" fill="#B66C6E"/>
<path d="M169.3 147.7 C170.5 151 172 152.5 176 157 C188 163 196 166 197 176 L197.2 215 L168.5 215 L168.5 186 C168.5 178 166.5 172 163.5 168 C166 166 168.5 160 169.3 147.7Z" fill="url(#shg)"/>
<path d="M94.2 141 C94.2 138.5 95 138 95.8 137.8 C97 137.3 100 137.2 103.3 137.9 C104.6 138.2 104.9 139 104.9 139.8 L105.3 144.6 C105.8 146.5 106.8 147.8 108.1 148.5 C109.5 149.3 111 149.6 112.8 149.5 C114.5 149.4 116.3 149.2 117.6 148.5 C119.3 147.5 120.3 145 122 144.7 C123.5 144.4 125 145 126.4 145.7 C128 146.7 128.8 148.8 130.4 149.5 C131.6 150 133 150 134.3 149.7 C135.8 149.2 137 148.3 137.1 146.9 L137.5 124 C137.6 122.2 138.3 121.3 139.1 121.3 C139.9 121.3 140.6 122.2 140.7 124 L141.1 146.9 C141.3 148.3 143 148.9 144.7 149.2 C147.5 149.6 150.5 149.6 153.4 149.3 C155.2 149 156.8 147.8 157.4 146.1 L158.2 139.8 C158.2 139 158.6 138.3 159.8 138 C162.5 137.2 165.5 137.3 167.7 138.2 C168.5 138.5 168.8 139.5 168.9 141.4 L169.3 147.7 C169.2 150.5 168.5 152.8 166.9 154.1 C165.3 155.5 163.5 156 161.4 156.1 C159.5 156.2 157.5 156.2 155.8 155.7 C153.5 155 151.5 154 149.4 153.3 C147.5 152.6 145.8 151.8 143.9 151.3 C142.3 150.9 140.7 150.8 139.1 150.9 C137.4 151 135.9 152 134.3 152.5 C132.2 153 130 153 128 152.9 C125.8 152.8 123.7 152.2 121.6 152.5 C119.6 152.8 118 154.6 116 154.9 C114.3 155 112.7 154.3 111.3 153.3 C109.7 152.2 108.4 150.8 107.3 149.3 C105 150 103 149 101.7 146.9 C101.2 148.8 100.3 150.8 99.3 152.5 C97.5 155.5 95 158 92 158 C95 152 94.2 146 94.2 141Z" fill="#AE3034"/>
<path d="M92 158 C86 162 72 168 69 180 L68.5 338 C68.5 346 72 350 80 354 C70 351 65.3 346 65.3 338 L65.8 176 C66.5 166 74 163 86 157 C90 154 92.5 152 94.2 146 C95 152 94 155 92 158Z" fill="#A3282B"/>
<path d="M176 157 C188 163 196 166 197 176 L197.5 338 C197.5 346 195 350 187 352.5 C193 349.5 195.3 346 195.3 338 L194.8 178 C194 168 188 165 176 157Z" fill="#A82B2E"/>
<rect x="74.3" y="204.3" width="113.8" height="110.1" rx="3" fill="#F1F2F1"/>
<path d="M168.5 204.3 L185.1 204.3 Q188.1 204.3 188.1 207.3 L188.1 311.4 Q188.1 314.4 185.1 314.4 L168.5 314.4Z" fill="#FFFFFF"/>
<text x="130.4" y="279.8" font-size="59" text-anchor="middle" fill="#000">B</text>
</g>
<path d="M322.3 52.8 L195.7 241" stroke="#932126" stroke-width="3.1" stroke-dasharray="5.9 4.5" fill="none"/>
<path d="M322.3 481 L195.7 249" stroke="#932126" stroke-width="3.1" stroke-dasharray="5.9 4.5" fill="none"/>
<path d="M1770.8 53.5 L1899.6 246.8" stroke="#932126" stroke-width="3.1" stroke-dasharray="5.9 4.5" fill="none"/>
<path d="M1770.8 480.6 L1899.6 252.4" stroke="#932126" stroke-width="3.1" stroke-dasharray="5.9 4.5" fill="none"/>
<g stroke="#1d1d1d" stroke-width="1.6" stroke-linecap="butt">
<polyline points="436,111.3 461.1,95.8 494.2,79.7 531.7,91.6 568.4,104.3 605.3,117.9" fill="none"/>
<polyline points="494.2,79.7 512.2,114.4" fill="none"/>
<polyline points="568.4,104.3 585.6,138" fill="none"/>
</g>
<g stroke="#111" stroke-width="1.0" stroke-linejoin="miter">
<rect x="-10.7" y="-10.7" width="21.3" height="21.3" fill="#0072BC" transform="translate(461.1 95.8) rotate(-26.6)"/>
<polygon points="507.2,103.6 524.3,114.7 505.2,124.9" fill="#ED1C24"/>
<polygon points="579.4,127 598.1,138.7 579.4,148.2" fill="#ED1C24"/>
<rect x="-10.8" y="-10.8" width="21.6" height="21.6" fill="#FFD400" transform="translate(531.7 91.6) rotate(-23)"/>
<rect x="-10.7" y="-10.7" width="21.4" height="21.4" fill="#FFD400" transform="translate(605.3 117.9) rotate(-25.8)"/>
<circle cx="494.2" cy="79.7" r="10.7" fill="#FFD400"/>
<circle cx="568.4" cy="104.3" r="10.7" fill="#FFD400"/>
</g>
<g stroke="#1d1d1d" stroke-width="1.6" stroke-linecap="butt">
<polyline points="486,198 516.2,186.4 553.3,176.8 589,196.4 622.9,216.5 634,253.6" fill="none"/>
<polyline points="553.3,176.8 564.5,215.8" fill="none"/>
</g>
<g stroke="#111" stroke-width="1.0" stroke-linejoin="miter">
<rect x="-11.3" y="-11.3" width="22.6" height="22.6" fill="#0072BC" transform="translate(516.2 186.4) rotate(-19)"/>
<polygon points="561.4,203.4 576.3,219.3 555.7,224.6" fill="#ED1C24"/>
<polygon points="630.3,241.1 646.3,256.8 625.5,262.8" fill="#ED1C24"/>
<rect x="-11.2" y="-11.2" width="22.3" height="22.3" fill="#FFD400" transform="translate(589 196.4) rotate(-15.6)"/>
<circle cx="553.3" cy="176.8" r="11.1" fill="#FFD400"/>
<circle cx="622.9" cy="216.5" r="11.1" fill="#FFD400"/>
</g>
<g stroke="#1d1d1d" stroke-width="1.6" stroke-linecap="butt">
<polyline points="519,298.4 552.8,292.3 594.3,289.6 628.9,317.2 661.7,346" fill="none"/>
<polyline points="594.3,289.6 598.6,333.2" fill="none"/>
</g>
<g stroke="#111" stroke-width="1.0" stroke-linejoin="miter">
<rect x="-12.1" y="-12.1" width="24.1" height="24.1" fill="#0072BC" transform="translate(552.8 292.3) rotate(-6.4)"/>
<polygon points="597.4,319 610.9,339.2 587.5,341.3" fill="#ED1C24"/>
<rect x="-11.8" y="-11.8" width="23.6" height="23.6" fill="#FFD400" transform="translate(628.9 317.2) rotate(-6)"/>
<circle cx="594.3" cy="289.6" r="12" fill="#FFD400"/>
<circle cx="661.7" cy="346" r="11.8" fill="#FFD400"/>
</g>
<g stroke="#1d1d1d" stroke-width="1.6" stroke-linecap="butt">
<polyline points="526,393 560.9,391.1 602.4,391.5 634.5,423" fill="none"/>
<polyline points="602.4,391.5 602.6,436.2" fill="none"/>
</g>
<g stroke="#111" stroke-width="1.0" stroke-linejoin="miter">
<rect x="-12.6" y="-12.6" width="25.2" height="25.2" fill="#0072BC" transform="translate(560.9 391.1) rotate(0)"/>
<polygon points="602.4,421.8 615,443.4 590.5,443.4" fill="#ED1C24"/>
<rect x="-12.6" y="-12.6" width="25.2" height="25.2" fill="#FFD400" transform="translate(634.5 423.3) rotate(0)"/>
<circle cx="602.4" cy="391.5" r="12.3" fill="#FFD400"/>
</g>
<g stroke="#1d1d1d" stroke-width="1.6" stroke-linecap="butt">
<polyline points="1618,181.8 1583.7,173 1539.8,166.4 1503.5,190.3 1465.3,220.3" fill="none"/>
<polyline points="1539.8,166.4 1531.8,212.1" fill="none"/>
</g>
<g stroke="#111" stroke-width="1.0" stroke-linejoin="miter">
<rect x="-13.2" y="-13.2" width="26.4" height="26.4" fill="#0072BC" transform="translate(1583.7 173) rotate(10)"/>
<polygon points="1535.1,197.3 1542.7,221.9 1517.7,217.2" fill="#ED1C24"/>
<rect x="-13.2" y="-13.2" width="26.4" height="26.4" fill="#FFD400" transform="translate(1465.3 220.3) rotate(9)"/>
<circle cx="1539.8" cy="166.4" r="13.2" fill="#FFD400"/>
<circle cx="1503.5" cy="190.3" r="13" fill="#FFD400"/>
</g>
<g stroke="#1d1d1d" stroke-width="1.6" stroke-linecap="butt">
<polyline points="1583,325.3 1545.8,322 1500.4,320.4 1467.9,350.4" fill="none"/>
<polyline points="1500.4,320.4 1498.6,368.6" fill="none"/>
</g>
<g stroke="#111" stroke-width="1.0" stroke-linejoin="miter">
<rect x="-13.5" y="-13.5" width="27" height="27" fill="#0072BC" transform="translate(1545.8 322) rotate(2)"/>
<polygon points="1499.4,353.5 1511.1,376.6 1485.2,375.6" fill="#ED1C24"/>
<circle cx="1500.4" cy="320.4" r="13.2" fill="#FFD400"/>
<circle cx="1467.9" cy="350.4" r="13.2" fill="#FFD400"/>
</g>
<g stroke="#1d1d1d" stroke-width="2.2" stroke-linecap="butt">
<polyline points="998.9,324 996.2,286.3 992.4,236.7 940.3,239.5" fill="none"/>
</g>
<g stroke="#111" stroke-width="1.3" stroke-linejoin="miter">
<rect x="-15.1" y="-15.1" width="30.2" height="30.2" fill="#0072BC" transform="translate(996.2 286.3) rotate(-2.5)"/>
<polygon points="930.8,225.4 957.9,238.5 932.3,254.7" fill="#ED1C24"/>
<circle cx="992.4" cy="236.7" r="15.1" fill="#FFD400"/>
</g>
<g stroke="#1d1d1d" stroke-width="2.2" stroke-linecap="butt">
<polyline points="1133.8,327 1138.2,287.4 1143.1,238.5 1091.6,231.8" fill="none"/>
</g>
<g stroke="#111" stroke-width="1.3" stroke-linejoin="miter">
<rect x="-15.1" y="-15.1" width="30.2" height="30.2" fill="#0072BC" transform="translate(1138.2 287.4) rotate(8)"/>
<polygon points="1084.9,216.8 1108.9,233.7 1081.1,244.9" fill="#ED1C24"/>
<circle cx="1143.1" cy="238.5" r="15.1" fill="#FFD400"/>
</g>
<path d="M489.2 451.5C484.8 453.2 480.1 454.4 475.3 454.6C470.5 454.8 465.4 454.5 460.1 452.9C454.8 451.3 449.1 448.7 443.5 444.9C437.9 441.1 432 436.1 426.4 430C420.8 423.9 415 416.4 409.7 408.5C404.4 400.6 399.2 391.5 394.5 382.4C389.8 373.3 385.4 363.4 381.3 353.7C377.2 344 373.5 334 369.9 324.2C366.3 314.4 363 304.6 359.8 294.6C356.6 284.6 353.5 274.6 350.6 264.4C347.8 254.2 344.9 243.7 342.7 233.3C340.5 222.9 338.5 212.1 337.3 201.9C336.1 191.7 335.3 181.3 335.4 171.9C335.4 162.5 336.2 153.4 337.6 145.4C339 137.4 341.1 130.3 343.6 124.1C346.1 117.9 349.3 112.7 352.7 108.3C356.1 103.9 359.9 100.4 363.9 97.5C367.9 94.6 372.2 92.4 376.6 90.9C381.1 89.4 385.7 88.3 390.6 88.3C395.5 88.2 400.7 88.9 406 90.6C411.3 92.3 417 94.9 422.6 98.7C428.2 102.5 434.1 107.5 439.7 113.5C445.3 119.5 451.1 126.7 456.5 134.4C461.9 142.2 467.1 151 472 160C476.9 169 481.4 178.7 485.7 188.4C490 198.1 493.9 208 497.7 218C501.4 228 504.9 238.1 508.2 248.3C511.5 258.5 514.9 268.9 517.7 279.3C520.6 289.8 523.2 300.4 525.3 311C527.4 321.6 529.2 332.5 530.2 342.7C531.2 352.9 531.7 363.1 531.4 372.3C531.1 381.5 530.1 390.3 528.5 398C526.9 405.7 524.6 412.6 522 418.6C519.4 424.6 516.1 429.5 512.7 433.8C509.3 438.1 505.5 441.7 501.6 444.6C497.7 447.6 493.6 449.8 489.2 451.5Z" fill="#C43848" stroke="#8C0C1B" stroke-width="5"/>
<path d="M431.5 156.2C427.6 157.1 424.4 163 422 168C419.6 173 417.8 177.9 417.3 186.2C416.8 194.5 417.8 209 418.9 217.8C420 226.6 422.5 235.8 424.2 239.2C425.9 242.6 427.6 240.6 429.3 238.3C431 236.1 432.4 228.3 434.6 225.7C436.8 223.1 438.6 220.7 442.5 222.5C446.4 224.3 452.5 229.6 458.3 236.7C464.1 243.8 472.1 257.1 477.2 265.1C482.3 273.1 486.4 282.1 489.2 284.7C491.9 287.3 494.1 286.8 493.7 280.9C493.3 275 490 260.9 486.7 249.3C483.4 237.7 478.8 223.1 474.1 211.5C469.4 199.9 463 188.1 458.3 179.9C453.6 171.8 450.2 166.6 445.7 162.6C441.2 158.6 435.4 155.3 431.5 156.2Z" fill="#971527"/>
<path d="M443.6 311.2C442.6 311.6 440.9 310 441.6 315.5C442.3 321 444 334.5 447.8 344C451.6 353.5 459.2 364.8 464.6 372.4C470 380 475.9 386.1 480.4 389.8C484.9 393.5 488.2 394.8 491.4 394.5C494.5 394.2 497.4 391.6 499.3 388.2C501.2 384.8 503 377 503.1 374C503.2 371 501.1 369.5 500 370.2C498.9 370.9 498.4 376.3 496.8 378.1C495.2 379.9 494.1 383.4 490.5 381.2C486.9 378.9 480.2 371.5 475.1 364.6C470 357.7 464.4 348.4 459.8 339.8C455.2 331.2 450.3 318 447.6 313.2C444.9 308.4 444.6 310.8 443.6 311.2Z" fill="#EA5F70"/>
<path d="M1623.9 443.5C1619.6 442.9 1615.4 441.9 1611.3 440C1607.2 438.1 1603.2 435.8 1599.5 432.3C1595.8 428.9 1592.2 424.6 1589.2 419.3C1586.2 414 1583.5 407.6 1581.5 400.3C1579.5 393 1578 384.4 1577.3 375.4C1576.6 366.4 1576.6 356.4 1577.1 346.5C1577.6 336.6 1578.8 326.1 1580.3 316C1581.8 305.9 1583.8 295.7 1585.9 285.9C1588 276.1 1590.3 266.6 1592.7 257.1C1595.1 247.6 1597.5 238.3 1600.1 228.9C1602.7 219.5 1605.4 210 1608.5 200.7C1611.6 191.4 1614.8 181.9 1618.5 173C1622.2 164.1 1626.3 155.2 1630.6 147.3C1634.9 139.5 1639.6 132 1644.4 125.9C1649.2 119.8 1654.3 114.6 1659.2 110.7C1664.1 106.8 1669.2 104.1 1674 102.3C1678.8 100.5 1683.5 99.8 1688 99.7C1692.5 99.6 1696.8 100.4 1701 101.5C1705.2 102.6 1709.2 104.3 1713.2 106.5C1717.2 108.7 1721.1 111.3 1724.7 114.8C1728.3 118.3 1731.9 122.4 1734.9 127.5C1738 132.6 1740.8 138.6 1743 145.6C1745.2 152.6 1746.9 160.8 1747.9 169.5C1748.9 178.2 1749.2 188 1749 197.8C1748.8 207.6 1747.8 218.3 1746.4 228.5C1745 238.7 1742.9 249.1 1740.8 259.2C1738.7 269.2 1736.1 279.1 1733.6 288.8C1731 298.5 1728.4 307.9 1725.5 317.2C1722.6 326.5 1719.6 335.8 1716.3 344.8C1713 353.8 1709.5 362.8 1705.7 371.2C1701.9 379.6 1697.8 387.9 1693.5 395.3C1689.2 402.7 1684.6 409.6 1679.9 415.4C1675.2 421.2 1670.3 426.2 1665.5 430.2C1660.7 434.2 1655.8 437.1 1651.1 439.3C1646.4 441.5 1641.7 442.8 1637.2 443.5C1632.7 444.2 1628.2 444.1 1623.9 443.5Z" fill="#C43848" stroke="#8C0C1B" stroke-width="5"/>
<path d="M1619.4 235.2C1617 239.8 1611.7 252.3 1608.3 265.2C1604.9 278.1 1600.5 299.4 1598.8 312.5C1597.1 325.6 1597.2 335.7 1598.2 344.1C1599.2 352.5 1601.8 359 1604.5 363C1607.2 367 1610.8 368.5 1614.6 368C1618.4 367.5 1622.5 365.4 1627.2 359.8C1631.9 354.2 1638.7 343 1643 334.6C1647.3 326.2 1651.7 314.8 1653.1 309.3C1654.5 303.8 1653.2 301.9 1651.5 301.5C1649.8 301.1 1645.7 305.5 1643 306.8C1640.3 308.1 1637.7 311.5 1635.1 309.3C1632.5 307.1 1629.2 301 1627.2 293.6C1625.2 286.2 1623.5 274.6 1622.8 265.2C1622.1 255.8 1623.4 242.4 1622.8 237.4C1622.2 232.4 1621.8 230.6 1619.4 235.2Z" fill="#971527"/>
<path d="M1653.4 158.5C1654.2 156.4 1658.3 151.1 1661.3 149C1664.3 146.9 1668.1 145.1 1671.4 145.8C1674.7 146.5 1678.4 147.4 1680.9 153.1C1683.4 158.8 1686.1 170.2 1686.6 179.9C1687.1 189.6 1685.6 202.2 1684 211.5C1682.4 220.8 1679 231.9 1677.1 235.5C1675.2 239.1 1673 238.6 1672.4 233C1671.8 227.4 1673.5 211.9 1673.3 202C1673.1 192.1 1672.5 180.5 1671.4 173.6C1670.3 166.7 1669.2 162.4 1666.7 160.4C1664.2 158.4 1658.5 161.9 1656.3 161.6C1654.1 161.3 1652.6 160.6 1653.4 158.5Z" fill="#EA5F70"/>
<path d="M1227.1 388.4C1227.1 392.7 1226.7 397.5 1225.9 401.4C1225.1 405.2 1223.8 408.2 1222.2 411.4C1220.6 414.5 1218.5 417.4 1216.1 420.2C1213.7 423 1210.8 425.6 1207.6 428.1C1204.4 430.6 1200.8 433 1196.8 435.2C1192.9 437.4 1188.5 439.5 1183.8 441.4C1179.1 443.4 1174.1 445.2 1168.7 446.8C1163.3 448.4 1157.5 449.9 1151.4 451.2C1145.3 452.5 1138.9 453.7 1132.1 454.7C1125.3 455.7 1118.2 456.5 1110.5 457.2C1102.9 457.9 1095.5 458.4 1086.2 458.7C1076.9 459 1065.1 459.2 1054.6 459.2C1044.1 459.2 1032.3 459 1023 458.7C1013.7 458.4 1006.3 457.9 998.7 457.2C991 456.5 983.9 455.7 977.1 454.7C970.3 453.7 963.9 452.5 957.8 451.2C951.7 449.9 945.9 448.4 940.5 446.8C935.1 445.2 930.1 443.4 925.4 441.4C920.7 439.5 916.3 437.4 912.4 435.2C908.4 433 904.8 430.6 901.6 428.1C898.4 425.6 895.5 423 893.1 420.2C890.7 417.4 888.6 414.5 887 411.4C885.4 408.2 884.1 405.2 883.3 401.4C882.5 397.5 882.1 392.7 882.1 388.4C882.1 384.1 882.5 379.3 883.3 375.4C884.1 371.6 885.4 368.6 887 365.4C888.6 362.3 890.7 359.4 893.1 356.6C895.5 353.8 898.4 351.2 901.6 348.7C904.8 346.2 908.4 343.8 912.4 341.6C916.3 339.4 920.7 337.3 925.4 335.4C930.1 333.4 935.1 331.6 940.5 330C945.9 328.4 951.7 326.9 957.8 325.6C963.9 324.3 970.3 323.1 977.1 322.1C983.9 321.1 991 320.3 998.7 319.6C1006.3 318.9 1013.7 318.4 1023 318.1C1032.3 317.8 1044.1 317.6 1054.6 317.6C1065.1 317.6 1076.9 317.8 1086.2 318.1C1095.5 318.4 1102.9 318.9 1110.5 319.6C1118.2 320.3 1125.3 321.1 1132.1 322.1C1138.9 323.1 1145.3 324.3 1151.4 325.6C1157.5 326.9 1163.3 328.4 1168.7 330C1174.1 331.6 1179.1 333.4 1183.8 335.4C1188.5 337.3 1192.9 339.4 1196.8 341.6C1200.8 343.8 1204.4 346.2 1207.6 348.7C1210.8 351.2 1213.7 353.8 1216.1 356.6C1218.5 359.4 1220.6 362.3 1222.2 365.4C1223.8 368.6 1225.1 371.6 1225.9 375.4C1226.7 379.3 1227.1 384.1 1227.1 388.4Z" fill="#C43848" stroke="#8C0C1B" stroke-width="5"/>
<path d="M952.2 360.6C951.3 357.1 956.5 353.8 960 351C963.5 348.2 962.6 346.2 972.9 343.7C983.2 341.2 1004.2 337.3 1021.7 336.2C1039.2 335.1 1068.2 336.4 1078.1 337.3C1088 338.2 1086.1 339.5 1081.1 341.8C1076.1 344.1 1058.5 347.4 1048 351.2C1037.5 355 1023.8 360.6 1018 364.4C1012.2 368.2 1012.2 370.7 1013.5 373.8C1014.8 376.9 1024 380.8 1025.5 383.2C1027 385.6 1027.5 388 1022.5 388C1017.5 388 1004.9 385.9 995.4 383.2C985.9 380.5 972.6 375.7 965.4 371.9C958.2 368.1 953.1 364.1 952.2 360.6Z" fill="#971527"/>
<path d="M1160 354.6C1162.1 354.9 1169.2 357.4 1172 360.2C1174.8 362.9 1178.5 366.5 1176.8 371.1C1175 375.7 1169.8 383.5 1161.5 387.6C1153.2 391.8 1138.2 395 1127 396C1115.8 397 1099.7 394.4 1094 393.6C1088.3 392.8 1086.5 392.9 1092.6 391.3C1098.7 389.7 1120.2 386.9 1130.7 384C1141.2 381.1 1149.8 377.3 1155.5 374.2C1161.2 371.1 1164 368.3 1164.6 365.6C1165.2 362.9 1160 360 1159.2 358.2C1158.4 356.4 1157.9 354.3 1160 354.6Z" fill="#EA5F70"/>
<line x1="443.7" y1="576.7" x2="443.7" y2="529.5" stroke="#222" stroke-width="2.9"/>
<polygon points="443.7,514.5 454.3,535.5 433.09999999999997,535.5" fill="#222"/>
<line x1="540.5" y1="549" x2="540.5" y2="502.1" stroke="#222" stroke-width="2.9"/>
<polygon points="540.5,487.1 551.1,508.1 529.9,508.1" fill="#222"/>
<line x1="609.9" y1="585.7" x2="609.9" y2="538.5" stroke="#222" stroke-width="2.9"/>
<polygon points="609.9,523.5 620.5,544.5 599.3,544.5" fill="#222"/>
<line x1="1515.6" y1="577.3" x2="1515.6" y2="528.9" stroke="#222" stroke-width="2.9"/>
<polygon points="1515.6,513.9 1526.1999999999998,534.9 1505.0,534.9" fill="#222"/>
<line x1="1621.2" y1="577.3" x2="1621.2" y2="528.9" stroke="#222" stroke-width="2.9"/>
<polygon points="1621.2,513.9 1631.8,534.9 1610.6000000000001,534.9" fill="#222"/>
<line x1="776.4" y1="380.3" x2="822" y2="380.3" stroke="#222" stroke-width="2.9"/>
<polygon points="818.1,369.8 839.5,380.3 818.1,390.8" fill="#222"/>
<line x1="1330.5" y1="383.3" x2="1286" y2="383.3" stroke="#222" stroke-width="2.9"/>
<polygon points="1289.2,372.8 1267.8,383.3 1289.2,393.8" fill="#222"/>
<polygon points="632.4,142.1 634.6,142.7 636.6,143.3 638.6,144.2 640.5,145.2 642.3,146.3 644,147.6 645.6,149 647.2,150.5 648.6,152.1 649.9,153.9 651,155.7 652.1,157.7 653,159.7 653.8,161.9 654.4,164.1 654.9,166.4 655.2,168.7 655.3,171.1 655.3,173.6 655.1,176.1 654.7,178.7 654.2,181.3 653.4,183.9 652.4,186.6 654.6,187.4 655.5,184.6 656.3,181.8 656.8,179 657.1,176.3 657.3,173.7 657.2,171.1 657,168.5 656.6,166.1 656,163.7 655.3,161.4 654.4,159.1 653.4,157 652.3,155 651,153.1 649.6,151.3 648.1,149.6 646.4,148.1 644.7,146.7 642.9,145.4 641,144.3 639,143.3 636.9,142.5 634.8,141.9 632.6,141.5" fill="#2F3B69"/>
<polygon points="645.2,182.6 660,187.9 647.3,199.5" fill="#2F3B69"/>
<polygon points="656.8,258.3 658.8,258.9 660.7,259.7 662.6,260.6 664.4,261.7 666.1,262.9 667.8,264.2 669.4,265.6 670.9,267.2 672.3,268.9 673.6,270.6 674.8,272.5 675.9,274.5 676.9,276.5 677.7,278.6 678.4,280.8 678.9,283.1 679.4,285.4 679.6,287.8 679.7,290.2 679.6,292.6 679.3,295.1 678.9,297.6 678.3,300.1 677.4,302.6 679.6,303.4 680.4,300.7 681,298 681.4,295.3 681.6,292.7 681.7,290.1 681.5,287.6 681.2,285.1 680.7,282.7 680,280.3 679.2,278.1 678.3,275.9 677.2,273.8 676,271.8 674.7,269.9 673.3,268 671.8,266.4 670.2,264.8 668.5,263.3 666.7,262 664.9,260.9 663,259.8 661,258.9 659,258.2 657,257.7" fill="#2F3B69"/>
<polygon points="670.9,299.5 685.7,306.4 672.7,317.2" fill="#2F3B69"/>
<polygon points="675.6,363.8 677.8,365.2 679.8,366.7 681.6,368.3 683.2,370 684.6,371.7 685.9,373.6 687,375.5 688,377.4 688.7,379.4 689.3,381.5 689.8,383.6 690,385.7 690.1,387.8 690,389.9 689.7,392.1 689.3,394.2 688.7,396.4 687.9,398.5 686.9,400.6 685.8,402.7 684.5,404.7 683,406.7 681.3,408.6 679.5,410.5 681.1,412.1 683,410.1 684.7,408 686.2,405.9 687.6,403.7 688.7,401.5 689.7,399.2 690.4,396.9 691,394.6 691.4,392.3 691.6,390.1 691.7,387.8 691.5,385.5 691.2,383.3 690.7,381.1 690,379 689.1,376.9 688.1,374.9 686.8,372.9 685.5,371.1 683.9,369.3 682.2,367.6 680.3,366 678.2,364.6 676,363.2" fill="#2F3B69"/>
<polygon points="674,406.8 685.7,416.3 669.1,423" fill="#2F3B69"/>
<polygon points="1447.2,258.5 1444.8,259.2 1442.6,260.1 1440.5,261.2 1438.5,262.5 1436.7,263.9 1435,265.5 1433.5,267.2 1432.2,269.1 1431,271.1 1430,273.2 1429.1,275.4 1428.4,277.7 1427.9,280.1 1427.6,282.5 1427.5,285 1427.5,287.6 1427.8,290.2 1428.2,292.8 1428.8,295.5 1429.7,298.1 1430.7,300.8 1432,303.4 1433.4,306.1 1435.1,308.7 1436.9,307.3 1435.3,304.9 1433.9,302.4 1432.6,299.9 1431.6,297.4 1430.7,294.9 1430.1,292.4 1429.6,289.9 1429.3,287.4 1429.2,285 1429.2,282.6 1429.5,280.3 1429.9,278 1430.5,275.8 1431.2,273.7 1432.1,271.7 1433.2,269.8 1434.4,267.9 1435.8,266.2 1437.4,264.7 1439.1,263.3 1440.9,262 1442.9,260.9 1445.1,259.9 1447.4,259.1" fill="#2F3B69"/>
<polygon points="1429,309.3 1442.6,302.4 1443.6,318.2" fill="#2F3B69"/>
<g fill="#6585C8" stroke="#6585C8" stroke-width="0.8" stroke-linejoin="round"><path d="M432.8 599.3C433.5 598.1 434.6 597.4 435.7 597.1C436.8 596.9 438.1 597.4 439.3 597.8C440.4 598.3 441.6 599.6 442.8 600C444 600.4 445.2 600.2 446.4 600.3C447.6 600.5 448.8 600.6 450 601.1C451.2 601.5 452.5 601.8 453.5 602.8C454.6 603.9 455.7 605.7 456.4 607.1C457.1 608.6 457.2 610.3 457.8 611.4C458.4 612.5 458.9 613.4 460 613.6C461 613.7 462.8 612.3 464.2 612.1C465.7 611.9 467.2 611.9 468.5 612.5C469.8 613.1 470.8 615.1 472.1 615.7C473.4 616.3 474.9 615.6 476.4 616C477.8 616.5 479.6 617.3 480.7 618.5C481.7 619.8 482.8 621.9 482.8 623.5C482.8 625.2 482 627.1 480.7 628.5C479.3 630 475.8 630.9 474.9 632.1C474.1 633.3 476 634.5 475.7 635.7C475.3 636.9 474 638.2 472.8 639.2C471.6 640.3 469.5 640.9 468.5 642.1C467.6 643.3 467.8 644.8 467.1 646.4C466.4 647.9 465.4 650 464.2 651.4C463.1 652.8 461.5 654.2 460 655C458.4 655.7 456.4 655.4 455 655.7C453.5 655.9 451.7 655.5 451.4 656.4C451 657.2 452.9 659.4 452.8 660.7C452.7 662 451.9 663.4 450.7 664.2C449.5 665.1 447.2 665.4 445.7 665.7C444.1 665.9 442.4 665.2 441.4 665.7C440.4 666.1 440.9 668 440 668.5C439 669 437.2 668.9 435.7 668.9C434.1 668.9 431.9 669.2 430.7 668.5C429.5 667.9 429.4 666 428.6 664.9C427.7 663.9 426.9 662.3 425.7 662.1C424.5 661.8 422.7 663.6 421.4 663.5C420.1 663.4 418.5 662.4 417.8 661.4C417.2 660.3 418 658.4 417.5 657.1C417 655.8 415.2 654.8 415 653.5C414.8 652.2 415.1 650.4 416.1 649.2C417 648.1 420 647.6 420.7 646.4C421.4 645.2 420.5 643.6 420 642.1C419.5 640.6 418.5 638.8 417.8 637.1C417.2 635.4 416.8 633.9 416.1 632.1C415.3 630.3 414 628.1 413.6 626.4C413.1 624.7 413.1 623.4 413.6 622.1C414 620.8 415.5 619.5 416.4 618.5C417.4 617.6 418.9 617.5 419.3 616.4C419.6 615.3 418.3 613.3 418.6 612.1C418.8 611 419.7 610.1 420.7 609.6C421.7 609.1 423.6 610 424.3 609.3C425 608.5 424.3 606 425 605C425.7 604 427.4 603.3 428.6 603.2C429.7 603.1 431 604.9 431.8 604.3C432.5 603.6 432.2 600.5 432.8 599.3Z"/><circle cx="433.7" cy="601.1" r="2.3"/><circle cx="436.5" cy="599.5" r="2.8"/><circle cx="439.8" cy="599.8" r="2.4"/><circle cx="443.1" cy="601.7" r="2"/><circle cx="446.5" cy="602.4" r="2.5"/><circle cx="449.9" cy="602.7" r="1.9"/><circle cx="453.3" cy="604.3" r="1.9"/><circle cx="455.6" cy="609.5" r="2.6"/><circle cx="456.8" cy="613.6" r="2.9"/><circle cx="458.8" cy="615.4" r="2.5"/><circle cx="463.1" cy="613.6" r="2"/><circle cx="466.9" cy="614.1" r="2.4"/><circle cx="470.6" cy="616.8" r="2"/><circle cx="475" cy="616.8" r="1.8"/><circle cx="479" cy="619.3" r="2.3"/><circle cx="480.9" cy="624.1" r="2.4"/><circle cx="478.7" cy="628.8" r="2.3"/><circle cx="475.7" cy="630.5" r="2.3"/><circle cx="472.5" cy="632.2" r="2.9"/><circle cx="473.3" cy="635.5" r="2.7"/><circle cx="470.9" cy="638.8" r="2.1"/><circle cx="466.7" cy="641.3" r="2.1"/><circle cx="465.1" cy="645" r="2.6"/><circle cx="462.6" cy="649.5" r="2.7"/><circle cx="458.8" cy="652.8" r="2.9"/><circle cx="454.5" cy="654.1" r="1.8"/><circle cx="451" cy="653.9" r="2.8"/><circle cx="452.4" cy="658.1" r="2.9"/><circle cx="450.6" cy="662.7" r="1.9"/><circle cx="445.9" cy="663.2" r="2.7"/><circle cx="441.7" cy="664" r="1.9"/><circle cx="440.5" cy="666.1" r="2.9"/><circle cx="436.3" cy="667.2" r="1.9"/><circle cx="431.5" cy="666.9" r="1.9"/><circle cx="429.9" cy="662.8" r="2.7"/><circle cx="427" cy="660.4" r="2.4"/><circle cx="422.5" cy="662.3" r="2"/><circle cx="419" cy="660.3" r="1.9"/><circle cx="418.8" cy="656.1" r="1.9"/><circle cx="416.5" cy="652.6" r="2"/><circle cx="418.2" cy="648.1" r="2.9"/><circle cx="422.2" cy="645.6" r="2.1"/><circle cx="421.7" cy="641.6" r="2"/><circle cx="420.2" cy="636.8" r="2.7"/><circle cx="417.5" cy="632.1" r="1.9"/><circle cx="416.6" cy="629.5" r="2"/><circle cx="415.9" cy="626.9" r="2.6"/><circle cx="415.5" cy="622.7" r="2.1"/><circle cx="417.8" cy="619.2" r="1.9"/><circle cx="420.8" cy="617.3" r="2.1"/><circle cx="420.1" cy="613.2" r="2.2"/><circle cx="422.7" cy="611.3" r="2.9"/><circle cx="425.7" cy="610.7" r="2.4"/><circle cx="426.2" cy="606.4" r="2"/><circle cx="429.9" cy="605.2" r="2.8"/><circle cx="432.7" cy="605.9" r="2.1"/></g>
<g fill="#6585C8"><path d="M432.8 599.3C433.5 598.1 434.6 597.4 435.7 597.1C436.8 596.9 438.1 597.4 439.3 597.8C440.4 598.3 441.6 599.6 442.8 600C444 600.4 445.2 600.2 446.4 600.3C447.6 600.5 448.8 600.6 450 601.1C451.2 601.5 452.5 601.8 453.5 602.8C454.6 603.9 455.7 605.7 456.4 607.1C457.1 608.6 457.2 610.3 457.8 611.4C458.4 612.5 458.9 613.4 460 613.6C461 613.7 462.8 612.3 464.2 612.1C465.7 611.9 467.2 611.9 468.5 612.5C469.8 613.1 470.8 615.1 472.1 615.7C473.4 616.3 474.9 615.6 476.4 616C477.8 616.5 479.6 617.3 480.7 618.5C481.7 619.8 482.8 621.9 482.8 623.5C482.8 625.2 482 627.1 480.7 628.5C479.3 630 475.8 630.9 474.9 632.1C474.1 633.3 476 634.5 475.7 635.7C475.3 636.9 474 638.2 472.8 639.2C471.6 640.3 469.5 640.9 468.5 642.1C467.6 643.3 467.8 644.8 467.1 646.4C466.4 647.9 465.4 650 464.2 651.4C463.1 652.8 461.5 654.2 460 655C458.4 655.7 456.4 655.4 455 655.7C453.5 655.9 451.7 655.5 451.4 656.4C451 657.2 452.9 659.4 452.8 660.7C452.7 662 451.9 663.4 450.7 664.2C449.5 665.1 447.2 665.4 445.7 665.7C444.1 665.9 442.4 665.2 441.4 665.7C440.4 666.1 440.9 668 440 668.5C439 669 437.2 668.9 435.7 668.9C434.1 668.9 431.9 669.2 430.7 668.5C429.5 667.9 429.4 666 428.6 664.9C427.7 663.9 426.9 662.3 425.7 662.1C424.5 661.8 422.7 663.6 421.4 663.5C420.1 663.4 418.5 662.4 417.8 661.4C417.2 660.3 418 658.4 417.5 657.1C417 655.8 415.2 654.8 415 653.5C414.8 652.2 415.1 650.4 416.1 649.2C417 648.1 420 647.6 420.7 646.4C421.4 645.2 420.5 643.6 420 642.1C419.5 640.6 418.5 638.8 417.8 637.1C417.2 635.4 416.8 633.9 416.1 632.1C415.3 630.3 414 628.1 413.6 626.4C413.1 624.7 413.1 623.4 413.6 622.1C414 620.8 415.5 619.5 416.4 618.5C417.4 617.6 418.9 617.5 419.3 616.4C419.6 615.3 418.3 613.3 418.6 612.1C418.8 611 419.7 610.1 420.7 609.6C421.7 609.1 423.6 610 424.3 609.3C425 608.5 424.3 606 425 605C425.7 604 427.4 603.3 428.6 603.2C429.7 603.1 431 604.9 431.8 604.3C432.5 603.6 432.2 600.5 432.8 599.3Z"/><circle cx="433.7" cy="601.1" r="2.3"/><circle cx="436.5" cy="599.5" r="2.8"/><circle cx="439.8" cy="599.8" r="2.4"/><circle cx="443.1" cy="601.7" r="2"/><circle cx="446.5" cy="602.4" r="2.5"/><circle cx="449.9" cy="602.7" r="1.9"/><circle cx="453.3" cy="604.3" r="1.9"/><circle cx="455.6" cy="609.5" r="2.6"/><circle cx="456.8" cy="613.6" r="2.9"/><circle cx="458.8" cy="615.4" r="2.5"/><circle cx="463.1" cy="613.6" r="2"/><circle cx="466.9" cy="614.1" r="2.4"/><circle cx="470.6" cy="616.8" r="2"/><circle cx="475" cy="616.8" r="1.8"/><circle cx="479" cy="619.3" r="2.3"/><circle cx="480.9" cy="624.1" r="2.4"/><circle cx="478.7" cy="628.8" r="2.3"/><circle cx="475.7" cy="630.5" r="2.3"/><circle cx="472.5" cy="632.2" r="2.9"/><circle cx="473.3" cy="635.5" r="2.7"/><circle cx="470.9" cy="638.8" r="2.1"/><circle cx="466.7" cy="641.3" r="2.1"/><circle cx="465.1" cy="645" r="2.6"/><circle cx="462.6" cy="649.5" r="2.7"/><circle cx="458.8" cy="652.8" r="2.9"/><circle cx="454.5" cy="654.1" r="1.8"/><circle cx="451" cy="653.9" r="2.8"/><circle cx="452.4" cy="658.1" r="2.9"/><circle cx="450.6" cy="662.7" r="1.9"/><circle cx="445.9" cy="663.2" r="2.7"/><circle cx="441.7" cy="664" r="1.9"/><circle cx="440.5" cy="666.1" r="2.9"/><circle cx="436.3" cy="667.2" r="1.9"/><circle cx="431.5" cy="666.9" r="1.9"/><circle cx="429.9" cy="662.8" r="2.7"/><circle cx="427" cy="660.4" r="2.4"/><circle cx="422.5" cy="662.3" r="2"/><circle cx="419" cy="660.3" r="1.9"/><circle cx="418.8" cy="656.1" r="1.9"/><circle cx="416.5" cy="652.6" r="2"/><circle cx="418.2" cy="648.1" r="2.9"/><circle cx="422.2" cy="645.6" r="2.1"/><circle cx="421.7" cy="641.6" r="2"/><circle cx="420.2" cy="636.8" r="2.7"/><circle cx="417.5" cy="632.1" r="1.9"/><circle cx="416.6" cy="629.5" r="2"/><circle cx="415.9" cy="626.9" r="2.6"/><circle cx="415.5" cy="622.7" r="2.1"/><circle cx="417.8" cy="619.2" r="1.9"/><circle cx="420.8" cy="617.3" r="2.1"/><circle cx="420.1" cy="613.2" r="2.2"/><circle cx="422.7" cy="611.3" r="2.9"/><circle cx="425.7" cy="610.7" r="2.4"/><circle cx="426.2" cy="606.4" r="2"/><circle cx="429.9" cy="605.2" r="2.8"/><circle cx="432.7" cy="605.9" r="2.1"/></g>
<g fill="#8094C9"><ellipse cx="442.7" cy="604.6" rx="3.1" ry="4.1" transform="rotate(42.9 442.7 604.6)"/><ellipse cx="456.1" cy="617.2" rx="5.9" ry="2.8" transform="rotate(3 456.1 617.2)"/><ellipse cx="422.7" cy="623.1" rx="5.9" ry="4.2" transform="rotate(118.2 422.7 623.1)"/><ellipse cx="446.9" cy="649.5" rx="4" ry="4.2" transform="rotate(13.5 446.9 649.5)"/><ellipse cx="473.9" cy="627.1" rx="5.5" ry="4" transform="rotate(103.1 473.9 627.1)"/><ellipse cx="440.5" cy="649.9" rx="4.9" ry="3.2" transform="rotate(150.9 440.5 649.9)"/><ellipse cx="455.2" cy="631.6" rx="3.7" ry="3.7" transform="rotate(89.5 455.2 631.6)"/><ellipse cx="474.5" cy="624.7" rx="4.9" ry="3" transform="rotate(24.5 474.5 624.7)"/><ellipse cx="432.7" cy="609.3" rx="4.4" ry="2.9" transform="rotate(38.5 432.7 609.3)"/><ellipse cx="456.9" cy="632.6" rx="4" ry="3.9" transform="rotate(176.8 456.9 632.6)"/><ellipse cx="462.6" cy="638.1" rx="4" ry="3.8" transform="rotate(3.4 462.6 638.1)"/><ellipse cx="457.1" cy="629.2" rx="5" ry="3.6" transform="rotate(145.3 457.1 629.2)"/><ellipse cx="446.5" cy="610" rx="3" ry="3.2" transform="rotate(128.6 446.5 610)"/><ellipse cx="432.4" cy="621.9" rx="5.2" ry="3.3" transform="rotate(110.6 432.4 621.9)"/><ellipse cx="422.6" cy="629.7" rx="5" ry="4" transform="rotate(67.8 422.6 629.7)"/><ellipse cx="450.7" cy="653.9" rx="4" ry="4" transform="rotate(154 450.7 653.9)"/><ellipse cx="419.3" cy="628.8" rx="4.8" ry="3.8" transform="rotate(87.7 419.3 628.8)"/><ellipse cx="428.9" cy="634.9" rx="3.9" ry="3.7" transform="rotate(115 428.9 634.9)"/><ellipse cx="449.9" cy="638.2" rx="3.6" ry="3.4" transform="rotate(90.6 449.9 638.2)"/><ellipse cx="449.3" cy="625.9" rx="5.6" ry="3.4" transform="rotate(88.4 449.3 625.9)"/><ellipse cx="432.2" cy="631.1" rx="3.4" ry="3.2" transform="rotate(146.8 432.2 631.1)"/><ellipse cx="446.6" cy="619.9" rx="3.6" ry="3.5" transform="rotate(166.5 446.6 619.9)"/><ellipse cx="427" cy="613.4" rx="5.2" ry="3" transform="rotate(64 427 613.4)"/><ellipse cx="420.8" cy="649.6" rx="3.4" ry="3.3" transform="rotate(45.1 420.8 649.6)"/><ellipse cx="450.3" cy="628.5" rx="4.2" ry="3.1" transform="rotate(95.3 450.3 628.5)"/><ellipse cx="476.1" cy="619.8" rx="4" ry="4.1" transform="rotate(39.3 476.1 619.8)"/><ellipse cx="448.6" cy="651.5" rx="4.6" ry="3.6" transform="rotate(34 448.6 651.5)"/><ellipse cx="451.8" cy="634.1" rx="4.8" ry="2.7" transform="rotate(33.2 451.8 634.1)"/><ellipse cx="445.6" cy="652" rx="4" ry="3.2" transform="rotate(92.8 445.6 652)"/><ellipse cx="426.1" cy="629.7" rx="5.4" ry="3.1" transform="rotate(35.1 426.1 629.7)"/><ellipse cx="457.1" cy="626.2" rx="4.9" ry="3.3" transform="rotate(176.9 457.1 626.2)"/><ellipse cx="418.4" cy="621.6" rx="4.5" ry="2.4" transform="rotate(64 418.4 621.6)"/><ellipse cx="459.2" cy="638" rx="4.7" ry="3.1" transform="rotate(180 459.2 638)"/><ellipse cx="464.7" cy="615.5" rx="4.3" ry="2.5" transform="rotate(35.2 464.7 615.5)"/><ellipse cx="454.9" cy="651.6" rx="3.1" ry="4.1" transform="rotate(28.8 454.9 651.6)"/><ellipse cx="425.3" cy="632.7" rx="5" ry="2.5" transform="rotate(170.1 425.3 632.7)"/><ellipse cx="450" cy="640" rx="4.2" ry="2.9" transform="rotate(117.9 450 640)"/><ellipse cx="433.2" cy="648.5" rx="3.9" ry="2.4" transform="rotate(44.1 433.2 648.5)"/><ellipse cx="424.4" cy="651.3" rx="4.2" ry="4" transform="rotate(134.7 424.4 651.3)"/><ellipse cx="443.3" cy="631.4" rx="6.1" ry="2.8" transform="rotate(94.2 443.3 631.4)"/><ellipse cx="463.6" cy="630.7" rx="6.1" ry="3.9" transform="rotate(108.7 463.6 630.7)"/><ellipse cx="456.8" cy="629.8" rx="3.7" ry="2.5" transform="rotate(95.1 456.8 629.8)"/><ellipse cx="444.2" cy="645" rx="4.5" ry="2.9" transform="rotate(104.8 444.2 645)"/><ellipse cx="467.4" cy="635.2" rx="6.2" ry="4.1" transform="rotate(132.2 467.4 635.2)"/><ellipse cx="426.7" cy="615" rx="6.1" ry="4" transform="rotate(158.2 426.7 615)"/><ellipse cx="443" cy="641.8" rx="3.3" ry="3.4" transform="rotate(13 443 641.8)"/><ellipse cx="460.4" cy="636.6" rx="5" ry="3.1" transform="rotate(86.1 460.4 636.6)"/><ellipse cx="452.6" cy="631.9" rx="5.2" ry="2.9" transform="rotate(139.6 452.6 631.9)"/><ellipse cx="433.1" cy="607.4" rx="4.1" ry="3.7" transform="rotate(66 433.1 607.4)"/><ellipse cx="462.7" cy="638" rx="5.9" ry="4.1" transform="rotate(164.4 462.7 638)"/><ellipse cx="469.2" cy="619" rx="4" ry="3.1" transform="rotate(168.2 469.2 619)"/><ellipse cx="430.8" cy="623.1" rx="4.2" ry="3.1" transform="rotate(71.2 430.8 623.1)"/><ellipse cx="427.1" cy="637.6" rx="5.6" ry="3.4" transform="rotate(150.5 427.1 637.6)"/><ellipse cx="451.2" cy="637.8" rx="6.1" ry="3.6" transform="rotate(144.8 451.2 637.8)"/><ellipse cx="447.7" cy="635.7" rx="5.3" ry="3.7" transform="rotate(164.7 447.7 635.7)"/><ellipse cx="449.8" cy="648.1" rx="5.6" ry="3.2" transform="rotate(75.7 449.8 648.1)"/><ellipse cx="439.6" cy="609.2" rx="3.7" ry="3.2" transform="rotate(52.6 439.6 609.2)"/><ellipse cx="445.3" cy="639" rx="5.9" ry="2.5" transform="rotate(19.6 445.3 639)"/><ellipse cx="428.6" cy="614" rx="5.3" ry="3.5" transform="rotate(40.3 428.6 614)"/><ellipse cx="433" cy="609.5" rx="5.4" ry="3" transform="rotate(98.7 433 609.5)"/><ellipse cx="446.8" cy="615.8" rx="5.8" ry="4" transform="rotate(61.6 446.8 615.8)"/><ellipse cx="440.2" cy="635" rx="4.7" ry="2.9" transform="rotate(178.2 440.2 635)"/><ellipse cx="446.3" cy="623.8" rx="5.5" ry="3.7" transform="rotate(109.1 446.3 623.8)"/><ellipse cx="424.4" cy="620.2" rx="3.8" ry="4" transform="rotate(92.9 424.4 620.2)"/><ellipse cx="450.6" cy="607.9" rx="5.5" ry="2.4" transform="rotate(147.9 450.6 607.9)"/><ellipse cx="428" cy="636.1" rx="4.7" ry="2.7" transform="rotate(149.8 428 636.1)"/><ellipse cx="435.1" cy="602.6" rx="4" ry="3.2" transform="rotate(128.7 435.1 602.6)"/><ellipse cx="440.9" cy="630.3" rx="6.1" ry="3.9" transform="rotate(117.7 440.9 630.3)"/><ellipse cx="439.7" cy="648.1" rx="3.8" ry="3.4" transform="rotate(82.5 439.7 648.1)"/><ellipse cx="427.9" cy="641.3" rx="3.9" ry="3.1" transform="rotate(97.2 427.9 641.3)"/><ellipse cx="436.9" cy="625.3" rx="5.1" ry="2.9" transform="rotate(36 436.9 625.3)"/><ellipse cx="441.4" cy="657.2" rx="4.9" ry="2.6" transform="rotate(40.8 441.4 657.2)"/><ellipse cx="422.2" cy="626.3" rx="3.2" ry="4.1" transform="rotate(76.9 422.2 626.3)"/><ellipse cx="439.7" cy="633.7" rx="5.5" ry="3.9" transform="rotate(110.1 439.7 633.7)"/><ellipse cx="451.5" cy="622.4" rx="4.6" ry="2.7" transform="rotate(128.4 451.5 622.4)"/><ellipse cx="449.3" cy="648.5" rx="5.7" ry="2.8" transform="rotate(170.1 449.3 648.5)"/><ellipse cx="430.5" cy="638.5" rx="5.2" ry="3" transform="rotate(167.2 430.5 638.5)"/><ellipse cx="445.6" cy="606" rx="6.1" ry="2.6" transform="rotate(162.7 445.6 606)"/><ellipse cx="452.4" cy="637.3" rx="3.8" ry="4" transform="rotate(178.6 452.4 637.3)"/><ellipse cx="430.2" cy="638.3" rx="5.7" ry="2.7" transform="rotate(98.6 430.2 638.3)"/><ellipse cx="459.1" cy="619.2" rx="5.1" ry="3.7" transform="rotate(68.7 459.1 619.2)"/><ellipse cx="427.4" cy="630.7" rx="3.5" ry="3.1" transform="rotate(102.5 427.4 630.7)"/><ellipse cx="449.5" cy="616" rx="4.8" ry="3" transform="rotate(115.5 449.5 616)"/><ellipse cx="446.1" cy="626.6" rx="5" ry="3.6" transform="rotate(136.4 446.1 626.6)"/><ellipse cx="441.9" cy="628.3" rx="4.8" ry="4" transform="rotate(94.7 441.9 628.3)"/><ellipse cx="464.2" cy="640" rx="5.4" ry="2.9" transform="rotate(106.8 464.2 640)"/><ellipse cx="422.2" cy="629.2" rx="4.6" ry="3.1" transform="rotate(9.4 422.2 629.2)"/><ellipse cx="450" cy="614.3" rx="4" ry="3.1" transform="rotate(42.5 450 614.3)"/><ellipse cx="420.4" cy="654" rx="3.4" ry="3.4" transform="rotate(171.2 420.4 654)"/><ellipse cx="430.5" cy="618.6" rx="4" ry="2.5" transform="rotate(161.1 430.5 618.6)"/><ellipse cx="441.1" cy="622.7" rx="4.9" ry="2.5" transform="rotate(5.6 441.1 622.7)"/><ellipse cx="434.9" cy="632.9" rx="6" ry="4.2" transform="rotate(85.1 434.9 632.9)"/><ellipse cx="446.3" cy="609.5" rx="5.8" ry="4.2" transform="rotate(36.4 446.3 609.5)"/><ellipse cx="444.4" cy="602.8" rx="3.7" ry="3" transform="rotate(127.9 444.4 602.8)"/><ellipse cx="426.1" cy="614" rx="5.1" ry="3.8" transform="rotate(67.1 426.1 614)"/><circle cx="433.7" cy="601.1" r="1.8"/><circle cx="436.5" cy="599.5" r="2.4"/><circle cx="439.8" cy="599.8" r="1.9"/><circle cx="443.1" cy="601.7" r="1.6"/><circle cx="446.5" cy="602.4" r="2"/><circle cx="449.9" cy="602.7" r="1.5"/><circle cx="453.3" cy="604.3" r="1.4"/><circle cx="455.6" cy="609.5" r="2.1"/><circle cx="456.8" cy="613.6" r="2.4"/><circle cx="458.8" cy="615.4" r="2.1"/><circle cx="463.1" cy="613.6" r="1.5"/><circle cx="466.9" cy="614.1" r="1.9"/><circle cx="470.6" cy="616.8" r="1.6"/><circle cx="475" cy="616.8" r="1.4"/><circle cx="479" cy="619.3" r="1.8"/><circle cx="480.9" cy="624.1" r="1.9"/><circle cx="478.7" cy="628.8" r="1.9"/><circle cx="475.7" cy="630.5" r="1.9"/><circle cx="472.5" cy="632.2" r="2.4"/><circle cx="473.3" cy="635.5" r="2.3"/><circle cx="470.9" cy="638.8" r="1.7"/><circle cx="466.7" cy="641.3" r="1.7"/><circle cx="465.1" cy="645" r="2.2"/><circle cx="462.6" cy="649.5" r="2.3"/><circle cx="458.8" cy="652.8" r="2.4"/><circle cx="452.4" cy="658.1" r="2.4"/><circle cx="420.2" cy="636.8" r="2.3"/><circle cx="416.6" cy="629.5" r="1.6"/><circle cx="415.9" cy="626.9" r="2.2"/><circle cx="415.5" cy="622.7" r="1.7"/><circle cx="417.8" cy="619.2" r="1.4"/><circle cx="420.8" cy="617.3" r="1.6"/><circle cx="420.1" cy="613.2" r="1.8"/><circle cx="422.7" cy="611.3" r="2.4"/><circle cx="425.7" cy="610.7" r="2"/><circle cx="426.2" cy="606.4" r="1.6"/><circle cx="429.9" cy="605.2" r="2.3"/><circle cx="432.7" cy="605.9" r="1.6"/></g>
<g fill="#B4621B" stroke="#B4621B" stroke-width="1.4" stroke-linejoin="round"><path d="M513.6 562.7C513.6 561.5 515 560 516 559.3C517 558.5 518.4 558.1 519.4 558.3C520.4 558.5 521 560.1 521.9 560.7C522.7 561.4 523.2 562.3 524.3 562.2C525.4 562.1 526.9 560.4 528.2 560.3C529.5 560.1 530.8 560.5 532.1 561.2C533.4 562 534.9 564.5 536 564.7C537.2 564.8 537.7 562.8 539 562.2C540.3 561.6 542.3 561.2 543.8 561.2C545.4 561.3 547.1 563 548.2 562.7C549.4 562.4 549.6 560.2 550.7 559.3C551.7 558.4 553.3 557.5 554.6 557.3C555.9 557.2 557.4 557.6 558.5 558.3C559.6 559 560.4 560.7 561.4 561.7C562.4 562.8 563.4 563.7 564.4 564.7C565.3 565.6 566.1 566.8 567.3 567.6C568.4 568.4 570.2 568.6 571.2 569.5C572.2 570.4 573.3 572 573.1 573C573 573.9 571.3 574.7 570.2 575.4C569.2 576 567.4 576 566.8 576.9C566.1 577.7 566.1 578.9 566.3 580.3C566.5 581.7 567.7 583.4 567.8 585.2C567.9 587 567.5 589.2 566.8 591C566.1 592.8 564.1 594.3 563.4 595.9C562.6 597.5 563.1 599.2 562.4 600.8C561.7 602.4 560.1 604 559.5 605.7C558.8 607.3 559.1 609.1 558.5 610.6C557.8 612 556.5 613.5 555.6 614.5C554.6 615.4 553.4 615.1 552.6 616.4C551.8 617.7 551.3 620.3 550.7 622.3C550 624.2 549.5 626.4 548.7 628.1C547.9 629.9 547.3 631.7 545.8 633C544.3 634.3 541.9 635.4 539.9 636C538 636.5 535.9 636.7 534.1 636.4C532.3 636.2 530.7 635.6 529.2 634.5C527.7 633.4 526.6 631.3 525.3 630.1C524 628.9 522.8 627.8 521.4 627.2C519.9 626.5 518.3 626.2 516.5 626.2C514.7 626.2 512.6 627.3 510.6 627.2C508.7 627 506.2 626.4 504.8 625.2C503.4 624.1 502.6 622 502.3 620.3C502.1 618.7 502.5 616.7 503.3 615.4C504.1 614.1 506.2 613.7 507.2 612.5C508.3 611.4 509.6 610.1 509.7 608.6C509.7 607.1 508 605.4 507.7 603.7C507.4 602.1 508.3 600.5 507.7 598.8C507 597.2 504.4 595.6 503.8 594C503.2 592.3 503.6 590.4 504.3 589.1C504.9 587.8 506.5 587.1 507.7 586.1C508.9 585.2 510.5 584.4 511.6 583.2C512.7 582.1 513.8 580.8 514.5 579.3C515.3 577.8 515.4 576 516 574.4C516.6 572.9 518 571.3 518 570C518 568.7 516.7 567.8 516 566.6C515.3 565.4 513.6 563.9 513.6 562.7Z"/><circle cx="514.7" cy="564.3" r="2.3"/><circle cx="517.2" cy="561.3" r="2.5"/><circle cx="520.1" cy="559.7" r="1.8"/><circle cx="522.5" cy="562.3" r="2.1"/><circle cx="525.1" cy="564.3" r="2.6"/><circle cx="528.7" cy="562.2" r="2.4"/><circle cx="532.4" cy="562.9" r="2"/><circle cx="536.1" cy="566.2" r="2"/><circle cx="538.9" cy="563.6" r="1.9"/><circle cx="543.6" cy="562.7" r="1.9"/><circle cx="547.7" cy="564.5" r="2.2"/><circle cx="549.8" cy="561.8" r="2.7"/><circle cx="554" cy="558.6" r="1.9"/><circle cx="557.4" cy="560.3" r="2.4"/><circle cx="560.1" cy="563.7" r="2.9"/><circle cx="563.3" cy="565.9" r="1.9"/><circle cx="566.1" cy="568.8" r="1.9"/><circle cx="569.4" cy="571" r="2.5"/><circle cx="571.1" cy="574.3" r="2.6"/><circle cx="568.9" cy="576.3" r="2"/><circle cx="565.2" cy="578" r="2.2"/><circle cx="564.4" cy="581.4" r="2.5"/><circle cx="565.8" cy="585.9" r="2.2"/><circle cx="564.7" cy="591.4" r="2.6"/><circle cx="560.9" cy="596" r="2.9"/><circle cx="560.5" cy="600.5" r="2.2"/><circle cx="557.4" cy="604.9" r="2.6"/><circle cx="557" cy="609.6" r="1.9"/><circle cx="554.2" cy="613.1" r="2.2"/><circle cx="551.2" cy="614.5" r="2.7"/><circle cx="550.9" cy="618.2" r="1.8"/><circle cx="549.8" cy="620.5" r="2.3"/><circle cx="549" cy="623.6" r="2"/><circle cx="548.1" cy="626.4" r="2.2"/><circle cx="545.4" cy="631.5" r="1.9"/><circle cx="542.6" cy="632.9" r="2"/><circle cx="539.8" cy="634.3" r="1.8"/><circle cx="534.2" cy="634.6" r="2.2"/><circle cx="529.5" cy="633" r="1.9"/><circle cx="525.9" cy="628.4" r="2"/><circle cx="522.2" cy="625.5" r="2.3"/><circle cx="517.6" cy="624.7" r="2.3"/><circle cx="511.6" cy="626" r="2"/><circle cx="509.1" cy="624.8" r="2.2"/><circle cx="506.4" cy="623.8" r="2.6"/><circle cx="503.7" cy="619.4" r="1.8"/><circle cx="505.4" cy="614.3" r="2.6"/><circle cx="509" cy="611.6" r="2.1"/><circle cx="511" cy="608" r="1.8"/><circle cx="510" cy="603.2" r="2.9"/><circle cx="509.9" cy="598.7" r="2.4"/><circle cx="507.5" cy="596.4" r="2.2"/><circle cx="506.1" cy="594.2" r="2.7"/><circle cx="506" cy="589.5" r="2.1"/><circle cx="509.6" cy="586.8" r="2.3"/><circle cx="513" cy="584" r="2.1"/><circle cx="516.6" cy="580.9" r="2.8"/><circle cx="517.2" cy="575.6" r="2.1"/><circle cx="518.9" cy="571.3" r="2.1"/><circle cx="517.2" cy="568.2" r="2.4"/></g>
<g fill="#C8800E"><path d="M513.6 562.7C513.6 561.5 515 560 516 559.3C517 558.5 518.4 558.1 519.4 558.3C520.4 558.5 521 560.1 521.9 560.7C522.7 561.4 523.2 562.3 524.3 562.2C525.4 562.1 526.9 560.4 528.2 560.3C529.5 560.1 530.8 560.5 532.1 561.2C533.4 562 534.9 564.5 536 564.7C537.2 564.8 537.7 562.8 539 562.2C540.3 561.6 542.3 561.2 543.8 561.2C545.4 561.3 547.1 563 548.2 562.7C549.4 562.4 549.6 560.2 550.7 559.3C551.7 558.4 553.3 557.5 554.6 557.3C555.9 557.2 557.4 557.6 558.5 558.3C559.6 559 560.4 560.7 561.4 561.7C562.4 562.8 563.4 563.7 564.4 564.7C565.3 565.6 566.1 566.8 567.3 567.6C568.4 568.4 570.2 568.6 571.2 569.5C572.2 570.4 573.3 572 573.1 573C573 573.9 571.3 574.7 570.2 575.4C569.2 576 567.4 576 566.8 576.9C566.1 577.7 566.1 578.9 566.3 580.3C566.5 581.7 567.7 583.4 567.8 585.2C567.9 587 567.5 589.2 566.8 591C566.1 592.8 564.1 594.3 563.4 595.9C562.6 597.5 563.1 599.2 562.4 600.8C561.7 602.4 560.1 604 559.5 605.7C558.8 607.3 559.1 609.1 558.5 610.6C557.8 612 556.5 613.5 555.6 614.5C554.6 615.4 553.4 615.1 552.6 616.4C551.8 617.7 551.3 620.3 550.7 622.3C550 624.2 549.5 626.4 548.7 628.1C547.9 629.9 547.3 631.7 545.8 633C544.3 634.3 541.9 635.4 539.9 636C538 636.5 535.9 636.7 534.1 636.4C532.3 636.2 530.7 635.6 529.2 634.5C527.7 633.4 526.6 631.3 525.3 630.1C524 628.9 522.8 627.8 521.4 627.2C519.9 626.5 518.3 626.2 516.5 626.2C514.7 626.2 512.6 627.3 510.6 627.2C508.7 627 506.2 626.4 504.8 625.2C503.4 624.1 502.6 622 502.3 620.3C502.1 618.7 502.5 616.7 503.3 615.4C504.1 614.1 506.2 613.7 507.2 612.5C508.3 611.4 509.6 610.1 509.7 608.6C509.7 607.1 508 605.4 507.7 603.7C507.4 602.1 508.3 600.5 507.7 598.8C507 597.2 504.4 595.6 503.8 594C503.2 592.3 503.6 590.4 504.3 589.1C504.9 587.8 506.5 587.1 507.7 586.1C508.9 585.2 510.5 584.4 511.6 583.2C512.7 582.1 513.8 580.8 514.5 579.3C515.3 577.8 515.4 576 516 574.4C516.6 572.9 518 571.3 518 570C518 568.7 516.7 567.8 516 566.6C515.3 565.4 513.6 563.9 513.6 562.7Z"/><circle cx="514.7" cy="564.3" r="2.3"/><circle cx="517.2" cy="561.3" r="2.5"/><circle cx="520.1" cy="559.7" r="1.8"/><circle cx="522.5" cy="562.3" r="2.1"/><circle cx="525.1" cy="564.3" r="2.6"/><circle cx="528.7" cy="562.2" r="2.4"/><circle cx="532.4" cy="562.9" r="2"/><circle cx="536.1" cy="566.2" r="2"/><circle cx="538.9" cy="563.6" r="1.9"/><circle cx="543.6" cy="562.7" r="1.9"/><circle cx="547.7" cy="564.5" r="2.2"/><circle cx="549.8" cy="561.8" r="2.7"/><circle cx="554" cy="558.6" r="1.9"/><circle cx="557.4" cy="560.3" r="2.4"/><circle cx="560.1" cy="563.7" r="2.9"/><circle cx="563.3" cy="565.9" r="1.9"/><circle cx="566.1" cy="568.8" r="1.9"/><circle cx="569.4" cy="571" r="2.5"/><circle cx="571.1" cy="574.3" r="2.6"/><circle cx="568.9" cy="576.3" r="2"/><circle cx="565.2" cy="578" r="2.2"/><circle cx="564.4" cy="581.4" r="2.5"/><circle cx="565.8" cy="585.9" r="2.2"/><circle cx="564.7" cy="591.4" r="2.6"/><circle cx="560.9" cy="596" r="2.9"/><circle cx="560.5" cy="600.5" r="2.2"/><circle cx="557.4" cy="604.9" r="2.6"/><circle cx="557" cy="609.6" r="1.9"/><circle cx="554.2" cy="613.1" r="2.2"/><circle cx="551.2" cy="614.5" r="2.7"/><circle cx="550.9" cy="618.2" r="1.8"/><circle cx="549.8" cy="620.5" r="2.3"/><circle cx="549" cy="623.6" r="2"/><circle cx="548.1" cy="626.4" r="2.2"/><circle cx="545.4" cy="631.5" r="1.9"/><circle cx="542.6" cy="632.9" r="2"/><circle cx="539.8" cy="634.3" r="1.8"/><circle cx="534.2" cy="634.6" r="2.2"/><circle cx="529.5" cy="633" r="1.9"/><circle cx="525.9" cy="628.4" r="2"/><circle cx="522.2" cy="625.5" r="2.3"/><circle cx="517.6" cy="624.7" r="2.3"/><circle cx="511.6" cy="626" r="2"/><circle cx="509.1" cy="624.8" r="2.2"/><circle cx="506.4" cy="623.8" r="2.6"/><circle cx="503.7" cy="619.4" r="1.8"/><circle cx="505.4" cy="614.3" r="2.6"/><circle cx="509" cy="611.6" r="2.1"/><circle cx="511" cy="608" r="1.8"/><circle cx="510" cy="603.2" r="2.9"/><circle cx="509.9" cy="598.7" r="2.4"/><circle cx="507.5" cy="596.4" r="2.2"/><circle cx="506.1" cy="594.2" r="2.7"/><circle cx="506" cy="589.5" r="2.1"/><circle cx="509.6" cy="586.8" r="2.3"/><circle cx="513" cy="584" r="2.1"/><circle cx="516.6" cy="580.9" r="2.8"/><circle cx="517.2" cy="575.6" r="2.1"/><circle cx="518.9" cy="571.3" r="2.1"/><circle cx="517.2" cy="568.2" r="2.4"/></g>
<g fill="#D18D18"><ellipse cx="552.2" cy="574.3" rx="3.9" ry="2.9" transform="rotate(123 552.2 574.3)"/><ellipse cx="532.1" cy="576.4" rx="4.4" ry="4.2" transform="rotate(100.8 532.1 576.4)"/><ellipse cx="556.2" cy="590.4" rx="4.9" ry="4" transform="rotate(142.1 556.2 590.4)"/><ellipse cx="526.9" cy="586.5" rx="5.4" ry="3.4" transform="rotate(3.1 526.9 586.5)"/><ellipse cx="540.2" cy="619.8" rx="4.2" ry="2.6" transform="rotate(63.6 540.2 619.8)"/><ellipse cx="540.7" cy="606.5" rx="3.4" ry="3.4" transform="rotate(126.1 540.7 606.5)"/><ellipse cx="519.7" cy="589.5" rx="4" ry="3.6" transform="rotate(25.5 519.7 589.5)"/><ellipse cx="524.5" cy="612.4" rx="5.4" ry="3.6" transform="rotate(168.2 524.5 612.4)"/><ellipse cx="533.7" cy="571.5" rx="5.1" ry="3" transform="rotate(42.9 533.7 571.5)"/><ellipse cx="527.8" cy="579.5" rx="3.6" ry="3.2" transform="rotate(39.7 527.8 579.5)"/><ellipse cx="520" cy="593.7" rx="5.7" ry="3.9" transform="rotate(41 520 593.7)"/><ellipse cx="556.2" cy="588.6" rx="5.2" ry="3.6" transform="rotate(175 556.2 588.6)"/><ellipse cx="550.5" cy="585" rx="5.3" ry="3" transform="rotate(90 550.5 585)"/><ellipse cx="524.1" cy="568.1" rx="3.7" ry="3.4" transform="rotate(45.3 524.1 568.1)"/><ellipse cx="559.2" cy="579.9" rx="6" ry="3.5" transform="rotate(70 559.2 579.9)"/><ellipse cx="545.4" cy="619.4" rx="4.3" ry="3.5" transform="rotate(47.4 545.4 619.4)"/><ellipse cx="529.2" cy="587.8" rx="4.3" ry="3.9" transform="rotate(30.6 529.2 587.8)"/><ellipse cx="560.5" cy="585.7" rx="5.4" ry="2.9" transform="rotate(24.7 560.5 585.7)"/><ellipse cx="561.3" cy="574" rx="5.8" ry="2.4" transform="rotate(55.5 561.3 574)"/><ellipse cx="553" cy="580.8" rx="3.6" ry="2.7" transform="rotate(56.2 553 580.8)"/><ellipse cx="545.3" cy="565.4" rx="5.2" ry="3.4" transform="rotate(80.7 545.3 565.4)"/><ellipse cx="547.2" cy="588.1" rx="4.3" ry="3.3" transform="rotate(128.7 547.2 588.1)"/><ellipse cx="532.6" cy="589.4" rx="4.9" ry="3.8" transform="rotate(151 532.6 589.4)"/><ellipse cx="517" cy="617.2" rx="4.4" ry="3.4" transform="rotate(56.9 517 617.2)"/><ellipse cx="544.8" cy="610.3" rx="3" ry="2.8" transform="rotate(86.8 544.8 610.3)"/><ellipse cx="526.4" cy="587.5" rx="5.8" ry="4.2" transform="rotate(87.3 526.4 587.5)"/><ellipse cx="546.5" cy="599.7" rx="4.2" ry="2.8" transform="rotate(69.4 546.5 599.7)"/><ellipse cx="511.3" cy="600.1" rx="6" ry="3.7" transform="rotate(45.4 511.3 600.1)"/><ellipse cx="509.6" cy="615.6" rx="5" ry="2.7" transform="rotate(98.7 509.6 615.6)"/><ellipse cx="543.2" cy="587.3" rx="4" ry="3" transform="rotate(179.6 543.2 587.3)"/><ellipse cx="537.9" cy="593.7" rx="3.6" ry="3.1" transform="rotate(36.9 537.9 593.7)"/><ellipse cx="528.3" cy="585" rx="6" ry="2.9" transform="rotate(59.8 528.3 585)"/><ellipse cx="530.5" cy="598.1" rx="5.1" ry="2.5" transform="rotate(120.9 530.5 598.1)"/><ellipse cx="520" cy="621.4" rx="6.2" ry="3.6" transform="rotate(30.9 520 621.4)"/><ellipse cx="544.1" cy="595.2" rx="6.1" ry="3.2" transform="rotate(168.7 544.1 595.2)"/><ellipse cx="535.3" cy="585.8" rx="5.3" ry="3.8" transform="rotate(43.1 535.3 585.8)"/><ellipse cx="553.8" cy="597" rx="5.1" ry="3.5" transform="rotate(128.6 553.8 597)"/><ellipse cx="532.1" cy="582.2" rx="3.8" ry="3.1" transform="rotate(9.3 532.1 582.2)"/><ellipse cx="561.2" cy="587.4" rx="4.6" ry="3.5" transform="rotate(167.9 561.2 587.4)"/><ellipse cx="528.3" cy="572.3" rx="5.9" ry="3.8" transform="rotate(99.3 528.3 572.3)"/><ellipse cx="520.8" cy="599.6" rx="5.9" ry="2.6" transform="rotate(111.1 520.8 599.6)"/><ellipse cx="547.9" cy="591.8" rx="3.1" ry="3.3" transform="rotate(64.7 547.9 591.8)"/><ellipse cx="539.3" cy="601.8" rx="5.7" ry="4" transform="rotate(98.9 539.3 601.8)"/><ellipse cx="562.3" cy="586.8" rx="5.9" ry="2.4" transform="rotate(143.3 562.3 586.8)"/><ellipse cx="517.9" cy="589.6" rx="5.6" ry="3.7" transform="rotate(94.4 517.9 589.6)"/><ellipse cx="548.4" cy="586.1" rx="3.9" ry="2.5" transform="rotate(22.2 548.4 586.1)"/><ellipse cx="545" cy="567.9" rx="6.1" ry="3.4" transform="rotate(31.9 545 567.9)"/><ellipse cx="518.1" cy="589.2" rx="5.1" ry="2.9" transform="rotate(102.5 518.1 589.2)"/><ellipse cx="555.5" cy="579.9" rx="5.4" ry="3.2" transform="rotate(30.5 555.5 579.9)"/><ellipse cx="546.4" cy="585.6" rx="3.3" ry="3.3" transform="rotate(74.7 546.4 585.6)"/><ellipse cx="542.4" cy="600" rx="4.7" ry="4.2" transform="rotate(162.9 542.4 600)"/><ellipse cx="552.4" cy="573.5" rx="3.4" ry="4.1" transform="rotate(11.9 552.4 573.5)"/><ellipse cx="532.8" cy="622.1" rx="5.2" ry="4.2" transform="rotate(140.3 532.8 622.1)"/><ellipse cx="549.1" cy="595.3" rx="3.7" ry="2.8" transform="rotate(12.1 549.1 595.3)"/><ellipse cx="550.3" cy="604" rx="3.5" ry="3.2" transform="rotate(80.6 550.3 604)"/><ellipse cx="516.6" cy="589.9" rx="3.6" ry="3.5" transform="rotate(59 516.6 589.9)"/><ellipse cx="550.8" cy="598.2" rx="4.4" ry="3.1" transform="rotate(36.1 550.8 598.2)"/><ellipse cx="548.4" cy="568.7" rx="4.7" ry="2.7" transform="rotate(58.4 548.4 568.7)"/><ellipse cx="554.1" cy="595.7" rx="5.8" ry="2.7" transform="rotate(15.9 554.1 595.7)"/><ellipse cx="545.4" cy="612.2" rx="4.8" ry="2.7" transform="rotate(176 545.4 612.2)"/><ellipse cx="563.2" cy="578" rx="3.3" ry="2.7" transform="rotate(48.9 563.2 578)"/><ellipse cx="561.2" cy="567.3" rx="3.6" ry="3.2" transform="rotate(155.2 561.2 567.3)"/><ellipse cx="517" cy="592.1" rx="5.9" ry="3.9" transform="rotate(96.5 517 592.1)"/><ellipse cx="521" cy="614.4" rx="3.4" ry="3.6" transform="rotate(30.4 521 614.4)"/><ellipse cx="521.7" cy="612.4" rx="5.8" ry="2.9" transform="rotate(138.3 521.7 612.4)"/><ellipse cx="513.4" cy="592.6" rx="5.2" ry="3.7" transform="rotate(148.7 513.4 592.6)"/><ellipse cx="523.4" cy="614.9" rx="3.2" ry="4" transform="rotate(56.8 523.4 614.9)"/><ellipse cx="524.5" cy="613.8" rx="3.6" ry="2.6" transform="rotate(11.9 524.5 613.8)"/><ellipse cx="527.5" cy="581.9" rx="4.1" ry="2.6" transform="rotate(76.3 527.5 581.9)"/><ellipse cx="554.6" cy="575.3" rx="3.3" ry="4.2" transform="rotate(123.2 554.6 575.3)"/><ellipse cx="546.4" cy="564.5" rx="3.3" ry="3.8" transform="rotate(63.4 546.4 564.5)"/><ellipse cx="537.5" cy="591.1" rx="3.6" ry="2.7" transform="rotate(80.1 537.5 591.1)"/><ellipse cx="514.1" cy="590.7" rx="4.3" ry="2.5" transform="rotate(154.8 514.1 590.7)"/><ellipse cx="557.4" cy="603.2" rx="5.1" ry="3.3" transform="rotate(153.6 557.4 603.2)"/><ellipse cx="541.1" cy="589.4" rx="5" ry="3.5" transform="rotate(169.2 541.1 589.4)"/><ellipse cx="515.3" cy="606.4" rx="3.5" ry="3.4" transform="rotate(158.7 515.3 606.4)"/><ellipse cx="518.2" cy="604.6" rx="4.3" ry="3.2" transform="rotate(32.1 518.2 604.6)"/><ellipse cx="558.2" cy="577.6" rx="5.3" ry="3.4" transform="rotate(81.4 558.2 577.6)"/><ellipse cx="534.7" cy="609.3" rx="5.2" ry="2.4" transform="rotate(115.1 534.7 609.3)"/><ellipse cx="540.7" cy="568.8" rx="3.6" ry="4" transform="rotate(11.2 540.7 568.8)"/><ellipse cx="511.1" cy="587.7" rx="5" ry="2.5" transform="rotate(80.5 511.1 587.7)"/><ellipse cx="529.5" cy="571.2" rx="3.2" ry="4.1" transform="rotate(18.8 529.5 571.2)"/><ellipse cx="547.5" cy="579.5" rx="4.8" ry="3.6" transform="rotate(37.4 547.5 579.5)"/><ellipse cx="546.7" cy="600.1" rx="3.3" ry="3.4" transform="rotate(77.9 546.7 600.1)"/><ellipse cx="529" cy="567" rx="4.2" ry="3.9" transform="rotate(89.4 529 567)"/><ellipse cx="521.2" cy="595.6" rx="3.4" ry="4.1" transform="rotate(59.6 521.2 595.6)"/><ellipse cx="519.3" cy="597" rx="5" ry="3.9" transform="rotate(15.6 519.3 597)"/><ellipse cx="545.9" cy="571.4" rx="5.6" ry="3.1" transform="rotate(101.4 545.9 571.4)"/><ellipse cx="534.5" cy="582.2" rx="5.7" ry="3.1" transform="rotate(163.9 534.5 582.2)"/><ellipse cx="532" cy="617.7" rx="5.2" ry="2.6" transform="rotate(53.4 532 617.7)"/><ellipse cx="561.3" cy="588.6" rx="4" ry="3.7" transform="rotate(177.6 561.3 588.6)"/><ellipse cx="551.3" cy="575.4" rx="5.5" ry="3.7" transform="rotate(138.3 551.3 575.4)"/><ellipse cx="511" cy="624.7" rx="3.4" ry="3.4" transform="rotate(172.6 511 624.7)"/><ellipse cx="553" cy="571.1" rx="5.2" ry="3.9" transform="rotate(108.3 553 571.1)"/><ellipse cx="521.1" cy="580.2" rx="5.8" ry="2.9" transform="rotate(22.8 521.1 580.2)"/><circle cx="514.7" cy="564.3" r="1.9"/><circle cx="517.2" cy="561.3" r="2.1"/><circle cx="520.1" cy="559.7" r="1.4"/><circle cx="522.5" cy="562.3" r="1.7"/><circle cx="525.1" cy="564.3" r="2.1"/><circle cx="528.7" cy="562.2" r="2"/><circle cx="532.4" cy="562.9" r="1.5"/><circle cx="536.1" cy="566.2" r="1.5"/><circle cx="538.9" cy="563.6" r="1.4"/><circle cx="543.6" cy="562.7" r="1.4"/><circle cx="547.7" cy="564.5" r="1.7"/><circle cx="549.8" cy="561.8" r="2.3"/><circle cx="554" cy="558.6" r="1.4"/><circle cx="557.4" cy="560.3" r="1.9"/><circle cx="560.1" cy="563.7" r="2.4"/><circle cx="563.3" cy="565.9" r="1.5"/><circle cx="566.1" cy="568.8" r="1.5"/><circle cx="569.4" cy="571" r="2"/><circle cx="571.1" cy="574.3" r="2.1"/><circle cx="568.9" cy="576.3" r="1.5"/><circle cx="565.2" cy="578" r="1.8"/><circle cx="564.4" cy="581.4" r="2"/><circle cx="565.8" cy="585.9" r="1.8"/><circle cx="564.7" cy="591.4" r="2.1"/><circle cx="560.9" cy="596" r="2.4"/><circle cx="560.5" cy="600.5" r="1.7"/><circle cx="557.4" cy="604.9" r="2.1"/><circle cx="557" cy="609.6" r="1.5"/><circle cx="554.2" cy="613.1" r="1.7"/><circle cx="545.4" cy="631.5" r="1.5"/><circle cx="525.9" cy="628.4" r="1.6"/><circle cx="511.6" cy="626" r="1.5"/><circle cx="509.1" cy="624.8" r="1.8"/><circle cx="503.7" cy="619.4" r="1.4"/><circle cx="505.4" cy="614.3" r="2.2"/><circle cx="509" cy="611.6" r="1.6"/><circle cx="511" cy="608" r="1.4"/><circle cx="510" cy="603.2" r="2.4"/><circle cx="509.9" cy="598.7" r="1.9"/><circle cx="507.5" cy="596.4" r="1.7"/><circle cx="506.1" cy="594.2" r="2.3"/><circle cx="506" cy="589.5" r="1.6"/><circle cx="509.6" cy="586.8" r="1.9"/><circle cx="513" cy="584" r="1.6"/><circle cx="516.6" cy="580.9" r="2.3"/><circle cx="517.2" cy="575.6" r="1.7"/><circle cx="518.9" cy="571.3" r="1.7"/><circle cx="517.2" cy="568.2" r="1.9"/></g>
<g fill="#5C5C5C" stroke="#5C5C5C" stroke-width="1.2" stroke-linejoin="round"><path d="M585.4 601.8C585.8 600.7 587.6 599.7 588.8 599.3C590 599 591.4 600 592.7 599.8C594 599.7 595.3 598.4 596.6 598.4C597.9 598.4 599.5 598.8 600.5 599.8C601.5 600.8 601.5 603.1 602.4 604.2C603.4 605.4 604.7 606.4 606.4 606.7C608 606.9 610.3 606 612.2 605.7C614.2 605.4 616 604.9 618.1 604.7C620.2 604.5 623 603.9 624.9 604.2C626.9 604.5 628.7 605.4 629.8 606.7C630.9 607.9 630.8 610.6 631.8 611.5C632.7 612.5 634.4 611.9 635.7 612.5C636.9 613.2 638.4 614.4 639.1 615.4C639.7 616.5 639 617.9 639.6 618.9C640.1 619.8 641.9 620.2 642.5 621.3C643.1 622.4 643.1 624.1 643 625.2C642.8 626.4 641.1 627.3 641.5 628.1C641.9 629 644.6 629.1 645.4 630.1C646.2 631.1 646.6 632.7 646.4 634C646.2 635.3 644.9 636.6 644 637.9C643 639.2 641.4 640.5 640.5 641.8C639.6 643.1 639.7 644.6 638.6 645.7C637.5 646.9 635.3 647.9 633.7 648.7C632.1 649.4 630.4 649.6 628.8 650.1C627.2 650.6 625.1 650.5 623.9 651.6C622.8 652.6 622.6 654.8 622 656.5C621.3 658.1 620.8 659.7 620 661.4C619.2 663 618.2 664.8 617.1 666.2C616 667.7 614.5 669.3 613.2 670.1C611.9 671 610.6 671.4 609.3 671.1C608 670.9 606.4 669.9 605.4 668.7C604.4 667.5 604.2 665.2 603.4 663.8C602.6 662.4 601.6 661.3 600.5 660.4C599.4 659.5 597.7 659.7 596.6 658.4C595.4 657.1 594.8 654.4 593.7 652.6C592.5 650.8 591.1 649.1 589.7 647.7C588.4 646.2 586.2 645.2 585.4 643.8C584.5 642.3 584.2 640.5 584.4 638.9C584.5 637.3 586.9 635 586.3 634C585.8 633 582.5 633.8 581 633C579.4 632.2 577.7 630.6 577.1 629.1C576.4 627.7 576.9 625.7 577.1 624.2C577.2 622.8 578.2 621.5 578 620.3C577.9 619.2 576.1 618.7 576.1 617.4C576.1 616.1 577.4 613.8 578 612.5C578.7 611.2 578.8 610.2 580 609.6C581.1 608.9 583.8 609.3 584.9 608.6C585.9 608 586.2 606.8 586.3 605.7C586.4 604.5 584.9 602.8 585.4 601.8Z"/><circle cx="586.4" cy="603.1" r="2.1"/><circle cx="589.9" cy="601.1" r="2.6"/><circle cx="593.5" cy="601.4" r="2"/><circle cx="597.2" cy="600" r="2"/><circle cx="601.2" cy="602.2" r="2.6"/><circle cx="603.1" cy="606.3" r="2.4"/><circle cx="606.7" cy="608.5" r="2.1"/><circle cx="612.1" cy="608.1" r="2.7"/><circle cx="617.7" cy="606.3" r="1.8"/><circle cx="621" cy="605.9" r="2"/><circle cx="624" cy="606.3" r="2.7"/><circle cx="628.5" cy="608.6" r="2.7"/><circle cx="630.1" cy="613.4" r="2.8"/><circle cx="634.4" cy="613.6" r="2.1"/><circle cx="637.5" cy="616.5" r="2.3"/><circle cx="637.7" cy="619.9" r="2.4"/><circle cx="640.7" cy="622.1" r="2.2"/><circle cx="641.1" cy="625.8" r="2.1"/><circle cx="639.3" cy="628.6" r="2.7"/><circle cx="642.9" cy="630.4" r="2.9"/><circle cx="644.4" cy="634" r="2.4"/><circle cx="642.4" cy="637.8" r="1.9"/><circle cx="638.5" cy="641.3" r="2.3"/><circle cx="637" cy="645.1" r="2"/><circle cx="632.2" cy="647.7" r="2.1"/><circle cx="627.2" cy="648.7" r="2.5"/><circle cx="622.9" cy="650.3" r="1.9"/><circle cx="621.2" cy="654.8" r="2.1"/><circle cx="619.5" cy="659.7" r="2"/><circle cx="616.8" cy="664.7" r="1.9"/><circle cx="613.1" cy="667.6" r="2.8"/><circle cx="609.4" cy="669" r="2.6"/><circle cx="605.7" cy="667" r="1.8"/><circle cx="604" cy="661.6" r="2.7"/><circle cx="601.4" cy="658.2" r="2.5"/><circle cx="597.5" cy="656.9" r="2.3"/><circle cx="596.6" cy="653.6" r="2.8"/><circle cx="594.8" cy="651.4" r="2"/><circle cx="593.1" cy="649" r="2.2"/><circle cx="591" cy="646.9" r="2"/><circle cx="587.3" cy="643.1" r="2.5"/><circle cx="586" cy="638.6" r="2"/><circle cx="588.4" cy="634.1" r="2.4"/><circle cx="582.8" cy="633.1" r="2.2"/><circle cx="579" cy="629.4" r="2.2"/><circle cx="578.6" cy="624.7" r="2"/><circle cx="579.6" cy="621" r="1.9"/><circle cx="577.4" cy="618.1" r="1.9"/><circle cx="579.8" cy="613.7" r="2.4"/><circle cx="581.2" cy="610.6" r="1.8"/><circle cx="586.3" cy="610" r="2.2"/><circle cx="587.2" cy="606.7" r="1.8"/></g>
<g fill="#6E6E6E"><path d="M585.4 601.8C585.8 600.7 587.6 599.7 588.8 599.3C590 599 591.4 600 592.7 599.8C594 599.7 595.3 598.4 596.6 598.4C597.9 598.4 599.5 598.8 600.5 599.8C601.5 600.8 601.5 603.1 602.4 604.2C603.4 605.4 604.7 606.4 606.4 606.7C608 606.9 610.3 606 612.2 605.7C614.2 605.4 616 604.9 618.1 604.7C620.2 604.5 623 603.9 624.9 604.2C626.9 604.5 628.7 605.4 629.8 606.7C630.9 607.9 630.8 610.6 631.8 611.5C632.7 612.5 634.4 611.9 635.7 612.5C636.9 613.2 638.4 614.4 639.1 615.4C639.7 616.5 639 617.9 639.6 618.9C640.1 619.8 641.9 620.2 642.5 621.3C643.1 622.4 643.1 624.1 643 625.2C642.8 626.4 641.1 627.3 641.5 628.1C641.9 629 644.6 629.1 645.4 630.1C646.2 631.1 646.6 632.7 646.4 634C646.2 635.3 644.9 636.6 644 637.9C643 639.2 641.4 640.5 640.5 641.8C639.6 643.1 639.7 644.6 638.6 645.7C637.5 646.9 635.3 647.9 633.7 648.7C632.1 649.4 630.4 649.6 628.8 650.1C627.2 650.6 625.1 650.5 623.9 651.6C622.8 652.6 622.6 654.8 622 656.5C621.3 658.1 620.8 659.7 620 661.4C619.2 663 618.2 664.8 617.1 666.2C616 667.7 614.5 669.3 613.2 670.1C611.9 671 610.6 671.4 609.3 671.1C608 670.9 606.4 669.9 605.4 668.7C604.4 667.5 604.2 665.2 603.4 663.8C602.6 662.4 601.6 661.3 600.5 660.4C599.4 659.5 597.7 659.7 596.6 658.4C595.4 657.1 594.8 654.4 593.7 652.6C592.5 650.8 591.1 649.1 589.7 647.7C588.4 646.2 586.2 645.2 585.4 643.8C584.5 642.3 584.2 640.5 584.4 638.9C584.5 637.3 586.9 635 586.3 634C585.8 633 582.5 633.8 581 633C579.4 632.2 577.7 630.6 577.1 629.1C576.4 627.7 576.9 625.7 577.1 624.2C577.2 622.8 578.2 621.5 578 620.3C577.9 619.2 576.1 618.7 576.1 617.4C576.1 616.1 577.4 613.8 578 612.5C578.7 611.2 578.8 610.2 580 609.6C581.1 608.9 583.8 609.3 584.9 608.6C585.9 608 586.2 606.8 586.3 605.7C586.4 604.5 584.9 602.8 585.4 601.8Z"/><circle cx="586.4" cy="603.1" r="2.1"/><circle cx="589.9" cy="601.1" r="2.6"/><circle cx="593.5" cy="601.4" r="2"/><circle cx="597.2" cy="600" r="2"/><circle cx="601.2" cy="602.2" r="2.6"/><circle cx="603.1" cy="606.3" r="2.4"/><circle cx="606.7" cy="608.5" r="2.1"/><circle cx="612.1" cy="608.1" r="2.7"/><circle cx="617.7" cy="606.3" r="1.8"/><circle cx="621" cy="605.9" r="2"/><circle cx="624" cy="606.3" r="2.7"/><circle cx="628.5" cy="608.6" r="2.7"/><circle cx="630.1" cy="613.4" r="2.8"/><circle cx="634.4" cy="613.6" r="2.1"/><circle cx="637.5" cy="616.5" r="2.3"/><circle cx="637.7" cy="619.9" r="2.4"/><circle cx="640.7" cy="622.1" r="2.2"/><circle cx="641.1" cy="625.8" r="2.1"/><circle cx="639.3" cy="628.6" r="2.7"/><circle cx="642.9" cy="630.4" r="2.9"/><circle cx="644.4" cy="634" r="2.4"/><circle cx="642.4" cy="637.8" r="1.9"/><circle cx="638.5" cy="641.3" r="2.3"/><circle cx="637" cy="645.1" r="2"/><circle cx="632.2" cy="647.7" r="2.1"/><circle cx="627.2" cy="648.7" r="2.5"/><circle cx="622.9" cy="650.3" r="1.9"/><circle cx="621.2" cy="654.8" r="2.1"/><circle cx="619.5" cy="659.7" r="2"/><circle cx="616.8" cy="664.7" r="1.9"/><circle cx="613.1" cy="667.6" r="2.8"/><circle cx="609.4" cy="669" r="2.6"/><circle cx="605.7" cy="667" r="1.8"/><circle cx="604" cy="661.6" r="2.7"/><circle cx="601.4" cy="658.2" r="2.5"/><circle cx="597.5" cy="656.9" r="2.3"/><circle cx="596.6" cy="653.6" r="2.8"/><circle cx="594.8" cy="651.4" r="2"/><circle cx="593.1" cy="649" r="2.2"/><circle cx="591" cy="646.9" r="2"/><circle cx="587.3" cy="643.1" r="2.5"/><circle cx="586" cy="638.6" r="2"/><circle cx="588.4" cy="634.1" r="2.4"/><circle cx="582.8" cy="633.1" r="2.2"/><circle cx="579" cy="629.4" r="2.2"/><circle cx="578.6" cy="624.7" r="2"/><circle cx="579.6" cy="621" r="1.9"/><circle cx="577.4" cy="618.1" r="1.9"/><circle cx="579.8" cy="613.7" r="2.4"/><circle cx="581.2" cy="610.6" r="1.8"/><circle cx="586.3" cy="610" r="2.2"/><circle cx="587.2" cy="606.7" r="1.8"/></g>
<g fill="#7E7E7E"><ellipse cx="601.1" cy="616.1" rx="3.9" ry="2.8" transform="rotate(63.1 601.1 616.1)"/><ellipse cx="629.4" cy="642" rx="3" ry="3.8" transform="rotate(34.3 629.4 642)"/><ellipse cx="615.1" cy="622.6" rx="3.9" ry="3.2" transform="rotate(24.7 615.1 622.6)"/><ellipse cx="591.4" cy="620.4" rx="4.2" ry="2.5" transform="rotate(23.1 591.4 620.4)"/><ellipse cx="607.2" cy="662.1" rx="6.2" ry="2.5" transform="rotate(96.3 607.2 662.1)"/><ellipse cx="632.6" cy="621.8" rx="5.9" ry="3.4" transform="rotate(22.6 632.6 621.8)"/><ellipse cx="612.6" cy="665.3" rx="4.4" ry="3.4" transform="rotate(111.7 612.6 665.3)"/><ellipse cx="633" cy="629.2" rx="5" ry="3.9" transform="rotate(128.9 633 629.2)"/><ellipse cx="609.2" cy="617.8" rx="5.5" ry="3.2" transform="rotate(0.7 609.2 617.8)"/><ellipse cx="629.7" cy="633.6" rx="3.8" ry="3.2" transform="rotate(162.4 629.7 633.6)"/><ellipse cx="589.7" cy="625.7" rx="4.5" ry="2.7" transform="rotate(103.1 589.7 625.7)"/><ellipse cx="611" cy="636.3" rx="5.7" ry="2.8" transform="rotate(134.2 611 636.3)"/><ellipse cx="610.3" cy="642.6" rx="3.8" ry="3.4" transform="rotate(1.7 610.3 642.6)"/><ellipse cx="629.5" cy="623.1" rx="3.7" ry="2.5" transform="rotate(126.1 629.5 623.1)"/><ellipse cx="619" cy="635.6" rx="5.5" ry="4" transform="rotate(68.6 619 635.6)"/><ellipse cx="611.2" cy="640" rx="4.3" ry="4.1" transform="rotate(80 611.2 640)"/><ellipse cx="599.9" cy="647.3" rx="5.9" ry="3.6" transform="rotate(67.6 599.9 647.3)"/><ellipse cx="609.7" cy="628.5" rx="5.6" ry="3.8" transform="rotate(177.5 609.7 628.5)"/><ellipse cx="604.9" cy="639.4" rx="5.4" ry="2.5" transform="rotate(38.8 604.9 639.4)"/><ellipse cx="598.9" cy="620.2" rx="6.1" ry="2.8" transform="rotate(168 598.9 620.2)"/><ellipse cx="603.3" cy="613.8" rx="3.5" ry="2.4" transform="rotate(125.7 603.3 613.8)"/><ellipse cx="592.4" cy="639.5" rx="5.8" ry="3.6" transform="rotate(127.6 592.4 639.5)"/><ellipse cx="593.3" cy="618.8" rx="4.9" ry="3.4" transform="rotate(163.2 593.3 618.8)"/><ellipse cx="632.9" cy="614.3" rx="4" ry="2.6" transform="rotate(79.5 632.9 614.3)"/><ellipse cx="625.6" cy="640.2" rx="4.3" ry="3.7" transform="rotate(42 625.6 640.2)"/><ellipse cx="633.6" cy="630.9" rx="4.3" ry="2.7" transform="rotate(0.2 633.6 630.9)"/><ellipse cx="618.2" cy="654.4" rx="4.6" ry="3.4" transform="rotate(147.1 618.2 654.4)"/><ellipse cx="631.6" cy="623.1" rx="4.4" ry="2.9" transform="rotate(100 631.6 623.1)"/><ellipse cx="634.7" cy="641.6" rx="4.8" ry="3.8" transform="rotate(79.3 634.7 641.6)"/><ellipse cx="615.3" cy="638.8" rx="3.6" ry="2.8" transform="rotate(78.2 615.3 638.8)"/><ellipse cx="600.7" cy="652.2" rx="4.5" ry="3.9" transform="rotate(28.8 600.7 652.2)"/><ellipse cx="606.4" cy="639.7" rx="3.2" ry="3.1" transform="rotate(144.5 606.4 639.7)"/><ellipse cx="615.7" cy="629.1" rx="3.1" ry="3.7" transform="rotate(80.3 615.7 629.1)"/><ellipse cx="619.1" cy="627.6" rx="5.8" ry="2.6" transform="rotate(172.6 619.1 627.6)"/><ellipse cx="607.6" cy="666.5" rx="4.6" ry="3.3" transform="rotate(10.8 607.6 666.5)"/><ellipse cx="621" cy="615.8" rx="3.4" ry="3.2" transform="rotate(168.3 621 615.8)"/><ellipse cx="615.8" cy="619.8" rx="5.2" ry="4.1" transform="rotate(119.9 615.8 619.8)"/><ellipse cx="618.5" cy="616.4" rx="4.5" ry="2.6" transform="rotate(129.7 618.5 616.4)"/><ellipse cx="613.1" cy="611.4" rx="4.8" ry="2.5" transform="rotate(4.9 613.1 611.4)"/><ellipse cx="593" cy="636.4" rx="5.5" ry="3.7" transform="rotate(102.9 593 636.4)"/><ellipse cx="626.8" cy="635.6" rx="3.5" ry="3.5" transform="rotate(44.2 626.8 635.6)"/><ellipse cx="607.8" cy="653" rx="3.3" ry="3.2" transform="rotate(42.3 607.8 653)"/><ellipse cx="633.4" cy="617.6" rx="5.3" ry="3.2" transform="rotate(39.2 633.4 617.6)"/><ellipse cx="613.9" cy="657.1" rx="4.9" ry="2.4" transform="rotate(140.7 613.9 657.1)"/><ellipse cx="605.8" cy="615.9" rx="4.4" ry="3.6" transform="rotate(48.8 605.8 615.9)"/><ellipse cx="637.9" cy="630.5" rx="3.2" ry="4" transform="rotate(19.7 637.9 630.5)"/><ellipse cx="619.6" cy="646.7" rx="5.9" ry="2.7" transform="rotate(102.5 619.6 646.7)"/><ellipse cx="609" cy="650.4" rx="4.5" ry="3.7" transform="rotate(172.4 609 650.4)"/><ellipse cx="627.9" cy="623.4" rx="5.8" ry="3.8" transform="rotate(154.4 627.9 623.4)"/><ellipse cx="587" cy="640.1" rx="3.2" ry="3.4" transform="rotate(123.7 587 640.1)"/><ellipse cx="633.2" cy="628.7" rx="3.6" ry="2.7" transform="rotate(104.1 633.2 628.7)"/><ellipse cx="619.1" cy="613.6" rx="3.4" ry="3.5" transform="rotate(121.6 619.1 613.6)"/><ellipse cx="635.3" cy="644.3" rx="3" ry="3.7" transform="rotate(34.3 635.3 644.3)"/><ellipse cx="627.5" cy="615.9" rx="3.3" ry="4" transform="rotate(79.6 627.5 615.9)"/><ellipse cx="605.9" cy="645.6" rx="5.8" ry="2.6" transform="rotate(160.9 605.9 645.6)"/><ellipse cx="590.6" cy="622.6" rx="3.5" ry="2.6" transform="rotate(118 590.6 622.6)"/><ellipse cx="589.4" cy="635.8" rx="3.4" ry="3.6" transform="rotate(173.6 589.4 635.8)"/><ellipse cx="605.7" cy="627.4" rx="4.2" ry="3.1" transform="rotate(32.1 605.7 627.4)"/><ellipse cx="624.6" cy="633.3" rx="3.2" ry="2.7" transform="rotate(151.4 624.6 633.3)"/><ellipse cx="634.5" cy="643.3" rx="5" ry="3" transform="rotate(104.3 634.5 643.3)"/><ellipse cx="612.4" cy="667.1" rx="3.3" ry="2.8" transform="rotate(162.6 612.4 667.1)"/><ellipse cx="603.9" cy="634" rx="4.7" ry="2.8" transform="rotate(101.9 603.9 634)"/><ellipse cx="607.6" cy="630.3" rx="4.2" ry="2.7" transform="rotate(51.2 607.6 630.3)"/><ellipse cx="596.3" cy="622.9" rx="5.8" ry="2.9" transform="rotate(32.9 596.3 622.9)"/><ellipse cx="608.8" cy="623.9" rx="4.3" ry="2.4" transform="rotate(46.8 608.8 623.9)"/><ellipse cx="599.4" cy="637.8" rx="4.4" ry="2.5" transform="rotate(76.1 599.4 637.8)"/><ellipse cx="604.1" cy="655.5" rx="4.4" ry="2.9" transform="rotate(161.2 604.1 655.5)"/><ellipse cx="609.8" cy="642.2" rx="4.5" ry="3.9" transform="rotate(131.7 609.8 642.2)"/><ellipse cx="601.8" cy="654.5" rx="5.7" ry="3.5" transform="rotate(157.1 601.8 654.5)"/><ellipse cx="605.3" cy="621.4" rx="3.9" ry="2.7" transform="rotate(166.2 605.3 621.4)"/><ellipse cx="596.7" cy="629.4" rx="6" ry="3.1" transform="rotate(116.9 596.7 629.4)"/><ellipse cx="609.8" cy="635.2" rx="5.9" ry="4.1" transform="rotate(135.4 609.8 635.2)"/><ellipse cx="590.8" cy="638.6" rx="3.1" ry="3.2" transform="rotate(173.6 590.8 638.6)"/><ellipse cx="640.4" cy="635.2" rx="3.9" ry="2.9" transform="rotate(132 640.4 635.2)"/><ellipse cx="607.5" cy="648.6" rx="3.3" ry="3.1" transform="rotate(158.1 607.5 648.6)"/><ellipse cx="610.2" cy="655.3" rx="5.8" ry="3.3" transform="rotate(25.7 610.2 655.3)"/><ellipse cx="623.3" cy="623.2" rx="4.7" ry="2.5" transform="rotate(170.6 623.3 623.2)"/><ellipse cx="620.7" cy="643.6" rx="4.1" ry="2.8" transform="rotate(101.1 620.7 643.6)"/><ellipse cx="643.4" cy="632.5" rx="3.8" ry="2.6" transform="rotate(111.8 643.4 632.5)"/><ellipse cx="599.1" cy="636.1" rx="3.6" ry="3.1" transform="rotate(62.8 599.1 636.1)"/><ellipse cx="612.1" cy="624.9" rx="3.7" ry="3.4" transform="rotate(133.9 612.1 624.9)"/><ellipse cx="605.1" cy="629.5" rx="3.8" ry="3.9" transform="rotate(124.2 605.1 629.5)"/><ellipse cx="607.2" cy="646.6" rx="3.9" ry="3.6" transform="rotate(10.9 607.2 646.6)"/><ellipse cx="612" cy="646.7" rx="5.1" ry="3.6" transform="rotate(81.3 612 646.7)"/><ellipse cx="630.6" cy="645.7" rx="5.4" ry="3" transform="rotate(31.8 630.6 645.7)"/><ellipse cx="609" cy="645.6" rx="5.8" ry="3.1" transform="rotate(67.3 609 645.6)"/><ellipse cx="638.2" cy="639.6" rx="4.9" ry="4" transform="rotate(165.7 638.2 639.6)"/><ellipse cx="614.9" cy="634.7" rx="6.1" ry="2.8" transform="rotate(8 614.9 634.7)"/><ellipse cx="608.2" cy="631.7" rx="4.4" ry="2.9" transform="rotate(5.3 608.2 631.7)"/><ellipse cx="591.3" cy="634.7" rx="6.2" ry="4.2" transform="rotate(55.5 591.3 634.7)"/><ellipse cx="615.6" cy="634.7" rx="4" ry="3.2" transform="rotate(19.8 615.6 634.7)"/><ellipse cx="593.6" cy="647.4" rx="3.4" ry="4" transform="rotate(5.1 593.6 647.4)"/><ellipse cx="613.5" cy="664.4" rx="5.8" ry="2.4" transform="rotate(9.1 613.5 664.4)"/><ellipse cx="637.3" cy="631.2" rx="5.2" ry="4.1" transform="rotate(115 637.3 631.2)"/><ellipse cx="616.8" cy="618.2" rx="4.8" ry="2.4" transform="rotate(45.5 616.8 618.2)"/><circle cx="603.1" cy="606.3" r="1.9"/><circle cx="606.7" cy="608.5" r="1.7"/><circle cx="612.1" cy="608.1" r="2.3"/><circle cx="617.7" cy="606.3" r="1.4"/><circle cx="621" cy="605.9" r="1.5"/><circle cx="628.5" cy="608.6" r="2.3"/><circle cx="630.1" cy="613.4" r="2.4"/><circle cx="634.4" cy="613.6" r="1.6"/><circle cx="637.5" cy="616.5" r="1.9"/><circle cx="637.7" cy="619.9" r="2"/><circle cx="640.7" cy="622.1" r="1.8"/><circle cx="641.1" cy="625.8" r="1.7"/><circle cx="639.3" cy="628.6" r="2.3"/><circle cx="642.9" cy="630.4" r="2.4"/><circle cx="644.4" cy="634" r="2"/><circle cx="642.4" cy="637.8" r="1.5"/><circle cx="638.5" cy="641.3" r="1.8"/><circle cx="637" cy="645.1" r="1.6"/><circle cx="632.2" cy="647.7" r="1.6"/><circle cx="627.2" cy="648.7" r="2"/><circle cx="622.9" cy="650.3" r="1.5"/><circle cx="621.2" cy="654.8" r="1.6"/><circle cx="619.5" cy="659.7" r="1.6"/><circle cx="616.8" cy="664.7" r="1.4"/><circle cx="613.1" cy="667.6" r="2.4"/><circle cx="609.4" cy="669" r="2.1"/><circle cx="605.7" cy="667" r="1.4"/><circle cx="604" cy="661.6" r="2.2"/><circle cx="601.4" cy="658.2" r="2.1"/><circle cx="597.5" cy="656.9" r="1.8"/><circle cx="596.6" cy="653.6" r="2.3"/><circle cx="594.8" cy="651.4" r="1.6"/><circle cx="593.1" cy="649" r="1.8"/><circle cx="591" cy="646.9" r="1.5"/><circle cx="587.3" cy="643.1" r="2"/><circle cx="588.4" cy="634.1" r="2"/><circle cx="582.8" cy="633.1" r="1.7"/><circle cx="579" cy="629.4" r="1.7"/><circle cx="579.8" cy="613.7" r="2"/></g>
<g fill="#B8527A" stroke="#B8527A" stroke-width="1.2" stroke-linejoin="round"><path d="M1527.3 593.4C1528.8 593.2 1533.1 594.7 1533.9 596.5C1534.7 598.2 1531.4 601.5 1532.1 603.7C1532.8 605.9 1536.2 607.9 1538.2 609.7C1540.2 611.5 1542.2 613.7 1544.2 614.5C1546.2 615.3 1548.4 613.3 1550.2 614.5C1552 615.7 1554.3 619.1 1555 621.7C1555.7 624.3 1553.8 627.3 1554.4 630.1C1555 632.9 1556.9 636.5 1558.6 638.5C1560.3 640.5 1563.3 640.5 1564.6 642.1C1565.9 643.7 1566.8 646.2 1566.4 648.2C1566 650.2 1564.1 652.4 1562.2 654.2C1560.3 656 1557.2 657.4 1555 659C1552.8 660.6 1550.8 661.8 1549 663.8C1547.2 665.8 1546.4 669.4 1544.2 671C1542 672.6 1538.4 673.8 1535.8 673.6C1533.1 673.4 1530.7 671.8 1528.5 669.8C1526.3 667.8 1524.5 663.1 1522.5 661.4C1520.5 659.7 1518.5 660.8 1516.5 659.6C1514.5 658.4 1512.7 656.1 1510.5 654.2C1508.3 652.3 1505.7 650.2 1503.3 648.2C1500.9 646.2 1498.1 644.5 1496.1 642.1C1494.1 639.7 1492.5 635.9 1491.3 633.7C1490.1 631.5 1490.3 630 1488.9 628.9C1487.5 627.8 1483.4 628.3 1482.8 627.1C1482.2 625.9 1484.2 623.6 1485.3 621.7C1486.3 619.8 1488 617.7 1488.9 615.7C1489.8 613.7 1489.5 611 1490.7 609.7C1491.9 608.4 1494 607.9 1496.1 607.9C1498.2 607.9 1501.3 610.2 1503.3 609.7C1505.3 609.2 1506.3 606 1508.1 604.9C1509.9 603.8 1512.1 604.1 1514.1 603.1C1516.1 602.1 1518.3 599.8 1520.1 598.9C1521.9 598 1523.7 598.6 1524.9 597.7C1526.1 596.8 1525.8 593.6 1527.3 593.4Z"/><circle cx="1527.2" cy="595" r="1.9"/><circle cx="1530.3" cy="597" r="2.5"/><circle cx="1533.5" cy="598.3" r="2.1"/><circle cx="1532.5" cy="602.2" r="2.6"/><circle cx="1531.7" cy="605.4" r="2.1"/><circle cx="1534.5" cy="608.4" r="2.2"/><circle cx="1537.3" cy="611.2" r="1.9"/><circle cx="1539.6" cy="614.1" r="2.8"/><circle cx="1543" cy="615.7" r="2.1"/><circle cx="1545.4" cy="616" r="2.5"/><circle cx="1548.5" cy="615.7" r="2.4"/><circle cx="1551.2" cy="618.9" r="2"/><circle cx="1553.4" cy="622.3" r="1.9"/><circle cx="1553" cy="626.3" r="1.9"/><circle cx="1551.8" cy="630.4" r="2.9"/><circle cx="1553.2" cy="633" r="2.9"/><circle cx="1555.2" cy="635.6" r="2.5"/><circle cx="1556.2" cy="638.2" r="2.6"/><circle cx="1559.5" cy="640" r="2.4"/><circle cx="1562.8" cy="641.8" r="2"/><circle cx="1563.1" cy="644.5" r="2.8"/><circle cx="1564.8" cy="647.6" r="2"/><circle cx="1562.8" cy="650.5" r="2"/><circle cx="1560.3" cy="653.1" r="2.4"/><circle cx="1556.5" cy="655.1" r="2.7"/><circle cx="1553.5" cy="657.7" r="2.1"/><circle cx="1550.3" cy="659.6" r="2.6"/><circle cx="1547.6" cy="662" r="2.4"/><circle cx="1545.5" cy="665.8" r="2.3"/><circle cx="1543.2" cy="669.1" r="2.4"/><circle cx="1539.2" cy="670.4" r="2.3"/><circle cx="1535.1" cy="671.4" r="2.5"/><circle cx="1531.7" cy="669.6" r="2.3"/><circle cx="1528.3" cy="667.5" r="2.8"/><circle cx="1526.4" cy="665.3" r="1.9"/><circle cx="1524.5" cy="661.9" r="2.6"/><circle cx="1522.6" cy="659.9" r="1.8"/><circle cx="1520" cy="658" r="2.8"/><circle cx="1517.1" cy="657.8" r="2.2"/><circle cx="1514.6" cy="654.5" r="2.8"/><circle cx="1511.6" cy="652.6" r="2.1"/><circle cx="1509.6" cy="650.5" r="2.5"/><circle cx="1507.1" cy="649" r="2.1"/><circle cx="1504.6" cy="647.2" r="1.8"/><circle cx="1503.1" cy="645" r="2.9"/><circle cx="1500" cy="643.5" r="2.1"/><circle cx="1498" cy="641.6" r="2.2"/><circle cx="1496.1" cy="639" r="1.8"/><circle cx="1494.7" cy="636.4" r="2"/><circle cx="1493.8" cy="633.7" r="2.8"/><circle cx="1490.6" cy="629.1" r="2.1"/><circle cx="1488.4" cy="628.4" r="2.8"/><circle cx="1485.2" cy="627.5" r="2.6"/><circle cx="1487.2" cy="622.3" r="2.4"/><circle cx="1489.3" cy="619.6" r="2.8"/><circle cx="1490.6" cy="616.5" r="2.4"/><circle cx="1491.4" cy="613.7" r="2.2"/><circle cx="1492.7" cy="611.1" r="2.9"/><circle cx="1497.9" cy="609.5" r="2.7"/><circle cx="1501.4" cy="610.5" r="2.8"/><circle cx="1504.4" cy="610.9" r="2.1"/><circle cx="1506.9" cy="609" r="2.3"/><circle cx="1509.1" cy="606.6" r="2.1"/><circle cx="1511.8" cy="605.5" r="2"/><circle cx="1514.7" cy="604.7" r="2"/><circle cx="1517.6" cy="602.9" r="2.3"/><circle cx="1520.4" cy="600.6" r="2.2"/><circle cx="1524.9" cy="599.5" r="2.1"/></g>
<g fill="#D9739A"><path d="M1527.3 593.4C1528.8 593.2 1533.1 594.7 1533.9 596.5C1534.7 598.2 1531.4 601.5 1532.1 603.7C1532.8 605.9 1536.2 607.9 1538.2 609.7C1540.2 611.5 1542.2 613.7 1544.2 614.5C1546.2 615.3 1548.4 613.3 1550.2 614.5C1552 615.7 1554.3 619.1 1555 621.7C1555.7 624.3 1553.8 627.3 1554.4 630.1C1555 632.9 1556.9 636.5 1558.6 638.5C1560.3 640.5 1563.3 640.5 1564.6 642.1C1565.9 643.7 1566.8 646.2 1566.4 648.2C1566 650.2 1564.1 652.4 1562.2 654.2C1560.3 656 1557.2 657.4 1555 659C1552.8 660.6 1550.8 661.8 1549 663.8C1547.2 665.8 1546.4 669.4 1544.2 671C1542 672.6 1538.4 673.8 1535.8 673.6C1533.1 673.4 1530.7 671.8 1528.5 669.8C1526.3 667.8 1524.5 663.1 1522.5 661.4C1520.5 659.7 1518.5 660.8 1516.5 659.6C1514.5 658.4 1512.7 656.1 1510.5 654.2C1508.3 652.3 1505.7 650.2 1503.3 648.2C1500.9 646.2 1498.1 644.5 1496.1 642.1C1494.1 639.7 1492.5 635.9 1491.3 633.7C1490.1 631.5 1490.3 630 1488.9 628.9C1487.5 627.8 1483.4 628.3 1482.8 627.1C1482.2 625.9 1484.2 623.6 1485.3 621.7C1486.3 619.8 1488 617.7 1488.9 615.7C1489.8 613.7 1489.5 611 1490.7 609.7C1491.9 608.4 1494 607.9 1496.1 607.9C1498.2 607.9 1501.3 610.2 1503.3 609.7C1505.3 609.2 1506.3 606 1508.1 604.9C1509.9 603.8 1512.1 604.1 1514.1 603.1C1516.1 602.1 1518.3 599.8 1520.1 598.9C1521.9 598 1523.7 598.6 1524.9 597.7C1526.1 596.8 1525.8 593.6 1527.3 593.4Z"/><circle cx="1527.2" cy="595" r="1.9"/><circle cx="1530.3" cy="597" r="2.5"/><circle cx="1533.5" cy="598.3" r="2.1"/><circle cx="1532.5" cy="602.2" r="2.6"/><circle cx="1531.7" cy="605.4" r="2.1"/><circle cx="1534.5" cy="608.4" r="2.2"/><circle cx="1537.3" cy="611.2" r="1.9"/><circle cx="1539.6" cy="614.1" r="2.8"/><circle cx="1543" cy="615.7" r="2.1"/><circle cx="1545.4" cy="616" r="2.5"/><circle cx="1548.5" cy="615.7" r="2.4"/><circle cx="1551.2" cy="618.9" r="2"/><circle cx="1553.4" cy="622.3" r="1.9"/><circle cx="1553" cy="626.3" r="1.9"/><circle cx="1551.8" cy="630.4" r="2.9"/><circle cx="1553.2" cy="633" r="2.9"/><circle cx="1555.2" cy="635.6" r="2.5"/><circle cx="1556.2" cy="638.2" r="2.6"/><circle cx="1559.5" cy="640" r="2.4"/><circle cx="1562.8" cy="641.8" r="2"/><circle cx="1563.1" cy="644.5" r="2.8"/><circle cx="1564.8" cy="647.6" r="2"/><circle cx="1562.8" cy="650.5" r="2"/><circle cx="1560.3" cy="653.1" r="2.4"/><circle cx="1556.5" cy="655.1" r="2.7"/><circle cx="1553.5" cy="657.7" r="2.1"/><circle cx="1550.3" cy="659.6" r="2.6"/><circle cx="1547.6" cy="662" r="2.4"/><circle cx="1545.5" cy="665.8" r="2.3"/><circle cx="1543.2" cy="669.1" r="2.4"/><circle cx="1539.2" cy="670.4" r="2.3"/><circle cx="1535.1" cy="671.4" r="2.5"/><circle cx="1531.7" cy="669.6" r="2.3"/><circle cx="1528.3" cy="667.5" r="2.8"/><circle cx="1526.4" cy="665.3" r="1.9"/><circle cx="1524.5" cy="661.9" r="2.6"/><circle cx="1522.6" cy="659.9" r="1.8"/><circle cx="1520" cy="658" r="2.8"/><circle cx="1517.1" cy="657.8" r="2.2"/><circle cx="1514.6" cy="654.5" r="2.8"/><circle cx="1511.6" cy="652.6" r="2.1"/><circle cx="1509.6" cy="650.5" r="2.5"/><circle cx="1507.1" cy="649" r="2.1"/><circle cx="1504.6" cy="647.2" r="1.8"/><circle cx="1503.1" cy="645" r="2.9"/><circle cx="1500" cy="643.5" r="2.1"/><circle cx="1498" cy="641.6" r="2.2"/><circle cx="1496.1" cy="639" r="1.8"/><circle cx="1494.7" cy="636.4" r="2"/><circle cx="1493.8" cy="633.7" r="2.8"/><circle cx="1490.6" cy="629.1" r="2.1"/><circle cx="1488.4" cy="628.4" r="2.8"/><circle cx="1485.2" cy="627.5" r="2.6"/><circle cx="1487.2" cy="622.3" r="2.4"/><circle cx="1489.3" cy="619.6" r="2.8"/><circle cx="1490.6" cy="616.5" r="2.4"/><circle cx="1491.4" cy="613.7" r="2.2"/><circle cx="1492.7" cy="611.1" r="2.9"/><circle cx="1497.9" cy="609.5" r="2.7"/><circle cx="1501.4" cy="610.5" r="2.8"/><circle cx="1504.4" cy="610.9" r="2.1"/><circle cx="1506.9" cy="609" r="2.3"/><circle cx="1509.1" cy="606.6" r="2.1"/><circle cx="1511.8" cy="605.5" r="2"/><circle cx="1514.7" cy="604.7" r="2"/><circle cx="1517.6" cy="602.9" r="2.3"/><circle cx="1520.4" cy="600.6" r="2.2"/><circle cx="1524.9" cy="599.5" r="2.1"/></g>
<g fill="#DB86A6"><ellipse cx="1518.4" cy="603.8" rx="3.7" ry="2.7" transform="rotate(130.6 1518.4 603.8)"/><ellipse cx="1560.8" cy="646.1" rx="4.8" ry="2.5" transform="rotate(73.2 1560.8 646.1)"/><ellipse cx="1514.5" cy="640.7" rx="3" ry="3.2" transform="rotate(141.2 1514.5 640.7)"/><ellipse cx="1527" cy="617.2" rx="6.1" ry="2.8" transform="rotate(122.6 1527 617.2)"/><ellipse cx="1517.8" cy="609.5" rx="3.1" ry="4" transform="rotate(85.7 1517.8 609.5)"/><ellipse cx="1526.3" cy="603.1" rx="3.7" ry="2.8" transform="rotate(45.9 1526.3 603.1)"/><ellipse cx="1555.3" cy="638.2" rx="3.1" ry="3.6" transform="rotate(123.5 1555.3 638.2)"/><ellipse cx="1547.6" cy="627.4" rx="3.7" ry="3.7" transform="rotate(112.5 1547.6 627.4)"/><ellipse cx="1498.2" cy="623.3" rx="5.2" ry="3.1" transform="rotate(108.4 1498.2 623.3)"/><ellipse cx="1545.9" cy="621.4" rx="4.6" ry="3.9" transform="rotate(55.9 1545.9 621.4)"/><ellipse cx="1495.7" cy="635.2" rx="5.2" ry="3.3" transform="rotate(114.3 1495.7 635.2)"/><ellipse cx="1508.7" cy="625.7" rx="4.5" ry="3.5" transform="rotate(63.1 1508.7 625.7)"/><ellipse cx="1554.2" cy="638" rx="4.1" ry="3.9" transform="rotate(179.8 1554.2 638)"/><ellipse cx="1501.8" cy="624.6" rx="4.9" ry="2.6" transform="rotate(139.5 1501.8 624.6)"/><ellipse cx="1547.2" cy="654.7" rx="3.2" ry="3.9" transform="rotate(147.8 1547.2 654.7)"/><ellipse cx="1532.3" cy="609.9" rx="4.7" ry="3.8" transform="rotate(67.8 1532.3 609.9)"/><ellipse cx="1505.7" cy="629.9" rx="6.1" ry="3.8" transform="rotate(113.9 1505.7 629.9)"/><ellipse cx="1488" cy="623.6" rx="3.8" ry="2.6" transform="rotate(92.1 1488 623.6)"/><ellipse cx="1518.5" cy="607.8" rx="6.1" ry="3.2" transform="rotate(61.7 1518.5 607.8)"/><ellipse cx="1541.1" cy="617.6" rx="3.8" ry="2.9" transform="rotate(30.6 1541.1 617.6)"/><ellipse cx="1492.8" cy="612.9" rx="5" ry="2.8" transform="rotate(38.5 1492.8 612.9)"/><ellipse cx="1544.7" cy="646.3" rx="4" ry="4" transform="rotate(100.7 1544.7 646.3)"/><ellipse cx="1542.3" cy="644.8" rx="6.1" ry="4.1" transform="rotate(168.4 1542.3 644.8)"/><ellipse cx="1510" cy="627.5" rx="3.9" ry="3" transform="rotate(96.7 1510 627.5)"/><ellipse cx="1519.5" cy="629.1" rx="6" ry="3.1" transform="rotate(69.2 1519.5 629.1)"/><ellipse cx="1506.8" cy="634.3" rx="4.8" ry="3.8" transform="rotate(133.2 1506.8 634.3)"/><ellipse cx="1545.4" cy="624.5" rx="4.2" ry="2.4" transform="rotate(131.4 1545.4 624.5)"/><ellipse cx="1524.1" cy="651.7" rx="5.7" ry="4.1" transform="rotate(119.4 1524.1 651.7)"/><ellipse cx="1553.5" cy="641.1" rx="5.8" ry="2.7" transform="rotate(7.1 1553.5 641.1)"/><ellipse cx="1510" cy="634.2" rx="3.7" ry="4" transform="rotate(19.2 1510 634.2)"/><ellipse cx="1501.4" cy="626.2" rx="5.8" ry="3" transform="rotate(102.6 1501.4 626.2)"/><ellipse cx="1518.7" cy="643.2" rx="3" ry="3.6" transform="rotate(18.5 1518.7 643.2)"/><ellipse cx="1505.6" cy="631.8" rx="3.1" ry="3.6" transform="rotate(60.3 1505.6 631.8)"/><ellipse cx="1549.1" cy="635.6" rx="4" ry="4.1" transform="rotate(168.8 1549.1 635.6)"/><ellipse cx="1546.5" cy="642" rx="4.2" ry="3.1" transform="rotate(23.5 1546.5 642)"/><ellipse cx="1527.8" cy="623.7" rx="5.7" ry="2.9" transform="rotate(157 1527.8 623.7)"/><ellipse cx="1535.3" cy="641.1" rx="5" ry="4" transform="rotate(179.2 1535.3 641.1)"/><ellipse cx="1523.5" cy="630.1" rx="5.4" ry="2.9" transform="rotate(52.5 1523.5 630.1)"/><ellipse cx="1528.8" cy="604" rx="4.8" ry="3.9" transform="rotate(123.8 1528.8 604)"/><ellipse cx="1523" cy="601" rx="4.5" ry="3.8" transform="rotate(0.1 1523 601)"/><ellipse cx="1509.5" cy="648.1" rx="3.5" ry="2.9" transform="rotate(111.1 1509.5 648.1)"/><ellipse cx="1540.1" cy="636.1" rx="3.9" ry="3.1" transform="rotate(147.9 1540.1 636.1)"/><ellipse cx="1528.6" cy="631.8" rx="3.4" ry="3.1" transform="rotate(30.7 1528.6 631.8)"/><ellipse cx="1549.7" cy="622.2" rx="5.3" ry="3.2" transform="rotate(133.8 1549.7 622.2)"/><ellipse cx="1517" cy="623.9" rx="5.1" ry="3.4" transform="rotate(49.5 1517 623.9)"/><ellipse cx="1531.1" cy="660.5" rx="5.7" ry="2.6" transform="rotate(166.3 1531.1 660.5)"/><ellipse cx="1500.9" cy="631.5" rx="4" ry="4.1" transform="rotate(102.3 1500.9 631.5)"/><ellipse cx="1520.3" cy="602.7" rx="3.3" ry="2.8" transform="rotate(132.6 1520.3 602.7)"/><ellipse cx="1523" cy="620.8" rx="3.4" ry="3.1" transform="rotate(88.3 1523 620.8)"/><ellipse cx="1548" cy="628.3" rx="3.9" ry="2.8" transform="rotate(63.4 1548 628.3)"/><ellipse cx="1498.8" cy="625.3" rx="4.8" ry="2.5" transform="rotate(3.9 1498.8 625.3)"/><ellipse cx="1538.9" cy="631" rx="6.2" ry="3.3" transform="rotate(170.1 1538.9 631)"/><ellipse cx="1521.8" cy="614.4" rx="3.5" ry="2.9" transform="rotate(19.3 1521.8 614.4)"/><ellipse cx="1545" cy="627.9" rx="3.3" ry="4.1" transform="rotate(146.1 1545 627.9)"/><ellipse cx="1534.3" cy="650.5" rx="4.9" ry="3.2" transform="rotate(148.5 1534.3 650.5)"/><ellipse cx="1529.8" cy="612.1" rx="3.4" ry="2.5" transform="rotate(159.4 1529.8 612.1)"/><ellipse cx="1516.7" cy="633.9" rx="5.5" ry="2.6" transform="rotate(10.5 1516.7 633.9)"/><ellipse cx="1525.9" cy="609.6" rx="4" ry="2.9" transform="rotate(81.4 1525.9 609.6)"/><ellipse cx="1522.2" cy="640.8" rx="4.5" ry="4.2" transform="rotate(107.6 1522.2 640.8)"/><ellipse cx="1515.9" cy="606.1" rx="5.9" ry="2.8" transform="rotate(119.4 1515.9 606.1)"/><ellipse cx="1519.4" cy="636.6" rx="3.8" ry="3.6" transform="rotate(108 1519.4 636.6)"/><ellipse cx="1526.3" cy="637.2" rx="4.6" ry="3.1" transform="rotate(105.3 1526.3 637.2)"/><ellipse cx="1549.4" cy="621" rx="4.5" ry="2.4" transform="rotate(134.3 1549.4 621)"/><ellipse cx="1527.5" cy="617.5" rx="4.6" ry="3.3" transform="rotate(176.2 1527.5 617.5)"/><ellipse cx="1509.5" cy="608.1" rx="4.2" ry="4" transform="rotate(142.5 1509.5 608.1)"/><ellipse cx="1539.7" cy="617" rx="4.5" ry="2.6" transform="rotate(44.3 1539.7 617)"/><ellipse cx="1522.2" cy="613.6" rx="4.6" ry="3.4" transform="rotate(68.4 1522.2 613.6)"/><ellipse cx="1508.4" cy="639.3" rx="6" ry="4" transform="rotate(136.9 1508.4 639.3)"/><ellipse cx="1545.8" cy="618" rx="3.1" ry="3.5" transform="rotate(39.1 1545.8 618)"/><ellipse cx="1502.3" cy="634.9" rx="5.6" ry="3.6" transform="rotate(68.5 1502.3 634.9)"/><ellipse cx="1492.5" cy="624.6" rx="3.3" ry="3" transform="rotate(71.9 1492.5 624.6)"/><ellipse cx="1504.5" cy="638.1" rx="3.6" ry="3.7" transform="rotate(15.3 1504.5 638.1)"/><ellipse cx="1519.5" cy="634.5" rx="3.7" ry="3.6" transform="rotate(172.6 1519.5 634.5)"/><ellipse cx="1521.9" cy="610.5" rx="5.2" ry="3.1" transform="rotate(174.2 1521.9 610.5)"/><ellipse cx="1526.7" cy="603.7" rx="3.3" ry="4.1" transform="rotate(159.5 1526.7 603.7)"/><ellipse cx="1524.8" cy="647.3" rx="3.7" ry="2.7" transform="rotate(39.2 1524.8 647.3)"/><ellipse cx="1516.1" cy="633.8" rx="3.9" ry="3" transform="rotate(143.9 1516.1 633.8)"/><ellipse cx="1503.9" cy="638.7" rx="3.3" ry="3.5" transform="rotate(111.8 1503.9 638.7)"/><ellipse cx="1519.8" cy="607.5" rx="4.5" ry="4.2" transform="rotate(47.5 1519.8 607.5)"/><ellipse cx="1525.8" cy="637.7" rx="4.6" ry="3.7" transform="rotate(163.9 1525.8 637.7)"/><ellipse cx="1530.1" cy="630.4" rx="5.7" ry="3.6" transform="rotate(178.4 1530.1 630.4)"/><ellipse cx="1546.3" cy="620.6" rx="5.7" ry="2.6" transform="rotate(132.8 1546.3 620.6)"/><ellipse cx="1511.9" cy="621.7" rx="4.4" ry="3.2" transform="rotate(34.6 1511.9 621.7)"/><ellipse cx="1512.8" cy="627.8" rx="5.1" ry="3.7" transform="rotate(126.1 1512.8 627.8)"/><ellipse cx="1555.4" cy="653.2" rx="4.4" ry="4" transform="rotate(158.5 1555.4 653.2)"/><ellipse cx="1527.6" cy="622.7" rx="3.6" ry="3.3" transform="rotate(40.3 1527.6 622.7)"/><ellipse cx="1508.8" cy="612" rx="4.6" ry="3.8" transform="rotate(79.6 1508.8 612)"/><ellipse cx="1554.5" cy="643.9" rx="4.8" ry="3.8" transform="rotate(0.9 1554.5 643.9)"/><ellipse cx="1498.9" cy="625.2" rx="5.2" ry="3.4" transform="rotate(131.9 1498.9 625.2)"/><ellipse cx="1527.2" cy="627.6" rx="6" ry="2.9" transform="rotate(125.3 1527.2 627.6)"/><ellipse cx="1487.6" cy="625.1" rx="3.8" ry="3.4" transform="rotate(47.6 1487.6 625.1)"/><ellipse cx="1536.4" cy="623.3" rx="3.5" ry="2.9" transform="rotate(144.9 1536.4 623.3)"/><ellipse cx="1532.9" cy="655.1" rx="5.4" ry="3.1" transform="rotate(123.6 1532.9 655.1)"/><ellipse cx="1505.6" cy="644.7" rx="3.4" ry="3.3" transform="rotate(123.4 1505.6 644.7)"/><ellipse cx="1530.2" cy="637.9" rx="3.6" ry="3.1" transform="rotate(34.2 1530.2 637.9)"/><circle cx="1527.2" cy="595" r="1.5"/><circle cx="1530.3" cy="597" r="2.1"/><circle cx="1533.5" cy="598.3" r="1.6"/><circle cx="1532.5" cy="602.2" r="2.2"/><circle cx="1531.7" cy="605.4" r="1.7"/><circle cx="1534.5" cy="608.4" r="1.8"/><circle cx="1537.3" cy="611.2" r="1.5"/><circle cx="1539.6" cy="614.1" r="2.3"/><circle cx="1543" cy="615.7" r="1.6"/><circle cx="1545.4" cy="616" r="2"/><circle cx="1548.5" cy="615.7" r="2"/><circle cx="1551.2" cy="618.9" r="1.5"/><circle cx="1553.4" cy="622.3" r="1.5"/><circle cx="1553" cy="626.3" r="1.4"/><circle cx="1551.8" cy="630.4" r="2.4"/><circle cx="1553.2" cy="633" r="2.4"/><circle cx="1555.2" cy="635.6" r="2"/><circle cx="1556.2" cy="638.2" r="2.1"/><circle cx="1559.5" cy="640" r="2"/><circle cx="1562.8" cy="641.8" r="1.5"/><circle cx="1562.8" cy="650.5" r="1.6"/><circle cx="1553.5" cy="657.7" r="1.7"/><circle cx="1550.3" cy="659.6" r="2.2"/><circle cx="1545.5" cy="665.8" r="1.9"/><circle cx="1528.3" cy="667.5" r="2.3"/><circle cx="1524.5" cy="661.9" r="2.1"/><circle cx="1517.1" cy="657.8" r="1.7"/><circle cx="1514.6" cy="654.5" r="2.4"/><circle cx="1511.6" cy="652.6" r="1.7"/><circle cx="1509.6" cy="650.5" r="2"/><circle cx="1507.1" cy="649" r="1.6"/><circle cx="1504.6" cy="647.2" r="1.4"/><circle cx="1503.1" cy="645" r="2.4"/><circle cx="1500" cy="643.5" r="1.7"/><circle cx="1498" cy="641.6" r="1.7"/><circle cx="1496.1" cy="639" r="1.4"/><circle cx="1494.7" cy="636.4" r="1.6"/><circle cx="1493.8" cy="633.7" r="2.3"/><circle cx="1490.6" cy="629.1" r="1.6"/><circle cx="1488.4" cy="628.4" r="2.4"/><circle cx="1485.2" cy="627.5" r="2.2"/><circle cx="1487.2" cy="622.3" r="2"/><circle cx="1489.3" cy="619.6" r="2.4"/><circle cx="1490.6" cy="616.5" r="1.9"/><circle cx="1491.4" cy="613.7" r="1.8"/><circle cx="1492.7" cy="611.1" r="2.4"/><circle cx="1497.9" cy="609.5" r="2.2"/><circle cx="1501.4" cy="610.5" r="2.4"/><circle cx="1504.4" cy="610.9" r="1.6"/><circle cx="1506.9" cy="609" r="1.9"/><circle cx="1509.1" cy="606.6" r="1.6"/><circle cx="1511.8" cy="605.5" r="1.6"/><circle cx="1514.7" cy="604.7" r="1.5"/><circle cx="1517.6" cy="602.9" r="1.8"/><circle cx="1520.4" cy="600.6" r="1.8"/><circle cx="1524.9" cy="599.5" r="1.6"/></g>
<g fill="#C97047" stroke="#C97047" stroke-width="1.2" stroke-linejoin="round"><path d="M1618.7 595.5C1620.1 595.8 1621.7 598.4 1623.5 598.9C1625.3 599.3 1627.3 597.9 1629.5 598.3C1631.7 598.7 1634.9 599.8 1636.8 601.3C1638.6 602.8 1638.6 605.9 1640.4 607.3C1642.2 608.7 1646 607.9 1647.6 609.7C1649.2 611.5 1649.4 615.3 1650 618.1C1650.6 620.9 1650.8 623.9 1651.2 626.5C1651.6 629.1 1651.2 631.9 1652.4 633.7C1653.6 635.5 1657.2 635.1 1658.4 637.3C1659.6 639.5 1660.2 644.1 1659.6 647C1659 649.8 1656.2 652.2 1654.8 654.2C1653.4 656.2 1652.8 657.8 1651.2 659C1649.6 660.2 1647.4 660.9 1645.2 661.4C1643 661.9 1640.4 661.7 1638 662C1635.6 662.3 1632.5 664.1 1630.7 663.2C1628.9 662.3 1628.9 657.4 1627.1 656.6C1625.3 655.8 1622.5 658.8 1619.9 658.4C1617.3 658 1613.7 655.7 1611.5 654.2C1609.3 652.7 1608.9 650.6 1606.7 649.4C1604.5 648.2 1600.9 648 1598.3 647C1595.7 646 1593.1 644.9 1591.1 643.3C1589.1 641.7 1586.9 639.3 1586.3 637.3C1585.7 635.3 1586.3 633.3 1587.5 631.3C1588.7 629.3 1591.5 626.9 1593.5 625.3C1595.5 623.7 1597.7 622.5 1599.5 621.7C1601.3 620.9 1603.7 622.1 1604.3 620.5C1604.9 618.9 1602.9 614.5 1603.1 612.1C1603.3 609.7 1604.1 607.7 1605.5 606.1C1606.9 604.5 1609.9 604 1611.5 602.5C1613.1 601 1613.9 598.2 1615.1 597.1C1616.3 595.9 1617.3 595.2 1618.7 595.5Z"/><circle cx="1619.1" cy="598.2" r="2.9"/><circle cx="1623.5" cy="601.3" r="2.6"/><circle cx="1626.2" cy="601.3" r="2.9"/><circle cx="1629" cy="600.6" r="2.8"/><circle cx="1632.4" cy="601.9" r="2.7"/><circle cx="1635.9" cy="602.9" r="2.1"/><circle cx="1637.3" cy="606.3" r="2.6"/><circle cx="1639.2" cy="608.8" r="2.1"/><circle cx="1642.3" cy="610.1" r="2.7"/><circle cx="1645.6" cy="611.2" r="2.7"/><circle cx="1646.6" cy="615.2" r="2.8"/><circle cx="1648.3" cy="618.8" r="2.1"/><circle cx="1648.5" cy="622.8" r="2.3"/><circle cx="1649" cy="626.7" r="2.4"/><circle cx="1649.8" cy="630.1" r="2.4"/><circle cx="1650.2" cy="633.4" r="2.5"/><circle cx="1653.2" cy="635.1" r="2.7"/><circle cx="1656.6" cy="636.9" r="2.3"/><circle cx="1657.2" cy="640" r="1.8"/><circle cx="1657.8" cy="643.2" r="2"/><circle cx="1657.6" cy="646" r="2.6"/><circle cx="1655.6" cy="649.6" r="2.1"/><circle cx="1652.7" cy="652.5" r="2.8"/><circle cx="1651.6" cy="655.4" r="1.9"/><circle cx="1649.9" cy="657.6" r="2.3"/><circle cx="1646.8" cy="658.5" r="2.4"/><circle cx="1643.9" cy="659.6" r="2.4"/><circle cx="1640.3" cy="659.4" r="2.8"/><circle cx="1637.2" cy="660.3" r="2.1"/><circle cx="1633.5" cy="660.2" r="2.7"/><circle cx="1630.2" cy="660.7" r="2.8"/><circle cx="1628.5" cy="657.8" r="2.3"/><circle cx="1626.8" cy="654.2" r="2.8"/><circle cx="1623.5" cy="655.3" r="2.3"/><circle cx="1620.1" cy="656.3" r="2.3"/><circle cx="1617.6" cy="654.8" r="2.7"/><circle cx="1615.1" cy="653.3" r="2.6"/><circle cx="1612.1" cy="652.9" r="1.8"/><circle cx="1610.5" cy="649.5" r="2.8"/><circle cx="1608" cy="647.8" r="2.3"/><circle cx="1604.5" cy="646.3" r="2.9"/><circle cx="1599.4" cy="646.1" r="1.9"/><circle cx="1596.5" cy="644.1" r="2.4"/><circle cx="1593.2" cy="642.4" r="2.7"/><circle cx="1590.9" cy="639.6" r="2.6"/><circle cx="1588" cy="637" r="1.9"/><circle cx="1588.6" cy="634.1" r="2.2"/><circle cx="1589.4" cy="631.2" r="2.2"/><circle cx="1592.6" cy="628.4" r="2.5"/><circle cx="1595.7" cy="625.6" r="2.5"/><circle cx="1598.7" cy="624" r="2.7"/><circle cx="1601.7" cy="622.4" r="2.8"/><circle cx="1605.6" cy="621.1" r="1.8"/><circle cx="1605.3" cy="617.4" r="2.2"/><circle cx="1604.8" cy="613.5" r="2.4"/><circle cx="1605.4" cy="610.2" r="2.1"/><circle cx="1606.5" cy="607.4" r="2.2"/><circle cx="1609.7" cy="606.3" r="2.6"/><circle cx="1612.2" cy="604.1" r="2.2"/><circle cx="1614" cy="602" r="2.6"/><circle cx="1615.5" cy="598.7" r="1.9"/></g>
<g fill="#F19A70"><path d="M1618.7 595.5C1620.1 595.8 1621.7 598.4 1623.5 598.9C1625.3 599.3 1627.3 597.9 1629.5 598.3C1631.7 598.7 1634.9 599.8 1636.8 601.3C1638.6 602.8 1638.6 605.9 1640.4 607.3C1642.2 608.7 1646 607.9 1647.6 609.7C1649.2 611.5 1649.4 615.3 1650 618.1C1650.6 620.9 1650.8 623.9 1651.2 626.5C1651.6 629.1 1651.2 631.9 1652.4 633.7C1653.6 635.5 1657.2 635.1 1658.4 637.3C1659.6 639.5 1660.2 644.1 1659.6 647C1659 649.8 1656.2 652.2 1654.8 654.2C1653.4 656.2 1652.8 657.8 1651.2 659C1649.6 660.2 1647.4 660.9 1645.2 661.4C1643 661.9 1640.4 661.7 1638 662C1635.6 662.3 1632.5 664.1 1630.7 663.2C1628.9 662.3 1628.9 657.4 1627.1 656.6C1625.3 655.8 1622.5 658.8 1619.9 658.4C1617.3 658 1613.7 655.7 1611.5 654.2C1609.3 652.7 1608.9 650.6 1606.7 649.4C1604.5 648.2 1600.9 648 1598.3 647C1595.7 646 1593.1 644.9 1591.1 643.3C1589.1 641.7 1586.9 639.3 1586.3 637.3C1585.7 635.3 1586.3 633.3 1587.5 631.3C1588.7 629.3 1591.5 626.9 1593.5 625.3C1595.5 623.7 1597.7 622.5 1599.5 621.7C1601.3 620.9 1603.7 622.1 1604.3 620.5C1604.9 618.9 1602.9 614.5 1603.1 612.1C1603.3 609.7 1604.1 607.7 1605.5 606.1C1606.9 604.5 1609.9 604 1611.5 602.5C1613.1 601 1613.9 598.2 1615.1 597.1C1616.3 595.9 1617.3 595.2 1618.7 595.5Z"/><circle cx="1619.1" cy="598.2" r="2.9"/><circle cx="1623.5" cy="601.3" r="2.6"/><circle cx="1626.2" cy="601.3" r="2.9"/><circle cx="1629" cy="600.6" r="2.8"/><circle cx="1632.4" cy="601.9" r="2.7"/><circle cx="1635.9" cy="602.9" r="2.1"/><circle cx="1637.3" cy="606.3" r="2.6"/><circle cx="1639.2" cy="608.8" r="2.1"/><circle cx="1642.3" cy="610.1" r="2.7"/><circle cx="1645.6" cy="611.2" r="2.7"/><circle cx="1646.6" cy="615.2" r="2.8"/><circle cx="1648.3" cy="618.8" r="2.1"/><circle cx="1648.5" cy="622.8" r="2.3"/><circle cx="1649" cy="626.7" r="2.4"/><circle cx="1649.8" cy="630.1" r="2.4"/><circle cx="1650.2" cy="633.4" r="2.5"/><circle cx="1653.2" cy="635.1" r="2.7"/><circle cx="1656.6" cy="636.9" r="2.3"/><circle cx="1657.2" cy="640" r="1.8"/><circle cx="1657.8" cy="643.2" r="2"/><circle cx="1657.6" cy="646" r="2.6"/><circle cx="1655.6" cy="649.6" r="2.1"/><circle cx="1652.7" cy="652.5" r="2.8"/><circle cx="1651.6" cy="655.4" r="1.9"/><circle cx="1649.9" cy="657.6" r="2.3"/><circle cx="1646.8" cy="658.5" r="2.4"/><circle cx="1643.9" cy="659.6" r="2.4"/><circle cx="1640.3" cy="659.4" r="2.8"/><circle cx="1637.2" cy="660.3" r="2.1"/><circle cx="1633.5" cy="660.2" r="2.7"/><circle cx="1630.2" cy="660.7" r="2.8"/><circle cx="1628.5" cy="657.8" r="2.3"/><circle cx="1626.8" cy="654.2" r="2.8"/><circle cx="1623.5" cy="655.3" r="2.3"/><circle cx="1620.1" cy="656.3" r="2.3"/><circle cx="1617.6" cy="654.8" r="2.7"/><circle cx="1615.1" cy="653.3" r="2.6"/><circle cx="1612.1" cy="652.9" r="1.8"/><circle cx="1610.5" cy="649.5" r="2.8"/><circle cx="1608" cy="647.8" r="2.3"/><circle cx="1604.5" cy="646.3" r="2.9"/><circle cx="1599.4" cy="646.1" r="1.9"/><circle cx="1596.5" cy="644.1" r="2.4"/><circle cx="1593.2" cy="642.4" r="2.7"/><circle cx="1590.9" cy="639.6" r="2.6"/><circle cx="1588" cy="637" r="1.9"/><circle cx="1588.6" cy="634.1" r="2.2"/><circle cx="1589.4" cy="631.2" r="2.2"/><circle cx="1592.6" cy="628.4" r="2.5"/><circle cx="1595.7" cy="625.6" r="2.5"/><circle cx="1598.7" cy="624" r="2.7"/><circle cx="1601.7" cy="622.4" r="2.8"/><circle cx="1605.6" cy="621.1" r="1.8"/><circle cx="1605.3" cy="617.4" r="2.2"/><circle cx="1604.8" cy="613.5" r="2.4"/><circle cx="1605.4" cy="610.2" r="2.1"/><circle cx="1606.5" cy="607.4" r="2.2"/><circle cx="1609.7" cy="606.3" r="2.6"/><circle cx="1612.2" cy="604.1" r="2.2"/><circle cx="1614" cy="602" r="2.6"/><circle cx="1615.5" cy="598.7" r="1.9"/></g>
<g fill="#F3AA85"><ellipse cx="1597.7" cy="639.9" rx="5.7" ry="3.6" transform="rotate(104.2 1597.7 639.9)"/><ellipse cx="1641.4" cy="620.5" rx="3.7" ry="3.4" transform="rotate(93.7 1641.4 620.5)"/><ellipse cx="1625.1" cy="627.1" rx="3.5" ry="3.7" transform="rotate(140.1 1625.1 627.1)"/><ellipse cx="1644.5" cy="644.3" rx="4.7" ry="4" transform="rotate(41.3 1644.5 644.3)"/><ellipse cx="1616.9" cy="623.9" rx="5.8" ry="3.1" transform="rotate(102.5 1616.9 623.9)"/><ellipse cx="1621.4" cy="627.5" rx="4.5" ry="3.5" transform="rotate(77.8 1621.4 627.5)"/><ellipse cx="1631.1" cy="626.6" rx="3.1" ry="3.2" transform="rotate(83.5 1631.1 626.6)"/><ellipse cx="1614.9" cy="650" rx="4.3" ry="3.5" transform="rotate(136.6 1614.9 650)"/><ellipse cx="1628.1" cy="630.7" rx="3.7" ry="2.8" transform="rotate(136.9 1628.1 630.7)"/><ellipse cx="1634.6" cy="642.6" rx="5.2" ry="3" transform="rotate(155.3 1634.6 642.6)"/><ellipse cx="1651.2" cy="642.1" rx="3.9" ry="3.4" transform="rotate(166 1651.2 642.1)"/><ellipse cx="1634.7" cy="611.8" rx="3.5" ry="4.1" transform="rotate(179.1 1634.7 611.8)"/><ellipse cx="1620.7" cy="638" rx="4.3" ry="3.9" transform="rotate(156.4 1620.7 638)"/><ellipse cx="1609.8" cy="621.3" rx="6.1" ry="3.1" transform="rotate(119.6 1609.8 621.3)"/><ellipse cx="1635.6" cy="610.9" rx="5.1" ry="2.5" transform="rotate(124.5 1635.6 610.9)"/><ellipse cx="1624.4" cy="640.1" rx="6" ry="3.4" transform="rotate(95.6 1624.4 640.1)"/><ellipse cx="1615.1" cy="630.7" rx="4.9" ry="3.5" transform="rotate(57 1615.1 630.7)"/><ellipse cx="1595.2" cy="637.8" rx="3.1" ry="3.1" transform="rotate(108.6 1595.2 637.8)"/><ellipse cx="1612.6" cy="608.8" rx="4.1" ry="3.9" transform="rotate(16.4 1612.6 608.8)"/><ellipse cx="1621.6" cy="642.2" rx="5.2" ry="3.3" transform="rotate(70.2 1621.6 642.2)"/><ellipse cx="1648.4" cy="639.9" rx="4.6" ry="2.6" transform="rotate(143.8 1648.4 639.9)"/><ellipse cx="1613.2" cy="608.2" rx="3.4" ry="3.4" transform="rotate(78 1613.2 608.2)"/><ellipse cx="1621.6" cy="642.6" rx="3.4" ry="3.6" transform="rotate(118.6 1621.6 642.6)"/><ellipse cx="1613.1" cy="633.4" rx="5.3" ry="3.2" transform="rotate(179.6 1613.1 633.4)"/><ellipse cx="1630" cy="606.7" rx="3.8" ry="3.6" transform="rotate(79.1 1630 606.7)"/><ellipse cx="1636.8" cy="624.1" rx="5.3" ry="2.4" transform="rotate(143.4 1636.8 624.1)"/><ellipse cx="1621.5" cy="617.1" rx="4.7" ry="3.7" transform="rotate(83.1 1621.5 617.1)"/><ellipse cx="1656.1" cy="643.5" rx="4.2" ry="4" transform="rotate(141.8 1656.1 643.5)"/><ellipse cx="1622.4" cy="615.9" rx="4" ry="3.1" transform="rotate(150.5 1622.4 615.9)"/><ellipse cx="1626" cy="629.2" rx="4.4" ry="3.4" transform="rotate(55.7 1626 629.2)"/><ellipse cx="1634.6" cy="652.2" rx="4.3" ry="3.5" transform="rotate(45.7 1634.6 652.2)"/><ellipse cx="1608.2" cy="630.4" rx="5.9" ry="3.8" transform="rotate(53.9 1608.2 630.4)"/><ellipse cx="1643.5" cy="629.6" rx="5.9" ry="2.6" transform="rotate(1.4 1643.5 629.6)"/><ellipse cx="1641.8" cy="631.9" rx="3.4" ry="2.8" transform="rotate(129.4 1641.8 631.9)"/><ellipse cx="1628.4" cy="653.1" rx="3.8" ry="2.9" transform="rotate(104.3 1628.4 653.1)"/><ellipse cx="1633.7" cy="657.9" rx="4" ry="2.7" transform="rotate(158.2 1633.7 657.9)"/><ellipse cx="1634.4" cy="635.9" rx="3.2" ry="3.4" transform="rotate(42.6 1634.4 635.9)"/><ellipse cx="1609.6" cy="611" rx="3.4" ry="2.9" transform="rotate(22.5 1609.6 611)"/><ellipse cx="1625.6" cy="653.5" rx="5.5" ry="3.1" transform="rotate(166.5 1625.6 653.5)"/><ellipse cx="1617.6" cy="632.4" rx="4.9" ry="3.3" transform="rotate(119.3 1617.6 632.4)"/><ellipse cx="1618.5" cy="612.6" rx="4.8" ry="2.5" transform="rotate(76.2 1618.5 612.6)"/><ellipse cx="1630.6" cy="605.2" rx="5.1" ry="3.2" transform="rotate(166.5 1630.6 605.2)"/><ellipse cx="1615.7" cy="648.5" rx="6" ry="3.9" transform="rotate(160.2 1615.7 648.5)"/><ellipse cx="1632.9" cy="640.4" rx="4.4" ry="2.7" transform="rotate(157.5 1632.9 640.4)"/><ellipse cx="1643.2" cy="640.9" rx="5.5" ry="3.5" transform="rotate(111.9 1643.2 640.9)"/><ellipse cx="1609.5" cy="646.2" rx="5.9" ry="3.8" transform="rotate(4.2 1609.5 646.2)"/><ellipse cx="1605.3" cy="637.9" rx="5.6" ry="2.5" transform="rotate(33.1 1605.3 637.9)"/><ellipse cx="1619.9" cy="651.9" rx="5.9" ry="3.9" transform="rotate(9.6 1619.9 651.9)"/><ellipse cx="1640.6" cy="626.6" rx="4.6" ry="3.6" transform="rotate(144.8 1640.6 626.6)"/><ellipse cx="1621.3" cy="653.3" rx="5.1" ry="4.2" transform="rotate(63.4 1621.3 653.3)"/><ellipse cx="1615.6" cy="635.5" rx="5.3" ry="3.7" transform="rotate(17.9 1615.6 635.5)"/><ellipse cx="1623.7" cy="616.5" rx="3.2" ry="2.9" transform="rotate(78.7 1623.7 616.5)"/><ellipse cx="1627.9" cy="609.7" rx="3.4" ry="2.9" transform="rotate(76.3 1627.9 609.7)"/><ellipse cx="1643.6" cy="622.6" rx="5.8" ry="2.9" transform="rotate(3 1643.6 622.6)"/><ellipse cx="1594.8" cy="631.5" rx="5.2" ry="2.4" transform="rotate(145.4 1594.8 631.5)"/><ellipse cx="1647.1" cy="636.1" rx="3.2" ry="2.8" transform="rotate(76.4 1647.1 636.1)"/><ellipse cx="1640.4" cy="624.2" rx="3.4" ry="2.8" transform="rotate(122.9 1640.4 624.2)"/><ellipse cx="1624.8" cy="608.8" rx="3.9" ry="2.8" transform="rotate(79.9 1624.8 608.8)"/><ellipse cx="1625.5" cy="630.3" rx="3.3" ry="3" transform="rotate(76.7 1625.5 630.3)"/><ellipse cx="1626.1" cy="620.1" rx="4.7" ry="2.6" transform="rotate(126.3 1626.1 620.1)"/><ellipse cx="1600" cy="626.4" rx="4.6" ry="3.3" transform="rotate(41.2 1600 626.4)"/><ellipse cx="1614.1" cy="617.8" rx="5.7" ry="3.1" transform="rotate(140.2 1614.1 617.8)"/><ellipse cx="1623.3" cy="649.2" rx="3.9" ry="3.6" transform="rotate(132.8 1623.3 649.2)"/><ellipse cx="1599.5" cy="643.6" rx="5.8" ry="4.1" transform="rotate(177.2 1599.5 643.6)"/><ellipse cx="1612.7" cy="646.5" rx="5.5" ry="3.2" transform="rotate(161 1612.7 646.5)"/><ellipse cx="1640.9" cy="643" rx="3.7" ry="2.6" transform="rotate(122.4 1640.9 643)"/><ellipse cx="1640.4" cy="621.8" rx="4.4" ry="2.9" transform="rotate(133.8 1640.4 621.8)"/><ellipse cx="1632" cy="611.2" rx="6" ry="2.9" transform="rotate(125 1632 611.2)"/><ellipse cx="1626" cy="644" rx="4.4" ry="2.9" transform="rotate(40.3 1626 644)"/><ellipse cx="1611.4" cy="621.5" rx="4.1" ry="2.5" transform="rotate(34.6 1611.4 621.5)"/><ellipse cx="1609.4" cy="612.8" rx="5.7" ry="2.4" transform="rotate(58.7 1609.4 612.8)"/><ellipse cx="1632.6" cy="623.9" rx="5.4" ry="3.4" transform="rotate(7.8 1632.6 623.9)"/><ellipse cx="1598.5" cy="635.1" rx="5" ry="3.2" transform="rotate(32 1598.5 635.1)"/><ellipse cx="1611.7" cy="631.4" rx="6" ry="3.2" transform="rotate(179.4 1611.7 631.4)"/><ellipse cx="1601.5" cy="629.3" rx="3.4" ry="2.7" transform="rotate(100.2 1601.5 629.3)"/><ellipse cx="1642.3" cy="643.3" rx="6.1" ry="3.8" transform="rotate(151.1 1642.3 643.3)"/><ellipse cx="1641.6" cy="649.5" rx="3.6" ry="3.9" transform="rotate(38 1641.6 649.5)"/><ellipse cx="1641.5" cy="625.2" rx="3.1" ry="2.7" transform="rotate(146.6 1641.5 625.2)"/><ellipse cx="1628.5" cy="613.6" rx="5.7" ry="3.1" transform="rotate(13.1 1628.5 613.6)"/><ellipse cx="1605.6" cy="637.9" rx="5.4" ry="4.1" transform="rotate(84.8 1605.6 637.9)"/><ellipse cx="1612.2" cy="621.2" rx="5.9" ry="3.6" transform="rotate(87.4 1612.2 621.2)"/><ellipse cx="1605.4" cy="634.2" rx="4.9" ry="3.9" transform="rotate(111.1 1605.4 634.2)"/><ellipse cx="1640.8" cy="628" rx="3.7" ry="4.1" transform="rotate(119.9 1640.8 628)"/><ellipse cx="1644.5" cy="633.1" rx="4.5" ry="2.5" transform="rotate(112.7 1644.5 633.1)"/><ellipse cx="1635.9" cy="615.4" rx="5.2" ry="2.9" transform="rotate(94.1 1635.9 615.4)"/><ellipse cx="1624.7" cy="637.6" rx="3.6" ry="3.4" transform="rotate(115.6 1624.7 637.6)"/><ellipse cx="1600.7" cy="631.3" rx="4.7" ry="3.4" transform="rotate(32.9 1600.7 631.3)"/><ellipse cx="1630.2" cy="616" rx="6.2" ry="3.5" transform="rotate(57.9 1630.2 616)"/><ellipse cx="1612.1" cy="611.6" rx="3.5" ry="2.6" transform="rotate(12.5 1612.1 611.6)"/><ellipse cx="1612.6" cy="620.5" rx="4.2" ry="4.1" transform="rotate(166.2 1612.6 620.5)"/><ellipse cx="1602" cy="644.4" rx="3.8" ry="3.7" transform="rotate(56 1602 644.4)"/><ellipse cx="1601.2" cy="628.7" rx="3.2" ry="2.7" transform="rotate(44.1 1601.2 628.7)"/><ellipse cx="1615" cy="649" rx="3.8" ry="2.9" transform="rotate(62.1 1615 649)"/><ellipse cx="1612.1" cy="617.4" rx="3.8" ry="2.7" transform="rotate(157.5 1612.1 617.4)"/><ellipse cx="1645.2" cy="633.6" rx="4" ry="3.5" transform="rotate(100.2 1645.2 633.6)"/><circle cx="1619.1" cy="598.2" r="2.4"/><circle cx="1623.5" cy="601.3" r="2.2"/><circle cx="1626.2" cy="601.3" r="2.4"/><circle cx="1629" cy="600.6" r="2.3"/><circle cx="1632.4" cy="601.9" r="2.3"/><circle cx="1635.9" cy="602.9" r="1.6"/><circle cx="1637.3" cy="606.3" r="2.1"/><circle cx="1639.2" cy="608.8" r="1.6"/><circle cx="1642.3" cy="610.1" r="2.3"/><circle cx="1646.6" cy="615.2" r="2.4"/><circle cx="1648.3" cy="618.8" r="1.6"/><circle cx="1648.5" cy="622.8" r="1.8"/><circle cx="1651.6" cy="655.4" r="1.5"/><circle cx="1633.5" cy="660.2" r="2.3"/><circle cx="1630.2" cy="660.7" r="2.3"/><circle cx="1628.5" cy="657.8" r="1.8"/><circle cx="1626.8" cy="654.2" r="2.3"/><circle cx="1623.5" cy="655.3" r="1.9"/><circle cx="1620.1" cy="656.3" r="1.9"/><circle cx="1615.1" cy="653.3" r="2.2"/><circle cx="1612.1" cy="652.9" r="1.4"/><circle cx="1610.5" cy="649.5" r="2.4"/><circle cx="1608" cy="647.8" r="1.9"/><circle cx="1604.5" cy="646.3" r="2.4"/><circle cx="1599.4" cy="646.1" r="1.4"/><circle cx="1596.5" cy="644.1" r="2"/><circle cx="1593.2" cy="642.4" r="2.2"/><circle cx="1590.9" cy="639.6" r="2.1"/><circle cx="1588" cy="637" r="1.4"/><circle cx="1588.6" cy="634.1" r="1.7"/><circle cx="1589.4" cy="631.2" r="1.8"/><circle cx="1592.6" cy="628.4" r="2"/><circle cx="1595.7" cy="625.6" r="2"/><circle cx="1598.7" cy="624" r="2.3"/><circle cx="1601.7" cy="622.4" r="2.3"/><circle cx="1605.6" cy="621.1" r="1.4"/><circle cx="1605.3" cy="617.4" r="1.7"/><circle cx="1604.8" cy="613.5" r="1.9"/><circle cx="1605.4" cy="610.2" r="1.6"/><circle cx="1606.5" cy="607.4" r="1.7"/><circle cx="1609.7" cy="606.3" r="2.1"/><circle cx="1612.2" cy="604.1" r="1.7"/><circle cx="1614" cy="602" r="2.1"/><circle cx="1615.5" cy="598.7" r="1.4"/></g>
<path d="M493.3 674.3 C494.3 679.3 497.8 682.3 496.8 688.3 C495.8 693.3 490.8 694.3 492.8 700.3 Q493.8 704.3 495.8 706.8" fill="none" stroke="#2F6B25" stroke-width="4" stroke-linecap="round"/>
<polygon points="493.3,667.3 498.3,676.8 488.3,676.8" fill="#2F6B25"/>
<path d="M504.8 674.3 C505.8 679.3 509.3 682.3 508.3 688.3 C507.3 693.3 502.3 694.3 504.3 700.3 Q505.3 704.3 507.3 706.8" fill="none" stroke="#2F6B25" stroke-width="4" stroke-linecap="round"/>
<polygon points="504.8,667.3 509.8,676.8 499.8,676.8" fill="#2F6B25"/>
<path d="M516.3 674.3 C517.3 679.3 520.8 682.3 519.8 688.3 C518.8 693.3 513.8 694.3 515.8 700.3 Q516.8 704.3 518.8 706.8" fill="none" stroke="#2F6B25" stroke-width="4" stroke-linecap="round"/>
<polygon points="516.3,667.3 521.3,676.8 511.3,676.8" fill="#2F6B25"/>
<path d="M1573.6 682.2 C1574.6 687.2 1578.1 690.2 1577.1 696.2 C1576.1 701.2 1571.1 702.2 1573.1 708.2 Q1574.1 712.2 1576.1 714.7" fill="none" stroke="#2F6B25" stroke-width="4" stroke-linecap="round"/>
<polygon points="1573.6,675.2 1578.6,684.7 1568.6,684.7" fill="#2F6B25"/>
<path d="M1585.4 682.2 C1586.4 687.2 1589.9 690.2 1588.9 696.2 C1587.9 701.2 1582.9 702.2 1584.9 708.2 Q1585.9 712.2 1587.9 714.7" fill="none" stroke="#2F6B25" stroke-width="4" stroke-linecap="round"/>
<polygon points="1585.4,675.2 1590.4,684.7 1580.4,684.7" fill="#2F6B25"/>
<path d="M1597.2 682.2 C1598.2 687.2 1601.7 690.2 1600.7 696.2 C1599.7 701.2 1594.7 702.2 1596.7 708.2 Q1597.7 712.2 1599.7 714.7" fill="none" stroke="#2F6B25" stroke-width="4" stroke-linecap="round"/>
<polygon points="1597.2,675.2 1602.2,684.7 1592.2,684.7" fill="#2F6B25"/>
<path d="M280.1 863.8C275.5 864.4 262 865.5 252.3 867.7C242.6 869.9 232 873.4 221.9 877C211.8 880.6 199.9 885.4 191.5 889.2C183.1 893 176.8 895.6 171.2 899.7C165.6 903.8 160.7 909.2 158 913.9C155.3 918.6 154.4 922.4 154.9 928.1C155.4 933.9 157.6 941 161 948.4C164.4 955.8 170.5 965 175.2 972.8C179.9 980.6 186.1 988.7 189.4 995.1C192.7 1001.5 195.1 1006.4 195.1 1011.3C195.1 1016.2 193.4 1021 189.4 1024.5C185.4 1028 177.6 1030.9 171.2 1032.6C164.8 1034.3 158 1034.3 150.9 1034.6C143.8 1034.9 132.3 1034.3 128.6 1034.2" fill="none" stroke="#2E5F8C" stroke-width="6.2"/>
<path d="M642.8 812.2C642.1 814.9 639.2 822.4 638.5 828.2C637.8 834 637.4 840 638.5 846.9C639.6 853.8 641.5 862.6 645.1 869.5C648.7 876.4 654.2 882.7 660.1 888.3C666 893.9 672 898.3 680.8 903.3C689.6 908.3 701.1 913.6 712.7 918.3C724.3 923 737.7 927 750.2 931.5C762.7 936 777.5 940.5 787.8 945.5C798.1 950.5 805.3 955.7 812.2 961.5C819.1 967.3 824.6 973.4 829.1 980.3C833.6 987.2 837.5 995.9 839.4 1002.8C841.3 1009.7 841 1015.2 840.4 1021.6C839.8 1028 836.5 1037.7 835.7 1040.9" fill="none" stroke="#2E5F8C" stroke-width="6.2"/>
<path d="M1806.5 765.5C1808 768.9 1813.7 779.2 1815.5 786C1817.3 792.8 1818.2 799.6 1817.5 806.4C1816.8 813.2 1814.9 820.1 1811.6 826.9C1808.3 833.7 1803.8 840.5 1797.6 847.3C1791.4 854.1 1784.4 860.5 1774.6 867.7C1764.8 874.9 1750.7 883.5 1738.8 890.7C1726.9 898 1714.2 904.4 1703.1 911.2C1692 918 1680.9 924.8 1672.4 931.6C1663.9 938.4 1657.1 945.2 1652 952C1646.9 958.8 1643.8 965.7 1641.7 972.5C1639.6 979.3 1639 986.1 1639.2 992.9C1639.4 999.7 1641.2 1007.1 1643 1013.3C1644.8 1019.5 1648.8 1027.2 1649.9 1030" fill="none" stroke="#2E5F8C" stroke-width="6.2"/>
<path d="M1327.3 755.3C1322.3 756.4 1308.5 758.7 1297.1 761.7C1285.7 764.7 1270.3 768.7 1258.8 773.2C1247.3 777.7 1236.1 783.8 1228.2 788.5C1220.3 793.2 1215 797 1211.6 801.3C1208.2 805.6 1207.1 809.4 1207.7 814.1C1208.3 818.8 1210.3 823 1215.4 829.4C1220.5 835.8 1231.2 844.7 1238.4 852.4C1245.6 860.1 1253.7 868.6 1258.8 875.4C1263.9 882.2 1266.7 886.1 1269 893.3C1271.3 900.5 1272.9 910.7 1272.9 918.8C1272.9 926.9 1271.8 934.1 1269 941.8C1266.2 949.5 1262.2 957.6 1256.3 964.8C1250.3 972 1243.5 978.4 1233.3 985.2C1223.1 992 1207.8 999.3 1195 1005.7C1182.2 1012.1 1166.4 1019.3 1156.6 1023.6C1146.8 1027.9 1141.1 1030.4 1136.2 1031.7C1131.3 1033 1128.8 1031.3 1127.3 1031.2" fill="none" stroke="#2E5F8C" stroke-width="6.2"/>
<circle cx="1127.6" cy="1031.3" r="3.1" fill="#2E5F8C"/>
<g stroke="#1d1d1d" stroke-width="1.2" stroke-linecap="butt">
<polyline points="241.8,865.2 239.1,846.5 235.7,819 215.4,801.9" fill="none"/>
<polyline points="235.7,819 209,823.5" fill="none"/>
</g>
<g stroke="#111" stroke-width="0.8" stroke-linejoin="miter">
<rect x="-8.6" y="-8.6" width="17.2" height="17.2" fill="#0072BC" transform="translate(239.1 846.5) rotate(-8)"/>
<polygon points="203.6,816.5 218.2,822.2 205.2,831.7" fill="#ED1C24"/>
<circle cx="235.7" cy="819" r="8.1" fill="#FFD400"/>
<circle cx="215.4" cy="801.9" r="8.1" fill="#FFD400"/>
</g>
<g stroke="#1d1d1d" stroke-width="1.2" stroke-linecap="butt">
<polyline points="205.7,886.5 212.3,904.4 222.3,930.6 211.1,959" fill="none"/>
<polyline points="222.3,930.6 197.5,939.9" fill="none"/>
</g>
<g stroke="#111" stroke-width="0.8" stroke-linejoin="miter">
<rect x="-8.6" y="-8.6" width="17.2" height="17.2" fill="#0072BC" transform="translate(212.3 904.4) rotate(-20)"/>
<polygon points="190,934.6 206.7,936.2 195.9,948.8" fill="#ED1C24"/>
<rect x="-8.6" y="-8.6" width="17.2" height="17.2" fill="#FFD400" transform="translate(211.1 959) rotate(-20)"/>
<circle cx="222.3" cy="930.6" r="8.1" fill="#FFD400"/>
</g>
<g stroke="#1d1d1d" stroke-width="1.2" stroke-linecap="butt">
<polyline points="167.5,1031.2 164.7,1011.7 161,984.5 141.1,967.1 116.8,949.8" fill="none"/>
<polyline points="161,984.5 134.3,988.3" fill="none"/>
</g>
<g stroke="#111" stroke-width="0.8" stroke-linejoin="miter">
<rect x="-8.6" y="-8.6" width="17.2" height="17.2" fill="#0072BC" transform="translate(164.7 1011.7) rotate(-8)"/>
<polygon points="128.6,981.3 143.8,987 130.6,996.7" fill="#ED1C24"/>
<rect x="-8.6" y="-8.6" width="17.2" height="17.2" fill="#FFD400" transform="translate(116.8 949.8) rotate(-8)"/>
<circle cx="161" cy="984.5" r="8.1" fill="#FFD400"/>
<circle cx="141.1" cy="967.1" r="8.1" fill="#FFD400"/>
</g>
<g stroke="#1d1d1d" stroke-width="1.2" stroke-linecap="butt">
<polyline points="644.5,881.1 636.6,898 624,922.4 632.9,952.1" fill="none"/>
<polyline points="624,922.4 647.8,934.3" fill="none"/>
</g>
<g stroke="#111" stroke-width="0.8" stroke-linejoin="miter">
<rect x="-8.6" y="-8.6" width="17.2" height="17.2" fill="#0072BC" transform="translate(636.6 898) rotate(30)"/>
<polygon points="638.5,929.6 656,929.6 648.8,943.7" fill="#ED1C24"/>
<rect x="-8.6" y="-8.6" width="17.2" height="17.2" fill="#FFD400" transform="translate(632.9 952.1) rotate(30)"/>
<circle cx="624" cy="922.4" r="8.1" fill="#FFD400"/>
</g>
<g stroke="#1d1d1d" stroke-width="1.2" stroke-linecap="butt">
<polyline points="681.7,900.5 692.6,884.5 705.2,860.1 734.3,850.3 763.4,842.6" fill="none"/>
<polyline points="705.2,860.1 729.1,872.7" fill="none"/>
</g>
<g stroke="#111" stroke-width="0.8" stroke-linejoin="miter">
<rect x="-8.6" y="-8.6" width="17.2" height="17.2" fill="#0072BC" transform="translate(692.6 884.5) rotate(30)"/>
<polygon points="720.6,868.5 737.1,868 729.6,881.7" fill="#ED1C24"/>
<rect x="-8.6" y="-8.6" width="17.2" height="17.2" fill="#FFD400" transform="translate(734.3 850.3) rotate(30)"/>
<circle cx="705.2" cy="860.1" r="8.1" fill="#FFD400"/>
<circle cx="763.4" cy="842.6" r="8.1" fill="#FFD400"/>
</g>
<g stroke="#1d1d1d" stroke-width="1.2" stroke-linecap="butt">
<polyline points="694.8,915.5 688.3,932.8 677.6,957.7 701.9,968.1" fill="none"/>
</g>
<g stroke="#111" stroke-width="0.8" stroke-linejoin="miter">
<rect x="-8.6" y="-8.6" width="17.2" height="17.2" fill="#0072BC" transform="translate(688.3 932.8) rotate(25)"/>
<polygon points="693,963.9 709.5,963.4 703.3,977.1" fill="#ED1C24"/>
<circle cx="677.6" cy="957.7" r="8.1" fill="#FFD400"/>
</g>
<g stroke="#1d1d1d" stroke-width="1.2" stroke-linecap="butt">
<polyline points="758.1,933.7 755.9,953.1 749.3,979.3 764.7,1005.6 781.2,1031" fill="none"/>
<polyline points="749.3,979.3 774.9,985.5" fill="none"/>
</g>
<g stroke="#111" stroke-width="0.8" stroke-linejoin="miter">
<rect x="-8.6" y="-8.6" width="17.2" height="17.2" fill="#0072BC" transform="translate(755.9 953.1) rotate(15)"/>
<polygon points="765.3,983.1 781.8,979.3 777.5,994" fill="#ED1C24"/>
<rect x="-8.6" y="-8.6" width="17.2" height="17.2" fill="#FFD400" transform="translate(764.7 1005.6) rotate(15)"/>
<circle cx="749.3" cy="979.3" r="8.1" fill="#FFD400"/>
<circle cx="781.2" cy="1031" r="8.1" fill="#FFD400"/>
</g>
<g stroke="#1d1d1d" stroke-width="1.2" stroke-linecap="butt">
<polyline points="798.1,944.6 803.8,928.6 810,901.8 835.3,885.4 861.6,870 888.6,855" fill="none"/>
<polyline points="810,901.8 836.2,908" fill="none"/>
<polyline points="861.6,870 887.5,876.8" fill="none"/>
</g>
<g stroke="#111" stroke-width="0.8" stroke-linejoin="miter">
<rect x="-8.6" y="-8.6" width="17.2" height="17.2" fill="#0072BC" transform="translate(803.8 928.6) rotate(15)"/>
<polygon points="826.3,906.1 842.8,901.4 839.4,916.4" fill="#ED1C24"/>
<polygon points="877.9,874.7 893.9,870.4 890.7,885.4" fill="#ED1C24"/>
<rect x="-8.6" y="-8.6" width="17.2" height="17.2" fill="#FFD400" transform="translate(835.3 885.4) rotate(15)"/>
<rect x="-8.6" y="-8.6" width="17.2" height="17.2" fill="#FFD400" transform="translate(888.6 855) rotate(15)"/>
<circle cx="810" cy="901.8" r="8.1" fill="#FFD400"/>
<circle cx="861.6" cy="870" r="8.1" fill="#FFD400"/>
</g>
<g stroke="#1d1d1d" stroke-width="1.2" stroke-linecap="butt">
<polyline points="1207.7,811 1188.6,813.6 1160.5,816.6 1142.6,837.6" fill="none"/>
<polyline points="1160.5,816.6 1164.3,844.3" fill="none"/>
</g>
<g stroke="#111" stroke-width="0.8" stroke-linejoin="miter">
<rect x="-8.6" y="-8.6" width="17.2" height="17.2" fill="#0072BC" transform="translate(1188.6 813.6) rotate(-8)"/>
<polygon points="1163,834.5 1172.5,848.6 1157.4,849.8" fill="#ED1C24"/>
<circle cx="1160.5" cy="816.6" r="8.1" fill="#FFD400"/>
<circle cx="1142.6" cy="837.6" r="8.1" fill="#FFD400"/>
</g>
<g stroke="#1d1d1d" stroke-width="1.2" stroke-linecap="butt">
<polyline points="1235.8,788 1254.5,794.4 1281.3,802.1 1296.6,829.4" fill="none"/>
<polyline points="1281.3,802.1 1273.7,828.8" fill="none"/>
</g>
<g stroke="#111" stroke-width="0.8" stroke-linejoin="miter">
<rect x="-8.6" y="-8.6" width="17.2" height="17.2" fill="#0072BC" transform="translate(1254.5 794.4) rotate(18)"/>
<polygon points="1276.7,819.7 1280,835.3 1264.4,831.5" fill="#ED1C24"/>
<rect x="-8.6" y="-8.6" width="17.2" height="17.2" fill="#FFD400" transform="translate(1296.6 829.4) rotate(15)"/>
<circle cx="1281.3" cy="802.1" r="8.1" fill="#FFD400"/>
</g>
<g stroke="#1d1d1d" stroke-width="1.2" stroke-linecap="butt">
<polyline points="1274.1,897.6 1292.8,892.5 1319.6,884.3 1327.4,910.1" fill="none"/>
</g>
<g stroke="#111" stroke-width="0.8" stroke-linejoin="miter">
<rect x="-8.6" y="-8.6" width="17.2" height="17.2" fill="#0072BC" transform="translate(1292.8 892.5) rotate(-18)"/>
<polygon points="1324,900.9 1336.7,912.4 1321.4,917" fill="#ED1C24"/>
<circle cx="1319.6" cy="884.3" r="8.1" fill="#FFD400"/>
</g>
<g stroke="#1d1d1d" stroke-width="1.2" stroke-linecap="butt">
<polyline points="1242.7,974.5 1228.2,961.7 1207,943.1 1180.1,942.3 1149.7,944.9" fill="none"/>
<polyline points="1207,943.1 1188.6,963.4" fill="none"/>
</g>
<g stroke="#111" stroke-width="0.8" stroke-linejoin="miter">
<rect x="-8.6" y="-8.6" width="17.2" height="17.2" fill="#0072BC" transform="translate(1228.2 961.7) rotate(40)"/>
<polygon points="1195,956.6 1191.1,972 1179.6,961.7" fill="#ED1C24"/>
<rect x="-8.6" y="-8.6" width="17.2" height="17.2" fill="#FFD400" transform="translate(1149.7 944.9) rotate(45)"/>
<circle cx="1207" cy="943.1" r="8.1" fill="#FFD400"/>
<circle cx="1180.1" cy="942.3" r="8.1" fill="#FFD400"/>
</g>
<g stroke="#1d1d1d" stroke-width="1.2" stroke-linecap="butt">
<polyline points="1272.1,950.8 1290.2,955.9 1318.1,960.2 1336.7,985.2 1353.3,1011.3 1370.7,1037.6" fill="none"/>
<polyline points="1318.1,960.2 1313.3,987.4" fill="none"/>
<polyline points="1353.3,1011.3 1348.7,1038.2" fill="none"/>
</g>
<g stroke="#111" stroke-width="0.8" stroke-linejoin="miter">
<rect x="-8.6" y="-8.6" width="17.2" height="17.2" fill="#0072BC" transform="translate(1290.2 955.9) rotate(10)"/>
<polygon points="1315,977.6 1320.6,993.7 1304.3,990.9" fill="#ED1C24"/>
<polygon points="1350.3,1028.7 1355.9,1044.5 1339.8,1041.4" fill="#ED1C24"/>
<rect x="-8.6" y="-8.6" width="17.2" height="17.2" fill="#FFD400" transform="translate(1336.7 985.2) rotate(10)"/>
<rect x="-8.6" y="-8.6" width="17.2" height="17.2" fill="#FFD400" transform="translate(1370.7 1037.6) rotate(10)"/>
<circle cx="1318.1" cy="960.2" r="8.1" fill="#FFD400"/>
<circle cx="1353.3" cy="1011.3" r="8.1" fill="#FFD400"/>
</g>
<g stroke="#1d1d1d" stroke-width="1.2" stroke-linecap="butt">
<polyline points="1803.5,837.8 1788.1,825.6 1766.4,807.2 1739.3,808.2 1708.9,811" fill="none"/>
<polyline points="1766.4,807.2 1749,828.4" fill="none"/>
</g>
<g stroke="#111" stroke-width="0.8" stroke-linejoin="miter">
<rect x="-8.6" y="-8.6" width="17.2" height="17.2" fill="#0072BC" transform="translate(1788.1 825.6) rotate(40)"/>
<polygon points="1755.4,821.2 1751.6,837.1 1740.1,826.9" fill="#ED1C24"/>
<rect x="-8.6" y="-8.6" width="17.2" height="17.2" fill="#FFD400" transform="translate(1708.9 811) rotate(45)"/>
<circle cx="1766.4" cy="807.2" r="8.1" fill="#FFD400"/>
<circle cx="1739.3" cy="808.2" r="8.1" fill="#FFD400"/>
</g>
<g stroke="#1d1d1d" stroke-width="1.2" stroke-linecap="butt">
<polyline points="1685.2,916.3 1677.5,897.9 1667.8,871.6 1640,857.5" fill="none"/>
<polyline points="1667.8,871.6 1642.9,881.4" fill="none"/>
</g>
<g stroke="#111" stroke-width="0.8" stroke-linejoin="miter">
<rect x="-8.6" y="-8.6" width="17.2" height="17.2" fill="#0072BC" transform="translate(1677.5 897.9) rotate(-18)"/>
<polygon points="1634.9,875.4 1652.5,878 1641.2,890.7" fill="#ED1C24"/>
<rect x="-8.6" y="-8.6" width="17.2" height="17.2" fill="#FFD400" transform="translate(1640 857.5) rotate(-18)"/>
<circle cx="1667.8" cy="871.6" r="8.1" fill="#FFD400"/>
</g>
<g stroke="#1d1d1d" stroke-width="1.2" stroke-linecap="butt">
<polyline points="1706.1,911.7 1710.2,930.3 1718.4,957.7 1703.8,985.2 1687.7,1012.1" fill="none"/>
<polyline points="1718.4,957.7 1692,965.3" fill="none"/>
</g>
<g stroke="#111" stroke-width="0.8" stroke-linejoin="miter">
<rect x="-8.6" y="-8.6" width="17.2" height="17.2" fill="#0072BC" transform="translate(1710.2 930.3) rotate(-15)"/>
<polygon points="1684.7,958.9 1701,962.8 1690.3,974.3" fill="#ED1C24"/>
<rect x="-8.6" y="-8.6" width="17.2" height="17.2" fill="#FFD400" transform="translate(1703.8 985.2) rotate(-18)"/>
<circle cx="1718.4" cy="957.7" r="8.1" fill="#FFD400"/>
<circle cx="1687.7" cy="1012.1" r="8.1" fill="#FFD400"/>
</g>
<g stroke="#1d1d1d" stroke-width="1.2" stroke-linecap="butt">
<polyline points="1772.6,870.5 1779.7,893.8 1788.6,920.1 1778.4,945.1" fill="none"/>
<polyline points="1788.6,920.1 1763.2,929.1" fill="none"/>
</g>
<g stroke="#111" stroke-width="0.8" stroke-linejoin="miter">
<rect x="-8.6" y="-8.6" width="17.2" height="17.2" fill="#0072BC" transform="translate(1779.7 893.8) rotate(-15)"/>
<polygon points="1755.4,923.2 1772.5,925.7 1761.8,938.5" fill="#ED1C24"/>
<circle cx="1788.6" cy="920.1" r="8.1" fill="#FFD400"/>
<circle cx="1778.4" cy="945.1" r="8.1" fill="#FFD400"/>
</g>
<g transform="translate(524 763.3) rotate(30.6)">
<path d="M-32.1 -14.1C-29.9 -19.8 -32.5 -24.4 -35.3 -28.2C-31.8 -24.4 -28.6 -19.8 -30.1 -14.1ZM-26.1 -14.1C-27.1 -19.7 -24.6 -24.1 -21.9 -27.8C-24 -24.1 -25.9 -19.7 -24.1 -14.1ZM-18.5 -14.1C-18.8 -18.7 -17.3 -22.3 -15.8 -25.2C-16.7 -22.3 -17.5 -18.7 -16.4 -14.1ZM-13.3 -14.1C-13.6 -19.7 -12.2 -24.2 -10.7 -27.8C-11.6 -24.2 -12.3 -19.7 -11.2 -14.1ZM-7.6 -14.1C-5.6 -19.7 -7.8 -24.3 -10.2 -28C-7.2 -24.3 -4.4 -19.7 -5.6 -14.1ZM-0.1 -14.1C1 -18.6 0.3 -22.1 -0.6 -25C0.9 -22.1 2.3 -18.6 2 -14.1ZM6.1 -14.1C5.5 -19.1 7.4 -23.1 9.4 -26.3C8 -23.1 6.7 -19.1 8.1 -14.1ZM11.6 -14.1C10.1 -19.3 13.4 -23.5 16.8 -26.9C14 -23.5 11.4 -19.3 13.7 -14.1ZM17.2 -14.1C15.9 -19.1 18.9 -23 22.1 -26.2C19.5 -23 17.2 -19.1 19.3 -14.1ZM24.3 -14.1C26 -19.9 24.2 -24.6 22.3 -28.5C24.8 -24.6 27.2 -19.9 26.3 -14.1ZM28.5 -14.1C30.9 -20 28 -24.8 25 -28.7C28.7 -24.8 32.1 -20 30.5 -14.1ZM-28.6 14.1C-31.2 19.9 -28.1 24.5 -24.7 28.3C-28.7 24.5 -32.5 19.9 -30.7 14.1ZM-23.1 14.1C-22.6 19.9 -24.4 24.6 -26.3 28.4C-25 24.6 -23.8 19.9 -25.2 14.1ZM-16.9 14.1C-19.3 19.9 -16.5 24.5 -13.5 28.3C-17.1 24.5 -20.6 19.9 -18.9 14.1ZM-10.9 14.1C-12.3 18.6 -11 22.1 -9.5 25C-11.6 22.1 -13.6 18.6 -12.9 14.1ZM-5.2 14.1C-4.1 18.8 -6.8 22.5 -9.7 25.5C-7.4 22.5 -5.3 18.8 -7.3 14.1ZM0 14.1C0.5 19.5 -1.2 23.9 -2.9 27.4C-1.8 23.9 -0.8 19.5 -2 14.1ZM7.1 14.1C8.2 19.1 5.6 23.1 2.9 26.4C5 23.1 6.9 19.1 5.1 14.1ZM13 14.1C10.6 19 13.4 22.9 16.5 26.1C12.8 22.9 9.4 19 11 14.1ZM19.5 14.1C20.2 18.8 18.2 22.5 16.2 25.5C17.6 22.5 18.9 18.8 17.5 14.1ZM25.8 14.1C27.5 19.4 24 23.5 20.3 27C23.4 23.5 26.2 19.4 23.8 14.1ZM31 14.1C32.6 19.1 29.2 23 25.5 26.2C28.6 23 31.4 19.1 29 14.1ZM-38.6 -13.1C-40.8 -17.8 -40.2 -22.3 -39.2 -26.1C-39.6 -22.4 -39.6 -18.2 -36.6 -13.7ZM-45.3 -7.5C-50.3 -9.1 -51.5 -14.2 -51.9 -19.1C-51.1 -14.7 -49.5 -10.1 -44.1 -9.1ZM-47.4 1C-52.6 -0.9 -56.7 1.2 -60.1 3.5C-56.7 0.6 -52.6 -2.2 -47.4 -1ZM-44.1 9.1C-49.9 11.1 -52.6 15.4 -54.5 19.4C-52.9 14.9 -50.6 10.1 -45.3 7.5ZM-36.6 13.7C-39.6 18.3 -39.7 22.7 -39.5 26.4C-40.3 22.5 -40.8 18 -38.6 13.1ZM36.6 -13.7C39.8 -18.1 39.5 -22.5 38.9 -26.3C40.1 -22.4 41 -17.8 38.6 -13.1ZM44.1 -9.1C48.8 -10.2 50.4 -13.9 51.4 -17.4C50.8 -13.4 49.5 -9.2 45.3 -7.5ZM47.4 -1C52.5 -1.3 56.6 0.1 59.9 1.6C56.6 0.7 52.5 -0.1 47.4 1ZM45.3 7.5C50.3 9.7 52.2 14.4 53.3 18.8C51.8 14.9 49.6 10.7 44.1 9.1ZM38.6 13.1C38.1 19.3 42.1 22.8 46.1 25.5C41.5 23 36.9 19.7 36.6 13.7Z" fill="#4A5915"/>
<rect x="-48.8" y="-15.5" width="97.5" height="31" rx="15.5" fill="#667228" stroke="#4A5915" stroke-width="1.6"/>
<path d="M-47.2 2 C-46.8 11.6 -35.2 10.3 -30.2 10.3 L30.2 10.3 C35.2 10.3 46.8 11.6 47.2 2 C47.8 17.1 39.2 14.7 33.2 14.7 L-33.2 14.7 C-39.2 14.7 -47.8 17.1 -47.2 2Z" fill="#566220"/>
<path d="M-31.2 -8.1 L-8.3 -8.1" stroke="#74812F" stroke-width="3" stroke-linecap="round"/>
<circle cx="-0.7" cy="-6.2" r="2" fill="#74812F"/>
</g>
<g transform="translate(1601.8 765.5) rotate(30.6)">
<path d="M-30.1 -14.1C-29 -20 -29.9 -24.7 -30.8 -28.5C-29.3 -24.7 -27.7 -20 -28.1 -14.1ZM-25.5 -14.1C-23.2 -18.8 -25.9 -22.5 -28.8 -25.5C-25.3 -22.5 -21.9 -18.8 -23.5 -14.1ZM-19.7 -14.1C-18.6 -18.9 -19.4 -22.6 -20.4 -25.7C-18.8 -22.6 -17.4 -18.9 -17.7 -14.1ZM-11.9 -14.1C-9.6 -19.5 -12.3 -23.8 -15.2 -27.3C-11.7 -23.8 -8.3 -19.5 -9.9 -14.1ZM-7 -14.1C-5.5 -19.2 -6.9 -23.3 -8.4 -26.6C-6.2 -23.3 -4.2 -19.2 -4.9 -14.1ZM-0.1 -14.1C-1.9 -19.1 1.8 -23 5.7 -26.3C2.4 -23 -0.6 -19.1 1.9 -14.1ZM4.8 -14.1C6.2 -19.9 5 -24.5 3.8 -28.3C5.6 -24.5 7.4 -19.9 6.9 -14.1ZM10.4 -14.1C12 -18.6 10.5 -22.1 8.8 -25C11.1 -22.1 13.3 -18.6 12.5 -14.1ZM17.1 -14.1C19 -19.1 17 -23 14.9 -26.3C17.6 -23 20.3 -19.1 19.2 -14.1ZM24.4 -14.1C26.1 -19.2 24.3 -23.3 22.4 -26.6C24.9 -23.3 27.3 -19.2 26.4 -14.1ZM29.9 -14.1C28.1 -19.1 31.9 -23 35.9 -26.2C32.5 -23 29.3 -19.1 31.9 -14.1ZM-30 14.1C-32.2 19.7 -29.7 24.1 -27 27.8C-30.3 24.1 -33.5 19.7 -32.1 14.1ZM-22.8 14.1C-24.3 18.9 -22.9 22.7 -21.3 25.8C-23.5 22.7 -25.6 18.9 -24.8 14.1ZM-17.1 14.1C-18.7 19.8 -17.1 24.3 -15.4 28.1C-17.8 24.3 -20 19.8 -19.2 14.1ZM-10.1 14.1C-12.1 19.2 -10 23.3 -7.6 26.7C-10.6 23.3 -13.3 19.2 -12.1 14.1ZM-5.1 14.1C-4.3 18.9 -6.4 22.6 -8.7 25.7C-7 22.6 -5.5 18.9 -7.1 14.1ZM1.9 14.1C-0.4 19.5 2.3 23.7 5.1 27.3C1.7 23.7 -1.6 19.5 -0.1 14.1ZM6.6 14.1C4.4 20 6.9 24.7 9.6 28.6C6.3 24.7 3.2 20 4.6 14.1ZM12.7 14.1C13.8 18.9 11.1 22.6 8.3 25.7C10.5 22.6 12.5 18.9 10.6 14.1ZM19.8 14.1C20.1 19.1 18.7 23 17.3 26.2C18.1 23 18.9 19.1 17.8 14.1ZM26.4 14.1C27.6 18.7 24.8 22.3 21.9 25.3C24.2 22.3 26.3 18.7 24.4 14.1ZM30.7 14.1C32.4 18.9 28.8 22.7 25.1 25.8C28.2 22.7 31.1 18.9 28.7 14.1ZM-38.6 -13.1C-39.1 -18.8 -41.5 -22.7 -43.7 -25.8C-40.9 -22.9 -37.9 -19.2 -36.6 -13.7ZM-45.3 -7.5C-49.5 -9.8 -51.5 -13.6 -52.8 -17C-51.1 -14 -48.8 -10.8 -44.1 -9.1ZM-47.4 1C-52.4 2.4 -56.5 -0.7 -59.8 -4C-56.5 -1.3 -52.4 1.2 -47.4 -1ZM-44.1 9.1C-47.2 12.5 -51.4 12.7 -55.2 12.5C-51.8 12.2 -48 11.5 -45.3 7.5ZM-36.6 13.7C-37.9 19 -40.8 22.7 -43.4 25.6C-41.4 22.5 -39.1 18.7 -38.6 13.1ZM36.6 -13.7C36.7 -18.5 40.8 -20.8 44.8 -22.5C41.3 -20.6 37.9 -18.1 38.6 -13.1ZM44.1 -9.1C47.8 -12.5 52 -13.4 55.7 -13.9C52.4 -12.9 48.6 -11.4 45.3 -7.5ZM47.4 -1C52.9 -2.1 57.3 0.5 61 3.3C57.3 1.1 52.9 -0.9 47.4 1ZM45.3 7.5C49.5 10.1 51.9 13.7 53.6 16.8C51.5 14.2 48.8 11.2 44.1 9.1ZM38.6 13.1C39 17.9 40.9 21.1 42.7 23.7C40.3 21.3 37.8 18.3 36.6 13.7Z" fill="#4A5915"/>
<rect x="-48.8" y="-15.5" width="97.5" height="31" rx="15.5" fill="#667228" stroke="#4A5915" stroke-width="1.6"/>
<path d="M-47.2 2 C-46.8 11.6 -35.2 10.3 -30.2 10.3 L30.2 10.3 C35.2 10.3 46.8 11.6 47.2 2 C47.8 17.1 39.2 14.7 33.2 14.7 L-33.2 14.7 C-39.2 14.7 -47.8 17.1 -47.2 2Z" fill="#566220"/>
<path d="M-31.2 -8.1 L-8.3 -8.1" stroke="#74812F" stroke-width="3" stroke-linecap="round"/>
<circle cx="-0.7" cy="-6.2" r="2" fill="#74812F"/>
</g>
<g transform="translate(444.6 956) rotate(154.5)">
<path d="M-38.9 -17.3C-39.7 -23.6 -37.3 -28.6 -34.9 -32.8C-36.6 -28.6 -38.2 -23.6 -36.4 -17.3ZM-30.6 -17.3C-30.8 -22.7 -29.3 -27 -27.8 -30.6C-28.6 -27 -29.3 -22.7 -28.1 -17.3ZM-24 -17.3C-25.8 -23 -21.9 -27.6 -17.8 -31.4C-21.2 -27.6 -24.3 -23 -21.6 -17.3ZM-16 -17.3C-14.2 -23.6 -15.8 -28.7 -17.6 -32.8C-15.1 -28.7 -12.7 -23.6 -13.5 -17.3ZM-9.3 -17.3C-10.9 -22.9 -7.2 -27.3 -3.3 -31C-6.5 -27.3 -9.4 -22.9 -6.8 -17.3ZM-0.7 -17.3C0.6 -23.8 -0.2 -29.1 -1.1 -33.4C0.5 -29.1 2.1 -23.8 1.8 -17.3ZM5.7 -17.3C4.1 -22.7 7.7 -26.9 11.5 -30.4C8.4 -26.9 5.7 -22.7 8.2 -17.3ZM13.8 -17.3C13 -24.3 15.4 -29.9 17.9 -34.6C16.1 -29.9 14.5 -24.3 16.3 -17.3ZM20.7 -17.3C22.6 -24.1 20.8 -29.5 18.9 -34C21.6 -29.5 24.1 -24.1 23.2 -17.3ZM29.3 -17.3C30.7 -22.8 29.7 -27.1 28.6 -30.7C30.4 -27.1 32.2 -22.8 31.8 -17.3ZM35.2 -17.3C37.6 -23.8 35 -29.1 32.2 -33.4C35.8 -29.1 39.1 -23.8 37.7 -17.3ZM-36 17.3C-38.1 24.1 -36 29.6 -33.7 34.2C-36.7 29.6 -39.6 24.1 -38.5 17.3ZM-28.2 17.3C-26.9 24.2 -30 29.9 -33.3 34.5C-30.8 29.9 -28.4 24.2 -30.7 17.3ZM-20.1 17.3C-18.9 24.4 -22 30.2 -25.2 34.9C-22.7 30.2 -20.4 24.4 -22.6 17.3ZM-13.1 17.3C-12.1 23.2 -14.8 27.9 -17.7 31.8C-15.6 27.9 -13.6 23.2 -15.6 17.3ZM-5.7 17.3C-4.1 23 -7.6 27.5 -11.3 31.2C-8.4 27.5 -5.7 23 -8.1 17.3ZM0.7 17.3C-1.8 22.7 1 27 4 30.6C0.2 27 -3.3 22.7 -1.7 17.3ZM7.7 17.3C8.5 24.1 6.1 29.5 3.5 34C5.3 29.5 7 24.1 5.2 17.3ZM14.9 17.3C15.8 23.4 13.3 28.3 10.7 32.3C12.6 28.3 14.2 23.4 12.4 17.3ZM22.4 17.3C22.6 23.7 21.1 28.9 19.5 33.1C20.3 28.9 21.1 23.7 19.9 17.3ZM31 17.3C31.6 24.3 29.5 29.9 27.3 34.6C28.8 29.9 30.1 24.3 28.5 17.3ZM39.5 17.3C39.8 23.2 38.2 27.9 36.5 31.7C37.4 27.9 38.3 23.2 37 17.3ZM-47.3 -16.1C-46.9 -23.6 -51.5 -28.1 -56.1 -31.5C-50.8 -28.3 -45.4 -24 -44.9 -16.9ZM-55.5 -9.2C-60.9 -12.6 -64 -17.1 -66.3 -21.1C-63.6 -17.7 -60 -13.8 -54.1 -11.2ZM-58.1 1.2C-65.1 -0.4 -70.9 1 -75.6 2.7C-70.9 0.3 -65.1 -2 -58.1 -1.2ZM-54.1 11.2C-61.2 13.2 -64.2 18.9 -66.1 24.2C-64.6 18.3 -62.1 12 -55.5 9.2ZM-44.9 16.9C-49.2 21.8 -48 27.2 -46.3 31.9C-48.7 26.9 -50.6 21.3 -47.3 16.1ZM44.9 -16.9C45.8 -23.3 50.2 -27.4 54.4 -30.5C50.9 -27.2 47.3 -22.9 47.3 -16.1ZM54.1 -11.2C60.8 -12.8 63.2 -18.3 64.8 -23.4C63.6 -17.7 61.7 -11.6 55.5 -9.2ZM58.1 -1.2C64.1 -2.6 69 0.6 73 4C69 1.4 64.1 -1 58.1 1.2ZM55.5 9.2C60.1 14.8 65.7 16.7 70.6 17.9C65.2 17.3 59.2 16 54.1 11.2ZM47.3 16.1C50.2 21.7 49.1 27.3 47.6 32.2C48.4 27.5 48.8 22.2 44.9 16.9Z" fill="#4A5915"/>
<rect x="-59.5" y="-18.8" width="119" height="37.5" rx="18.8" fill="#667228" stroke="#4A5915" stroke-width="1.6"/>
<path d="M-58 2 C-57.5 14.1 -42.8 13.6 -37.8 13.6 L37.8 13.6 C42.8 13.6 57.5 14.1 58 2 C58.5 20.6 46.8 17.9 40.8 17.9 L-40.8 17.9 C-46.8 17.9 -58.5 20.6 -58 2Z" fill="#566220"/>
<path d="M-38.8 -9.8 L-10.2 -9.8" stroke="#74812F" stroke-width="3" stroke-linecap="round"/>
<circle cx="-0.8" cy="-7.5" r="2" fill="#74812F"/>
</g>
<g transform="translate(1033.1 839.4) rotate(90)">
<path d="M-30.9 -14.3C-29.2 -19 -30.9 -22.6 -32.8 -25.6C-30.3 -22.6 -28 -19 -28.9 -14.3ZM-25.4 -14.3C-23.5 -18.8 -25.6 -22.4 -27.8 -25.3C-24.9 -22.4 -22.2 -18.8 -23.4 -14.3ZM-17.9 -14.3C-16.5 -20 -17.7 -24.5 -19.1 -28.2C-17.1 -24.5 -15.2 -20 -15.8 -14.3ZM-13.3 -14.3C-12 -19.1 -13 -22.8 -14.1 -25.9C-12.4 -22.8 -10.8 -19.1 -11.2 -14.3ZM-5.8 -14.3C-3.7 -18.9 -6 -22.4 -8.5 -25.3C-5.4 -22.4 -2.5 -18.9 -3.8 -14.3ZM-0.3 -14.3C1.2 -19.1 -0.2 -22.9 -1.9 -26C0.4 -22.9 2.5 -19.1 1.8 -14.3ZM3.8 -14.3C6 -19.7 3.6 -24 1 -27.6C4.2 -24 7.2 -19.7 5.9 -14.3ZM9.9 -14.3C11.1 -19.5 10.2 -23.7 9.1 -27.1C10.8 -23.7 12.4 -19.5 12 -14.3ZM15.4 -14.3C17.5 -19.3 15.1 -23.1 12.4 -26.3C15.7 -23.1 18.8 -19.3 17.4 -14.3ZM23.2 -14.3C24.9 -19.6 23.2 -23.8 21.3 -27.2C23.8 -23.8 26.2 -19.6 25.3 -14.3ZM28.1 -14.3C29.6 -19.1 28.2 -22.8 26.5 -25.8C28.8 -22.8 30.9 -19.1 30.1 -14.3ZM-29.2 14.3C-31.9 19.5 -28.7 23.6 -25.3 27C-29.3 23.6 -33.2 19.5 -31.3 14.3ZM-21.9 14.3C-20.6 19 -23.6 22.7 -26.8 25.8C-24.2 22.7 -21.8 19 -24 14.3ZM-16.7 14.3C-15.5 19.1 -18.4 22.9 -21.5 26C-19 22.9 -16.7 19.1 -18.8 14.3ZM-11.4 14.3C-10.2 19.5 -13 23.6 -16 26.9C-13.7 23.6 -11.5 19.5 -13.5 14.3ZM-3.9 14.3C-3.5 19 -5 22.6 -6.6 25.6C-5.6 22.6 -4.8 19 -5.9 14.3ZM0.5 14.3C2.1 19.7 -1.4 24 -5.1 27.5C-2 24 0.9 19.7 -1.6 14.3ZM6.5 14.3C7.5 19.1 5 22.8 2.3 25.9C4.4 22.8 6.2 19.1 4.4 14.3ZM12.4 14.3C14.2 18.9 10.5 22.6 6.5 25.5C9.8 22.6 12.9 18.9 10.3 14.3ZM19.2 14.3C19.5 20.2 18 25 16.6 29C17.4 25 18.2 20.2 17.1 14.3ZM24 14.3C25.3 19 22.4 22.8 19.2 25.8C21.7 22.8 24.1 19 22 14.3ZM29.8 14.3C30.8 19.1 28.3 22.9 25.7 26C27.7 22.9 29.5 19.1 27.7 14.3ZM-37.6 -13.3C-40.3 -17.6 -38.8 -22.1 -36.9 -26C-38.2 -22.3 -39.1 -17.9 -35.6 -13.9ZM-44.4 -7.6C-48.6 -10.3 -51 -13.7 -52.7 -16.8C-50.6 -14.2 -47.9 -11.3 -43.2 -9.2ZM-46.5 1C-51.7 -0.6 -55.8 1 -59.2 2.8C-55.8 0.4 -51.7 -1.9 -46.5 -1ZM-43.2 9.2C-49.2 11.2 -51.8 15.7 -53.7 19.9C-52.2 15.2 -49.9 10.1 -44.4 7.6ZM-35.6 13.9C-36.6 19.9 -40.4 23.7 -44 26.7C-41 23.5 -37.8 19.5 -37.6 13.3ZM35.6 -13.9C36.7 -18.5 39.3 -21.5 41.8 -23.9C39.9 -21.3 37.9 -18.1 37.6 -13.3ZM43.2 -9.2C46.5 -13.9 52.2 -13.4 57.4 -12.2C52.5 -12.9 47.2 -12.8 44.4 -7.6ZM46.5 -1C51.8 1 56.1 -1.2 59.5 -3.5C56.1 -0.6 51.8 2.2 46.5 1ZM44.4 7.6C48.5 12.1 53 14.1 56.9 15.6C52.6 14.6 47.7 13.2 43.2 9.2ZM37.6 13.3C40.2 18.4 39.4 23.4 38.1 27.8C38.8 23.6 39 18.8 35.6 13.9Z" fill="#4A5915"/>
<rect x="-47.9" y="-15.7" width="95.8" height="31.4" rx="15.7" fill="#667228" stroke="#4A5915" stroke-width="1.6"/>
<path d="M-46.4 2 C-45.9 11.8 -34.2 10.5 -29.2 10.5 L29.2 10.5 C34.2 10.5 45.9 11.8 46.4 2 C46.9 17.3 38.2 14.9 32.2 14.9 L-32.2 14.9 C-38.2 14.9 -46.9 17.3 -46.4 2Z" fill="#566220"/>
<path d="M-30.2 -8.2 L-8.1 -8.2" stroke="#74812F" stroke-width="3" stroke-linecap="round"/>
<circle cx="-0.6" cy="-6.3" r="2" fill="#74812F"/>
</g>
<g transform="translate(1979.3 920.6) rotate(-37.8)">
<path d="M-30.5 -14.1C-28.2 -19.7 -30.9 -24.1 -33.8 -27.7C-30.2 -24.1 -26.9 -19.7 -28.5 -14.1ZM-24 -14.1C-22.6 -19.7 -23.9 -24.2 -25.4 -27.9C-23.3 -24.2 -21.3 -19.7 -22 -14.1ZM-17.9 -14.1C-16.1 -18.7 -18 -22.3 -20 -25.3C-17.4 -22.3 -14.9 -18.7 -15.9 -14.1ZM-13.2 -14.1C-11.8 -18.7 -13.1 -22.3 -14.6 -25.3C-12.5 -22.3 -10.5 -18.7 -11.2 -14.1ZM-7.2 -14.1C-8.8 -18.8 -5.3 -22.5 -1.6 -25.6C-4.7 -22.5 -7.6 -18.8 -5.2 -14.1ZM-1.8 -14.1C-2.3 -19.7 -0.6 -24.2 1.2 -28C-0 -24.2 -1.1 -19.7 0.2 -14.1ZM4 -14.1C6.5 -18.6 3.6 -22 0.5 -24.9C4.2 -22 7.7 -18.6 6.1 -14.1ZM11.5 -14.1C12.9 -20 11.7 -24.7 10.5 -28.6C12.4 -24.7 14.1 -20 13.6 -14.1ZM16.3 -14.1C18.3 -20 16.2 -24.7 14 -28.6C16.8 -24.7 19.5 -20 18.4 -14.1ZM22 -14.1C21.4 -20 23.3 -24.7 25.2 -28.6C23.9 -24.7 22.7 -20 24.1 -14.1ZM28.3 -14.1C29.6 -19.1 28.5 -23 27.2 -26.3C29.1 -23 30.9 -19.1 30.3 -14.1ZM-29.3 14.1C-27.7 19.1 -31.1 22.9 -34.7 26.2C-31.7 22.9 -29 19.1 -31.4 14.1ZM-22.6 14.1C-22.2 19.6 -23.7 24 -25.3 27.6C-24.3 24 -23.4 19.6 -24.6 14.1ZM-16.1 14.1C-17.6 19.3 -16.1 23.4 -14.5 26.7C-16.8 23.4 -18.9 19.3 -18.1 14.1ZM-11 14.1C-10.3 18.8 -12.3 22.5 -14.4 25.6C-12.9 22.5 -11.5 18.8 -13 14.1ZM-3.9 14.1C-5.6 19.1 -3.8 23 -2 26.3C-4.5 23 -6.8 19.1 -5.9 14.1ZM0.7 14.1C1 19.4 -0.4 23.6 -1.9 27.1C-1 23.6 -0.3 19.4 -1.3 14.1ZM7.5 14.1C9.3 19.5 5.5 23.8 1.6 27.3C4.9 23.8 8 19.5 5.4 14.1ZM13.5 14.1C15.3 19.9 11.6 24.6 7.7 28.5C11 24.6 14.1 19.9 11.5 14.1ZM18.9 14.1C17.5 19.9 18.8 24.5 20.3 28.3C18.2 24.5 16.2 19.9 16.9 14.1ZM23.9 14.1C25.4 19.7 22.1 24.1 18.6 27.8C21.5 24.1 24.2 19.7 21.9 14.1ZM29.7 14.1C30.1 20 28.5 24.7 26.8 28.5C27.9 24.7 28.8 20 27.6 14.1ZM-38.1 -13.1C-40.5 -17.8 -39.6 -22.4 -38.4 -26.4C-39 -22.6 -39.3 -18.2 -36.1 -13.7ZM-44.8 -7.5C-49.8 -9 -50.8 -14.2 -51.2 -19.2C-50.5 -14.7 -49.1 -10 -43.6 -9.1ZM-46.9 1C-51.8 1.8 -55.6 -0.3 -58.8 -2.6C-55.6 -1 -51.8 0.5 -46.9 -1ZM-43.6 9.1C-49.3 10.8 -51.6 15.2 -53.2 19.4C-52 14.8 -50.1 9.7 -44.8 7.5ZM-36.1 13.7C-37.5 19.5 -40.6 23.5 -43.6 26.7C-41.2 23.3 -38.7 19.1 -38.1 13.1ZM36.1 -13.7C39.5 -17.5 38.5 -21.5 37.1 -25.1C39.1 -21.3 40.7 -17.1 38.1 -13.1ZM43.6 -9.1C48.5 -10 49.9 -14.1 50.6 -18C50.2 -13.6 49.3 -8.9 44.8 -7.5ZM46.9 -1C52.5 0.8 57.1 -1.1 60.8 -3.1C57.1 -0.5 52.5 2 46.9 1ZM44.8 7.5C49.6 8.7 50.4 13.9 50.4 18.9C50 14.4 48.9 9.8 43.6 9.1ZM38.1 13.1C40.6 18.2 39.9 23.2 38.9 27.4C39.3 23.4 39.4 18.6 36.1 13.7Z" fill="#4A5915"/>
<rect x="-48.2" y="-15.5" width="96.5" height="31" rx="15.5" fill="#667228" stroke="#4A5915" stroke-width="1.6"/>
<path d="M-46.8 2 C-46.2 11.6 -34.8 10.3 -29.8 10.3 L29.8 10.3 C34.8 10.3 46.2 11.6 46.8 2 C47.2 17.1 38.8 14.7 32.8 14.7 L-32.8 14.7 C-38.8 14.7 -47.2 17.1 -46.8 2Z" fill="#566220"/>
<path d="M-30.8 -8.1 L-8.2 -8.1" stroke="#74812F" stroke-width="3" stroke-linecap="round"/>
<circle cx="-0.7" cy="-6.2" r="2" fill="#74812F"/>
</g>
<text x="1046.7" y="140.9" font-size="40.5" font-weight="bold" fill="#000" text-anchor="middle">Universal donor</text>
<text x="1046.2" y="186.7" font-size="41.2" font-weight="bold" fill="#000" text-anchor="middle">blood</text>
<text x="581.7" y="86.7" font-size="28.3" font-weight="bold" fill="#1B5488" text-anchor="start">A antigens</text>
<text x="1371.2" y="93.1" font-size="28.3" font-weight="bold" fill="#1B5488" text-anchor="start">B antigens</text>
<text x="539.8" y="1029.8" font-size="28.3" font-weight="bold" fill="#1B5488" text-anchor="start">A &amp; B antigens</text>
<text x="758.7" y="637.6" font-size="34.2" font-weight="bold" fill="#000" text-anchor="middle">A converting</text>
<text x="759.6" y="675.2" font-size="34.2" font-weight="bold" fill="#000" text-anchor="middle">Enzymes</text>
<text x="1368.9" y="641.9" font-size="34.2" font-weight="bold" fill="#000" text-anchor="middle">B converting</text>
<text x="1369.3" y="678.9" font-size="34.2" font-weight="bold" fill="#000" text-anchor="middle">Enzymes</text>
<text x="17.5" y="730.6" font-size="34.2" font-weight="bold" fill="#000" text-anchor="start">Human Gut Mucosa</text>
<text x="579.9" y="758.5" font-size="28.3" font-weight="bold" fill="#356332" text-anchor="start">Human Gut Bacterium</text>
</svg></body></html>
